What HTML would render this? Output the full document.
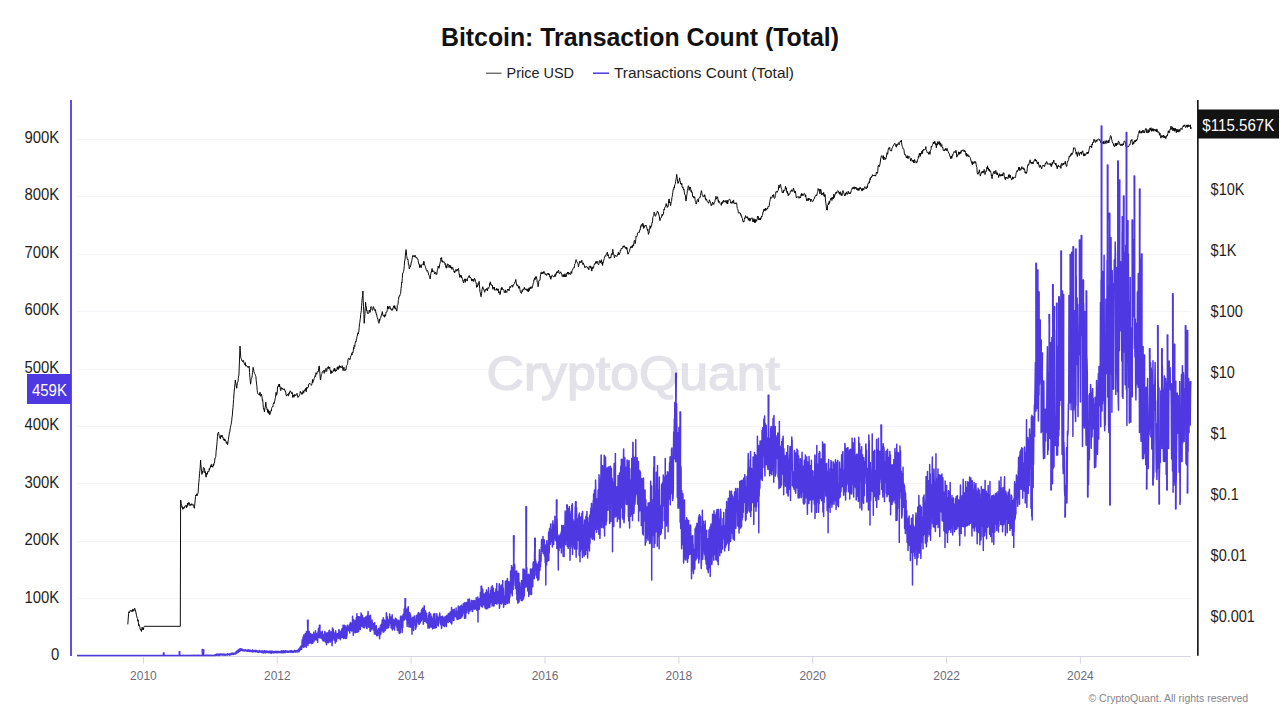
<!DOCTYPE html>
<html><head><meta charset="utf-8"><style>
html,body{margin:0;padding:0;background:#fff;width:1280px;height:720px;overflow:hidden}
svg{display:block;font-family:'Liberation Sans',sans-serif}
</style></head><body>
<svg width="1280" height="720" viewBox="0 0 1280 720" style="font-family:'Liberation Sans',sans-serif">
<rect width="1280" height="720" fill="#fff"/>
<text x="441" y="45.6" font-size="25" font-weight="bold" fill="#111" textLength="398" lengthAdjust="spacingAndGlyphs">Bitcoin: Transaction Count (Total)</text>
<line x1="486" y1="73.2" x2="501.5" y2="73.2" stroke="#333" stroke-width="1"/>
<text x="506.5" y="77.6" font-size="15.5" fill="#222" textLength="67.5" lengthAdjust="spacingAndGlyphs">Price USD</text>
<line x1="593" y1="73.2" x2="609" y2="73.2" stroke="#4e38e2" stroke-width="1.5"/>
<text x="614" y="77.6" font-size="15.5" fill="#222" textLength="180" lengthAdjust="spacingAndGlyphs">Transactions Count (Total)</text>
<line x1="77" y1="598.5" x2="1191" y2="598.5" stroke="#f4f4f8" stroke-width="1"/><line x1="77" y1="541.5" x2="1191" y2="541.5" stroke="#f4f4f8" stroke-width="1"/><line x1="77" y1="483.5" x2="1191" y2="483.5" stroke="#f4f4f8" stroke-width="1"/><line x1="77" y1="426.5" x2="1191" y2="426.5" stroke="#f4f4f8" stroke-width="1"/><line x1="77" y1="369.5" x2="1191" y2="369.5" stroke="#f4f4f8" stroke-width="1"/><line x1="77" y1="311.5" x2="1191" y2="311.5" stroke="#f4f4f8" stroke-width="1"/><line x1="77" y1="254.5" x2="1191" y2="254.5" stroke="#f4f4f8" stroke-width="1"/><line x1="77" y1="196.5" x2="1191" y2="196.5" stroke="#f4f4f8" stroke-width="1"/><line x1="77" y1="139.5" x2="1191" y2="139.5" stroke="#f4f4f8" stroke-width="1"/>
<text x="486.5" y="390.3" font-size="48" fill="#e3e2e9" stroke="#e3e2e9" stroke-width="1.4" textLength="293.5" lengthAdjust="spacingAndGlyphs">CryptoQuant</text>
<line x1="77" y1="656.5" x2="1191" y2="656.5" stroke="#d6d5e3" stroke-width="1"/>
<line x1="143.4" y1="656.5" x2="143.4" y2="663.5" stroke="#d6d5e0" stroke-width="1"/><line x1="277.3" y1="656.5" x2="277.3" y2="663.5" stroke="#d6d5e0" stroke-width="1"/><line x1="411.1" y1="656.5" x2="411.1" y2="663.5" stroke="#d6d5e0" stroke-width="1"/><line x1="545.0" y1="656.5" x2="545.0" y2="663.5" stroke="#d6d5e0" stroke-width="1"/><line x1="678.8" y1="656.5" x2="678.8" y2="663.5" stroke="#d6d5e0" stroke-width="1"/><line x1="812.7" y1="656.5" x2="812.7" y2="663.5" stroke="#d6d5e0" stroke-width="1"/><line x1="946.6" y1="656.5" x2="946.6" y2="663.5" stroke="#d6d5e0" stroke-width="1"/><line x1="1080.4" y1="656.5" x2="1080.4" y2="663.5" stroke="#d6d5e0" stroke-width="1"/>
<text x="143.4" y="680.3" text-anchor="middle" font-size="13" fill="#6b6b7a" textLength="26.6" lengthAdjust="spacingAndGlyphs">2010</text><text x="277.3" y="680.3" text-anchor="middle" font-size="13" fill="#6b6b7a" textLength="26.6" lengthAdjust="spacingAndGlyphs">2012</text><text x="411.1" y="680.3" text-anchor="middle" font-size="13" fill="#6b6b7a" textLength="26.6" lengthAdjust="spacingAndGlyphs">2014</text><text x="545.0" y="680.3" text-anchor="middle" font-size="13" fill="#6b6b7a" textLength="26.6" lengthAdjust="spacingAndGlyphs">2016</text><text x="678.8" y="680.3" text-anchor="middle" font-size="13" fill="#6b6b7a" textLength="26.6" lengthAdjust="spacingAndGlyphs">2018</text><text x="812.7" y="680.3" text-anchor="middle" font-size="13" fill="#6b6b7a" textLength="26.6" lengthAdjust="spacingAndGlyphs">2020</text><text x="946.6" y="680.3" text-anchor="middle" font-size="13" fill="#6b6b7a" textLength="26.6" lengthAdjust="spacingAndGlyphs">2022</text><text x="1080.4" y="680.3" text-anchor="middle" font-size="13" fill="#6b6b7a" textLength="26.6" lengthAdjust="spacingAndGlyphs">2024</text>
<text x="59.2" y="659.9" text-anchor="end" font-size="16" fill="#1e1e1e" textLength="8.26" lengthAdjust="spacingAndGlyphs">0</text><text x="59.2" y="602.5" text-anchor="end" font-size="16" fill="#1e1e1e" textLength="34.70" lengthAdjust="spacingAndGlyphs">100K</text><text x="59.2" y="545.0" text-anchor="end" font-size="16" fill="#1e1e1e" textLength="34.70" lengthAdjust="spacingAndGlyphs">200K</text><text x="59.2" y="487.5" text-anchor="end" font-size="16" fill="#1e1e1e" textLength="34.70" lengthAdjust="spacingAndGlyphs">300K</text><text x="59.2" y="430.1" text-anchor="end" font-size="16" fill="#1e1e1e" textLength="34.70" lengthAdjust="spacingAndGlyphs">400K</text><text x="59.2" y="372.6" text-anchor="end" font-size="16" fill="#1e1e1e" textLength="34.70" lengthAdjust="spacingAndGlyphs">500K</text><text x="59.2" y="315.1" text-anchor="end" font-size="16" fill="#1e1e1e" textLength="34.70" lengthAdjust="spacingAndGlyphs">600K</text><text x="59.2" y="257.6" text-anchor="end" font-size="16" fill="#1e1e1e" textLength="34.70" lengthAdjust="spacingAndGlyphs">700K</text><text x="59.2" y="200.2" text-anchor="end" font-size="16" fill="#1e1e1e" textLength="34.70" lengthAdjust="spacingAndGlyphs">800K</text><text x="59.2" y="142.7" text-anchor="end" font-size="16" fill="#1e1e1e" textLength="34.70" lengthAdjust="spacingAndGlyphs">900K</text>
<text x="1210.6" y="621.8" font-size="16" fill="#1e1e1e" textLength="44.28" lengthAdjust="spacingAndGlyphs">$0.001</text><text x="1210.6" y="560.8" font-size="16" fill="#1e1e1e" textLength="36.24" lengthAdjust="spacingAndGlyphs">$0.01</text><text x="1210.6" y="499.8" font-size="16" fill="#1e1e1e" textLength="28.18" lengthAdjust="spacingAndGlyphs">$0.1</text><text x="1210.6" y="438.8" font-size="16" fill="#1e1e1e" textLength="16.11" lengthAdjust="spacingAndGlyphs">$1</text><text x="1210.6" y="377.8" font-size="16" fill="#1e1e1e" textLength="24.15" lengthAdjust="spacingAndGlyphs">$10</text><text x="1210.6" y="316.8" font-size="16" fill="#1e1e1e" textLength="32.21" lengthAdjust="spacingAndGlyphs">$100</text><text x="1210.6" y="255.8" font-size="16" fill="#1e1e1e" textLength="25.77" lengthAdjust="spacingAndGlyphs">$1K</text><text x="1210.6" y="194.8" font-size="16" fill="#1e1e1e" textLength="33.82" lengthAdjust="spacingAndGlyphs">$10K</text>
<path d="M127.8,624.4 L128.6,613.4 L128.9,611.8 L129.2,613.0 L129.5,611.7 L129.8,611.2 L130.2,610.6 L130.5,611.0 L130.8,610.5 L131.1,611.5 L131.4,610.6 L131.8,611.2 L132.1,611.8 L132.4,611.1 L132.7,609.2 L133.1,609.0 L133.4,611.1 L133.7,611.1 L134.1,610.7 L134.4,609.4 L134.7,608.2 L135.1,609.7 L135.4,609.9 L136.6,615.8 L136.9,617.1 L137.2,618.3 L137.5,618.6 L137.8,621.2 L138.1,619.9 L138.4,622.7 L138.7,625.7 L139.0,624.5 L139.3,626.1 L139.6,626.1 L139.9,627.4 L140.2,629.1 L140.5,630.2 L140.8,629.7 L141.2,630.2 L141.5,631.5 L141.8,628.3 L142.1,627.2 L142.5,628.3 L142.8,629.8 L143.1,628.2 L143.4,629.7 L143.8,627.2 L144.1,626.5 L144.4,626.3 L180.3,626.3 L180.6,500.0 L180.9,500.5 L181.2,503.6 L181.6,504.9 L181.9,507.4 L182.2,506.6 L182.5,507.8 L182.8,509.4 L183.1,507.1 L183.4,507.6 L183.7,508.6 L184.1,507.8 L184.4,507.9 L184.7,506.3 L185.0,506.2 L185.3,505.5 L185.6,505.4 L185.9,506.5 L186.2,507.1 L186.5,507.9 L186.8,505.3 L187.1,506.7 L187.4,504.0 L187.7,503.1 L188.0,505.2 L188.3,503.8 L188.6,502.5 L188.9,503.8 L189.2,502.8 L189.5,504.2 L189.9,505.9 L190.2,505.5 L190.5,504.9 L190.8,504.0 L191.1,504.5 L191.4,503.7 L191.7,505.0 L192.0,505.4 L192.3,504.6 L192.6,503.9 L192.9,504.2 L193.2,504.7 L193.5,505.7 L193.8,506.7 L194.1,507.9 L194.4,508.3 L195.5,496.7 L195.8,495.1 L196.2,495.9 L196.5,493.8 L196.8,494.4 L197.1,495.8 L197.5,494.1 L197.8,493.9 L198.2,491.9 L198.5,486.2 L198.8,482.7 L199.2,478.6 L199.5,473.7 L199.9,470.4 L200.2,467.1 L200.6,460.0 L200.9,464.8 L201.2,468.0 L201.6,471.8 L201.9,474.4 L202.2,473.3 L202.6,471.3 L203.0,472.3 L203.3,467.5 L203.6,467.6 L203.9,467.9 L204.2,467.9 L204.5,468.6 L204.9,472.8 L205.2,471.5 L205.5,473.0 L205.8,476.0 L206.1,477.2 L206.4,475.8 L206.7,473.4 L207.0,473.0 L207.3,474.3 L207.7,471.7 L208.0,471.2 L208.3,471.7 L208.6,471.8 L208.9,471.7 L209.2,468.7 L209.5,469.8 L209.8,468.1 L210.2,468.1 L210.5,465.9 L210.8,466.4 L211.1,464.6 L211.4,464.4 L211.7,467.0 L212.1,466.0 L212.4,466.2 L212.7,467.3 L213.0,466.0 L213.3,464.1 L213.6,465.7 L213.9,464.1 L214.2,463.0 L214.6,461.9 L214.9,458.2 L215.2,458.3 L215.5,457.4 L215.8,456.4 L216.1,451.5 L216.5,448.0 L216.8,444.9 L217.1,441.6 L217.5,436.5 L217.8,433.3 L218.1,433.2 L218.5,432.1 L218.8,433.5 L219.1,435.3 L219.4,436.7 L219.8,437.8 L220.1,437.6 L220.4,438.8 L220.7,435.6 L221.1,435.3 L221.4,437.0 L221.7,437.0 L222.0,435.0 L222.3,436.4 L222.6,437.4 L222.9,436.9 L223.2,438.2 L223.5,440.0 L223.8,440.0 L224.1,440.3 L224.4,438.8 L224.8,440.9 L225.1,439.5 L225.4,440.5 L225.7,440.5 L226.0,441.1 L226.3,443.4 L226.6,443.3 L226.9,441.9 L227.2,442.3 L227.5,444.6 L227.8,443.9 L228.1,440.9 L228.5,439.4 L228.8,436.5 L229.1,434.9 L229.4,432.3 L229.8,432.4 L230.1,429.0 L230.4,427.5 L230.8,425.5 L231.1,424.4 L231.4,422.8 L231.7,420.7 L232.0,417.3 L232.4,414.9 L232.7,410.0 L233.0,407.4 L233.3,403.6 L233.6,399.5 L234.0,394.0 L234.3,390.0 L234.6,387.8 L235.0,383.6 L235.3,380.0 L235.7,382.9 L236.0,383.9 L236.3,386.0 L236.7,388.3 L237.0,385.9 L237.3,382.9 L237.6,382.1 L238.0,381.4 L238.3,378.5 L238.6,375.8 L238.9,375.8 L240.0,346.1 L240.8,357.8 L241.1,358.2 L241.4,359.2 L241.7,360.4 L242.0,360.1 L242.4,361.0 L242.7,361.8 L243.0,360.8 L243.3,360.6 L243.6,360.6 L243.9,362.9 L244.3,363.6 L244.6,364.4 L244.9,365.0 L245.3,362.6 L245.6,366.1 L245.9,365.9 L246.3,365.1 L246.6,365.7 L246.9,366.4 L247.2,366.6 L247.6,366.9 L247.9,366.1 L248.2,367.6 L248.5,367.0 L248.9,366.5 L249.2,366.1 L249.5,372.5 L249.9,377.2 L250.2,380.2 L250.6,384.2 L250.9,382.2 L251.2,379.3 L251.5,378.4 L251.9,377.4 L252.2,375.6 L252.5,372.6 L252.8,370.3 L253.1,367.4 L253.4,368.6 L253.7,370.1 L254.0,371.7 L254.4,373.3 L254.7,373.5 L255.0,374.0 L255.3,374.8 L255.6,375.8 L255.9,376.7 L256.2,380.2 L256.6,384.1 L256.9,386.4 L257.2,390.3 L257.5,392.5 L257.8,393.7 L258.1,394.0 L258.5,394.1 L258.8,394.2 L259.1,395.1 L259.4,395.2 L259.8,392.6 L260.1,392.2 L260.4,394.4 L260.7,396.3 L261.1,395.6 L261.4,394.0 L261.7,395.3 L262.0,396.7 L262.4,400.4 L262.7,399.8 L263.0,403.5 L263.4,407.7 L263.7,409.2 L264.1,408.8 L264.4,411.9 L264.8,409.1 L265.1,407.5 L265.4,406.1 L265.8,402.2 L266.1,405.1 L266.4,406.7 L266.8,408.0 L267.1,410.0 L267.4,409.4 L267.7,412.4 L268.1,409.7 L268.4,413.3 L268.7,412.2 L269.0,410.9 L269.4,411.9 L269.7,414.7 L270.0,414.7 L270.3,412.4 L270.6,412.6 L271.0,410.5 L271.3,411.0 L271.6,408.5 L271.9,407.7 L272.3,406.7 L272.6,406.6 L272.9,406.9 L273.2,404.5 L273.6,402.7 L273.9,403.7 L274.2,403.6 L274.5,402.0 L274.8,400.6 L275.1,398.8 L275.5,397.2 L275.8,394.3 L276.1,392.3 L276.4,395.2 L276.7,395.1 L277.0,393.7 L277.3,391.0 L277.6,386.7 L278.0,386.3 L278.3,386.9 L278.6,385.2 L278.9,384.2 L279.2,386.8 L279.5,384.1 L279.8,386.5 L280.1,386.5 L280.4,389.5 L280.7,390.7 L281.0,389.6 L281.3,387.5 L281.6,388.3 L281.9,388.3 L282.2,389.2 L282.5,388.3 L282.8,388.5 L283.1,389.3 L283.5,389.9 L283.8,389.6 L284.1,388.7 L284.4,389.0 L284.8,390.4 L285.1,391.2 L285.4,390.8 L285.7,392.0 L286.1,395.0 L286.4,395.6 L286.7,396.1 L287.0,395.1 L287.3,394.4 L287.6,394.6 L287.9,394.3 L288.2,395.7 L288.5,395.9 L288.8,393.3 L289.1,394.3 L289.4,392.0 L289.8,392.8 L290.1,390.8 L290.4,391.4 L290.7,391.2 L291.0,392.1 L291.3,392.4 L291.6,392.5 L291.9,393.9 L292.2,392.5 L292.5,394.3 L292.8,397.5 L293.1,395.1 L293.4,395.1 L293.7,396.1 L294.0,397.2 L294.3,394.4 L294.6,395.5 L294.9,395.3 L295.2,396.0 L295.5,394.7 L295.8,395.0 L296.1,395.4 L296.4,394.6 L296.7,394.0 L297.0,393.3 L297.3,394.3 L297.6,395.0 L297.9,397.5 L298.2,396.4 L298.5,396.8 L298.8,396.6 L299.1,396.0 L299.4,395.5 L299.7,394.5 L300.0,393.7 L300.3,391.3 L300.6,392.5 L300.9,392.5 L301.2,392.2 L301.5,392.8 L301.9,394.5 L302.2,393.4 L302.5,392.5 L302.8,393.7 L303.1,390.6 L303.4,391.1 L303.8,392.7 L304.1,390.9 L304.4,390.8 L304.7,389.7 L305.0,390.6 L305.3,390.3 L305.7,388.3 L306.0,390.5 L306.3,391.8 L306.6,387.7 L307.0,388.5 L307.3,387.0 L307.6,387.9 L307.9,387.5 L308.3,387.2 L308.6,384.2 L308.9,384.2 L310.0,383.3 L310.3,383.8 L310.6,384.1 L310.9,384.4 L311.3,385.4 L311.6,384.8 L311.9,383.9 L312.2,382.6 L312.5,379.5 L312.8,382.7 L313.1,380.6 L313.5,380.8 L313.8,379.6 L314.1,378.6 L314.4,377.8 L314.7,376.8 L315.0,375.7 L315.3,376.4 L315.6,376.6 L315.9,372.7 L316.3,373.0 L316.6,374.3 L316.9,374.1 L317.2,372.2 L317.5,371.7 L317.8,372.2 L318.1,371.1 L318.4,371.3 L318.7,367.9 L319.0,366.2 L319.3,366.0 L320.4,380.0 L320.7,379.4 L321.0,377.1 L321.3,374.7 L321.6,374.1 L321.9,373.8 L322.2,372.2 L322.5,371.5 L322.8,371.1 L323.1,370.7 L323.4,370.7 L323.8,370.3 L324.1,373.4 L324.4,371.5 L324.7,370.3 L325.0,371.8 L325.3,370.1 L325.6,369.5 L325.9,368.5 L326.2,370.3 L326.6,371.5 L326.9,370.4 L327.2,367.7 L327.5,367.6 L327.8,367.8 L328.1,368.6 L328.4,366.5 L328.7,368.5 L329.1,368.3 L329.4,367.5 L329.7,366.9 L330.0,369.9 L330.3,370.8 L330.6,370.6 L330.9,373.7 L331.3,370.7 L331.6,372.3 L331.9,373.1 L332.2,372.2 L332.5,372.2 L332.8,372.2 L333.1,370.7 L333.4,370.2 L333.8,371.1 L334.1,368.6 L334.4,370.6 L334.7,368.3 L335.0,370.1 L335.3,371.7 L335.6,371.4 L335.9,369.5 L336.2,370.6 L336.6,370.5 L336.9,369.8 L337.2,367.3 L337.5,369.1 L337.8,367.8 L338.1,366.5 L338.4,369.4 L338.7,367.4 L339.1,368.3 L339.4,365.5 L339.7,367.0 L340.0,367.2 L340.3,367.4 L340.6,366.3 L340.9,367.2 L341.3,367.9 L341.6,367.0 L341.9,366.6 L342.2,365.6 L342.5,366.1 L342.8,369.3 L343.1,370.6 L343.4,368.9 L343.7,367.6 L344.0,367.2 L344.3,370.4 L344.6,370.3 L344.9,370.6 L345.2,370.7 L345.5,369.1 L345.8,369.4 L346.1,369.5 L346.4,365.8 L346.7,365.6 L347.0,365.2 L347.3,364.7 L347.6,363.6 L348.0,359.8 L348.3,358.4 L348.6,358.4 L348.9,357.9 L349.2,358.5 L349.5,358.9 L349.8,359.8 L350.2,359.0 L350.5,357.4 L350.8,356.0 L351.1,355.6 L351.4,355.0 L351.7,353.4 L352.0,355.0 L352.3,352.3 L352.7,353.0 L353.0,352.6 L353.3,350.2 L353.6,347.5 L353.9,348.8 L354.2,345.4 L354.5,346.0 L354.8,346.5 L355.1,343.3 L355.5,341.7 L355.8,341.1 L356.1,341.6 L356.4,338.9 L356.7,338.9 L357.0,336.5 L357.3,336.1 L357.6,333.9 L358.0,332.6 L358.3,333.8 L358.6,332.2 L358.9,331.1 L359.2,327.3 L359.5,323.9 L359.8,322.6 L360.1,319.8 L360.4,318.4 L360.7,314.3 L361.0,312.8 L361.3,310.4 L361.6,305.6 L361.9,302.1 L362.2,298.1 L362.6,295.5 L362.9,291.1 L363.2,300.0 L363.5,306.7 L363.9,314.7 L364.2,323.3 L364.6,318.5 L364.9,314.4 L365.2,308.9 L365.6,302.2 L365.9,305.8 L366.3,306.4 L366.6,310.6 L367.0,310.1 L367.3,313.3 L367.6,313.5 L367.9,312.8 L368.2,313.2 L368.6,313.4 L368.9,312.5 L369.2,310.1 L369.5,311.4 L369.8,312.4 L370.2,312.2 L370.5,308.5 L370.8,306.8 L371.1,306.7 L371.4,306.6 L371.7,307.4 L372.0,309.6 L372.3,310.4 L372.7,310.1 L373.0,308.9 L373.3,306.6 L373.6,307.5 L373.9,307.5 L374.2,309.3 L374.5,309.3 L374.8,310.7 L375.1,310.2 L375.5,309.6 L375.8,312.7 L376.1,312.5 L376.4,314.8 L376.7,314.4 L377.0,316.8 L377.3,317.5 L377.6,318.8 L378.0,318.7 L378.3,321.9 L378.6,322.3 L378.9,323.3 L379.2,322.7 L379.5,319.4 L379.8,320.4 L380.2,318.6 L380.5,317.8 L380.8,317.8 L381.1,315.6 L381.4,315.5 L381.7,313.8 L382.0,314.2 L382.3,311.6 L382.7,314.1 L383.0,315.3 L383.3,316.2 L383.6,315.3 L383.9,315.6 L384.2,315.7 L384.5,317.2 L384.8,314.7 L385.1,315.0 L385.5,316.2 L385.8,313.8 L386.1,312.0 L386.4,312.1 L386.7,312.2 L387.0,311.2 L387.3,309.8 L387.6,306.2 L387.9,308.2 L388.2,306.6 L388.5,307.0 L388.8,309.1 L389.1,307.8 L389.4,307.4 L389.7,306.2 L390.0,306.7 L390.3,307.4 L390.6,309.2 L390.9,309.1 L391.2,309.1 L391.6,310.0 L391.9,310.5 L392.2,308.7 L392.5,309.7 L392.8,309.6 L393.1,308.0 L393.4,307.1 L393.7,305.8 L394.0,306.4 L394.4,308.2 L394.7,305.6 L395.0,307.3 L395.3,309.1 L395.6,307.8 L396.7,311.1 L397.0,310.1 L397.3,305.3 L397.6,304.8 L398.0,304.6 L398.3,300.6 L398.6,299.7 L398.9,296.7 L399.2,296.9 L399.5,295.6 L399.8,295.9 L400.1,294.5 L400.4,294.0 L400.7,293.3 L401.0,288.5 L401.4,285.8 L401.7,282.3 L402.0,282.8 L402.3,278.3 L402.6,273.4 L403.0,273.3 L403.3,272.2 L403.6,271.6 L404.0,269.0 L404.3,265.5 L404.6,261.0 L405.0,260.0 L405.3,256.0 L405.7,251.8 L406.0,249.6 L406.3,251.1 L406.6,255.4 L406.9,256.8 L407.2,259.3 L407.5,259.6 L407.8,258.9 L408.1,260.2 L408.4,264.2 L408.7,263.9 L409.0,266.5 L409.3,268.9 L409.6,267.8 L409.9,267.6 L410.2,265.6 L410.5,266.7 L410.8,265.3 L411.2,262.3 L411.5,262.6 L411.8,260.6 L412.1,259.0 L412.4,257.3 L412.7,255.6 L413.0,256.5 L413.3,256.6 L413.6,255.6 L413.9,255.4 L414.2,255.9 L414.5,257.1 L414.8,256.7 L415.1,255.2 L415.4,256.7 L415.7,256.8 L416.0,257.8 L416.3,257.3 L416.6,257.2 L416.9,257.7 L417.2,259.0 L417.5,259.0 L417.8,258.9 L418.1,260.3 L418.4,261.9 L418.7,263.8 L419.0,263.6 L419.3,264.9 L419.6,267.5 L419.9,264.6 L420.2,266.2 L420.5,266.7 L420.8,265.7 L421.1,267.8 L421.4,266.8 L421.8,264.6 L422.1,264.5 L422.4,264.1 L422.8,263.7 L423.1,264.8 L423.4,265.0 L423.7,261.2 L424.1,261.7 L424.4,263.3 L424.7,265.2 L425.0,265.4 L425.3,266.2 L425.6,267.8 L425.9,268.1 L426.3,270.4 L426.6,270.7 L426.9,271.3 L427.2,270.9 L427.5,270.5 L427.8,271.1 L428.1,273.1 L428.4,273.1 L428.7,274.9 L429.1,275.2 L429.4,276.5 L429.7,277.2 L430.0,278.9 L430.3,278.0 L430.6,275.3 L430.9,273.3 L431.2,271.8 L431.5,272.0 L431.8,270.0 L432.1,268.5 L432.4,271.8 L432.7,270.8 L433.0,270.6 L433.3,271.4 L433.6,271.2 L433.9,271.0 L434.2,271.8 L434.6,273.9 L434.9,273.5 L435.2,273.3 L435.5,272.1 L435.8,272.5 L436.1,274.4 L436.4,273.7 L436.7,274.4 L437.0,272.9 L437.3,270.1 L437.6,269.5 L437.9,268.1 L438.2,266.0 L438.5,267.8 L438.8,267.8 L439.1,268.2 L439.4,267.2 L439.7,264.1 L440.0,263.3 L440.3,261.7 L440.6,260.8 L440.9,257.9 L441.2,258.9 L441.6,257.5 L441.9,261.7 L442.2,260.5 L442.5,260.9 L442.8,262.3 L443.1,261.8 L443.4,261.8 L443.7,262.2 L444.0,261.7 L444.4,262.9 L444.7,263.4 L445.0,264.6 L445.3,263.5 L445.6,264.4 L445.9,267.4 L446.2,265.6 L446.5,268.2 L446.9,267.7 L447.2,265.9 L447.5,263.8 L447.8,264.3 L448.1,264.6 L448.4,264.5 L448.7,265.8 L449.1,267.5 L449.4,266.0 L449.7,265.2 L450.0,265.3 L450.3,267.8 L450.6,265.7 L450.9,267.3 L451.3,268.2 L451.6,267.0 L451.9,269.4 L452.2,267.8 L452.5,267.6 L452.8,267.3 L453.1,268.7 L453.5,269.9 L453.8,270.5 L454.1,272.2 L454.4,271.1 L454.7,272.8 L455.0,270.9 L455.3,271.0 L455.6,271.3 L455.9,269.4 L456.2,270.2 L456.5,270.0 L456.8,271.2 L457.1,269.9 L457.4,269.0 L457.7,270.3 L458.0,269.7 L458.3,268.4 L458.6,268.6 L458.9,272.2 L459.2,274.5 L459.5,274.0 L459.8,277.4 L460.2,275.5 L460.5,275.3 L460.8,277.1 L461.1,275.2 L461.4,275.8 L461.7,278.0 L462.0,277.6 L462.4,279.0 L462.7,279.8 L463.0,281.4 L463.3,282.2 L463.6,282.9 L463.9,280.2 L464.3,280.4 L464.6,279.1 L464.9,278.8 L465.2,282.4 L465.6,279.1 L465.9,278.9 L466.2,280.1 L466.6,280.0 L466.9,280.0 L467.2,281.1 L467.5,278.2 L467.8,277.8 L468.1,277.8 L468.5,277.3 L468.8,275.9 L469.1,275.9 L469.4,275.6 L469.7,277.3 L470.0,277.9 L470.3,277.0 L470.6,277.5 L471.0,277.9 L471.3,279.0 L471.6,280.7 L471.9,279.0 L472.2,281.1 L472.5,279.4 L472.8,279.3 L473.1,279.0 L473.4,281.2 L473.8,281.6 L474.1,279.7 L474.4,278.5 L474.7,278.2 L475.0,280.0 L475.3,279.9 L475.6,281.6 L475.9,281.9 L476.3,284.1 L476.6,287.4 L476.9,286.1 L477.2,287.0 L477.5,285.1 L477.8,285.5 L478.1,283.3 L478.5,284.7 L478.8,284.2 L479.1,281.3 L479.4,284.4 L479.7,288.5 L480.0,292.0 L480.4,293.0 L480.7,295.6 L481.0,296.7 L481.3,295.8 L481.6,293.6 L481.9,289.9 L482.2,289.0 L482.5,287.8 L482.8,286.7 L483.1,288.7 L483.4,288.5 L483.7,289.6 L484.1,289.4 L484.4,291.6 L484.7,292.3 L485.0,291.1 L485.3,290.2 L485.6,289.3 L485.9,290.3 L486.3,289.7 L486.6,288.5 L486.9,288.6 L487.2,288.9 L487.5,291.0 L487.8,287.9 L488.1,287.6 L488.4,288.1 L488.7,288.5 L489.0,287.4 L489.4,286.7 L489.7,283.5 L490.0,284.1 L490.3,281.8 L490.6,282.6 L490.9,285.1 L491.2,284.4 L491.5,284.9 L491.8,285.1 L492.1,285.9 L492.4,285.1 L492.7,288.0 L493.0,289.3 L493.3,287.0 L493.6,287.7 L494.0,288.4 L494.3,287.1 L494.6,290.2 L494.9,289.7 L495.2,289.5 L495.5,290.1 L495.8,290.2 L496.1,290.0 L496.4,289.9 L496.7,288.3 L497.0,290.5 L497.3,290.3 L497.6,289.3 L497.9,290.4 L498.2,288.8 L498.5,290.7 L498.8,292.9 L499.1,291.6 L499.4,293.6 L499.7,294.4 L500.0,294.3 L500.3,294.4 L500.6,290.7 L500.9,290.7 L501.2,288.1 L501.5,287.6 L501.8,290.0 L502.1,287.5 L502.4,288.4 L502.7,289.1 L503.0,289.1 L503.4,289.8 L503.7,289.5 L504.0,290.8 L504.3,292.5 L504.6,292.0 L504.9,291.6 L505.2,292.8 L505.5,289.9 L505.8,292.0 L506.1,291.6 L506.4,292.0 L506.8,292.5 L507.1,291.1 L507.4,290.1 L507.8,289.0 L508.1,289.9 L508.4,290.1 L508.7,289.4 L509.1,290.8 L509.4,288.9 L509.7,288.1 L510.0,286.3 L510.3,287.5 L510.6,287.7 L510.9,286.7 L511.2,285.9 L511.5,285.7 L511.8,285.3 L512.1,284.9 L512.4,286.2 L512.7,287.2 L513.0,286.2 L513.3,285.2 L513.6,284.3 L513.9,284.0 L514.2,284.1 L514.5,283.4 L514.8,282.0 L515.2,282.1 L515.5,281.3 L515.8,279.5 L516.1,281.4 L516.4,283.9 L516.7,285.2 L517.0,285.8 L517.4,285.4 L517.7,284.7 L518.0,286.3 L518.3,286.7 L518.6,288.3 L519.0,286.0 L519.3,287.5 L519.6,287.1 L519.9,289.5 L520.3,291.2 L520.6,292.2 L520.9,293.0 L521.2,293.2 L521.5,293.4 L521.9,290.5 L522.2,290.6 L522.5,291.5 L522.8,290.0 L523.1,289.1 L523.4,289.9 L523.7,289.9 L524.1,288.1 L524.4,287.3 L524.7,289.1 L525.0,288.6 L525.3,289.5 L525.6,289.6 L525.9,289.2 L526.3,288.9 L526.6,290.1 L526.9,290.7 L527.2,290.7 L527.5,291.1 L527.8,288.9 L528.1,291.6 L528.4,291.9 L528.7,289.4 L529.0,287.8 L529.3,290.5 L529.6,288.9 L529.9,288.7 L530.2,287.0 L530.5,286.9 L530.8,288.9 L531.1,287.2 L531.4,286.9 L531.7,286.7 L532.0,288.2 L532.3,286.8 L532.6,286.7 L533.0,284.2 L533.3,283.1 L533.6,282.6 L533.9,280.0 L534.2,280.2 L534.5,278.0 L534.8,277.7 L535.1,279.7 L535.4,278.5 L535.7,276.7 L536.0,277.4 L536.3,276.6 L536.6,278.0 L536.9,279.3 L537.2,282.2 L537.5,282.8 L537.8,284.2 L538.1,286.7 L538.5,283.8 L538.8,281.0 L539.1,280.6 L539.4,280.0 L539.7,280.3 L540.0,280.1 L540.3,276.7 L540.6,274.8 L540.9,272.5 L541.3,272.2 L541.6,274.0 L541.9,273.5 L542.2,274.0 L542.5,272.2 L542.8,272.2 L543.1,273.4 L543.4,273.3 L543.7,271.6 L544.1,271.4 L544.4,272.7 L544.7,272.5 L545.0,274.4 L545.3,274.6 L545.6,275.0 L545.9,273.7 L546.3,274.8 L546.6,275.5 L546.9,274.8 L547.2,274.4 L547.5,273.5 L547.8,273.6 L548.1,273.0 L548.4,274.8 L548.7,273.4 L549.1,274.8 L549.4,274.2 L549.7,276.0 L550.0,277.2 L550.3,276.2 L550.6,278.9 L550.9,279.3 L551.3,277.0 L551.6,277.1 L551.9,275.4 L552.2,275.3 L552.6,275.8 L552.9,275.8 L553.2,276.6 L553.6,276.9 L553.9,276.7 L554.2,276.0 L554.5,276.4 L554.8,274.6 L555.2,276.0 L555.5,276.4 L555.8,273.6 L556.1,274.4 L556.4,273.7 L556.7,271.8 L557.0,273.0 L557.3,271.8 L557.6,271.5 L557.9,272.7 L558.2,271.1 L558.5,270.0 L558.8,271.3 L559.1,273.1 L559.5,273.7 L559.8,273.0 L560.1,273.1 L560.4,272.9 L560.7,271.8 L561.0,272.7 L561.3,273.1 L561.6,274.3 L561.9,274.1 L562.2,276.6 L562.5,276.5 L562.8,275.6 L563.1,274.7 L563.4,274.9 L563.7,276.9 L564.1,274.5 L564.4,275.5 L564.7,276.6 L565.0,273.7 L565.3,277.0 L565.6,276.6 L565.9,275.4 L566.3,276.5 L566.6,274.3 L566.9,273.0 L567.2,273.3 L567.5,272.0 L567.8,273.5 L568.1,274.3 L568.4,272.3 L568.7,272.0 L569.0,274.3 L569.3,273.1 L569.6,273.5 L569.9,273.4 L570.2,274.3 L570.5,274.3 L570.8,274.4 L571.1,271.6 L571.4,272.8 L571.7,273.3 L572.0,270.9 L572.3,270.3 L572.6,270.0 L573.0,268.6 L573.3,268.3 L573.6,267.8 L573.9,267.8 L574.2,268.1 L574.5,265.6 L574.8,263.9 L575.2,263.5 L575.5,263.2 L575.8,261.0 L576.1,259.6 L576.4,261.5 L576.8,261.9 L577.1,261.8 L577.4,262.4 L577.8,262.6 L578.1,264.7 L578.4,266.8 L578.7,265.4 L579.1,263.9 L579.4,263.3 L579.7,261.2 L580.0,261.0 L580.3,262.0 L580.6,262.4 L580.9,262.9 L581.2,261.6 L581.5,261.9 L581.8,260.2 L582.1,261.3 L582.4,262.7 L582.7,262.8 L583.0,264.7 L583.3,262.9 L583.6,264.1 L583.9,264.4 L585.0,267.8 L585.3,266.9 L585.6,266.6 L585.9,266.9 L586.3,266.7 L586.6,266.2 L586.9,267.3 L587.2,267.4 L587.5,267.7 L587.8,267.2 L588.1,269.0 L588.5,268.8 L588.8,269.8 L589.1,267.2 L589.4,266.2 L589.7,266.0 L590.0,266.6 L590.3,267.7 L590.6,265.9 L590.9,267.2 L591.2,268.6 L591.5,268.1 L591.8,271.1 L592.1,266.8 L592.4,268.4 L592.7,269.0 L593.0,268.4 L593.3,267.1 L593.6,267.5 L593.9,265.6 L594.2,264.4 L594.5,264.5 L594.8,263.6 L595.2,264.1 L595.5,262.1 L595.8,262.1 L596.1,261.4 L596.4,262.4 L596.7,263.3 L597.0,261.1 L597.4,263.2 L597.7,263.6 L598.0,264.1 L598.3,264.4 L598.6,264.9 L598.9,263.8 L599.2,261.4 L599.5,260.5 L599.8,260.9 L600.2,262.9 L600.5,262.6 L600.8,260.8 L601.1,262.0 L601.4,259.7 L601.7,261.1 L602.0,264.2 L602.3,262.1 L602.6,265.5 L602.9,262.8 L603.2,262.9 L603.5,261.1 L603.9,260.0 L604.2,258.6 L604.5,257.0 L604.8,256.4 L605.1,255.7 L605.4,255.8 L605.7,256.3 L606.0,255.0 L606.3,254.1 L606.6,253.7 L606.9,254.1 L607.2,252.1 L607.6,252.8 L607.9,256.0 L608.2,254.7 L608.5,256.4 L608.8,257.0 L609.1,258.4 L609.4,258.2 L609.7,257.5 L610.0,258.1 L610.3,256.9 L610.6,258.0 L610.9,257.8 L611.3,254.2 L611.6,254.5 L611.9,253.4 L612.2,254.6 L612.5,251.5 L612.8,249.3 L613.1,251.6 L613.4,253.2 L613.7,254.6 L614.0,254.4 L614.3,257.8 L614.6,257.4 L614.9,256.5 L615.2,255.1 L615.5,255.8 L615.8,256.1 L616.1,255.8 L616.5,256.0 L616.8,256.5 L617.1,255.8 L617.4,255.6 L617.7,254.0 L618.0,254.6 L618.3,252.2 L618.6,252.7 L619.0,254.9 L619.3,253.0 L619.7,253.4 L620.0,252.7 L620.3,250.5 L620.7,251.0 L621.0,249.3 L621.3,248.4 L621.6,249.0 L622.0,248.1 L622.3,248.4 L622.6,247.8 L623.0,245.8 L623.3,246.0 L623.6,247.2 L624.0,247.0 L624.3,245.7 L624.6,246.9 L624.9,247.7 L625.3,247.3 L625.6,247.3 L625.9,248.7 L626.2,247.0 L626.5,249.3 L626.9,247.7 L627.2,249.8 L627.5,252.1 L627.8,254.0 L628.1,254.2 L628.4,253.9 L628.7,252.5 L629.1,251.7 L629.4,251.5 L629.7,250.2 L630.0,248.9 L630.3,248.1 L630.7,246.7 L631.0,247.3 L631.3,246.5 L631.6,246.6 L632.0,248.0 L632.3,245.5 L632.6,247.0 L633.0,245.4 L633.3,244.4 L633.6,245.7 L633.9,242.4 L634.2,241.1 L634.5,240.3 L634.8,240.7 L635.2,243.7 L635.5,241.6 L635.8,239.3 L636.1,236.3 L636.4,237.1 L636.7,236.7 L637.0,235.9 L637.3,235.1 L637.6,233.1 L638.0,232.7 L638.3,232.1 L638.6,232.3 L638.9,232.2 L639.2,232.6 L639.5,231.0 L639.8,229.8 L640.2,230.0 L640.5,226.5 L640.8,227.2 L641.1,225.1 L641.4,224.5 L641.8,225.8 L642.1,226.4 L642.4,224.9 L642.8,223.2 L643.1,224.7 L643.4,224.5 L643.7,228.5 L644.1,226.9 L644.4,227.3 L644.7,225.7 L645.0,226.0 L645.3,226.0 L645.6,226.0 L645.9,225.0 L646.3,226.4 L646.6,226.9 L646.9,228.1 L647.2,229.5 L647.5,230.6 L647.8,228.9 L648.4,234.4 L648.7,233.3 L649.0,233.1 L649.4,230.2 L649.7,229.2 L650.0,225.6 L650.3,226.2 L650.6,228.3 L650.9,226.7 L651.3,226.6 L651.6,225.9 L651.9,222.9 L652.2,222.2 L652.5,222.6 L652.8,217.7 L653.1,216.7 L653.5,216.1 L653.8,215.4 L654.1,212.2 L654.4,213.3 L654.7,213.9 L655.0,215.7 L655.4,216.3 L655.7,215.5 L656.0,215.4 L656.3,213.4 L656.7,213.0 L657.0,213.3 L657.3,211.1 L657.6,211.5 L657.9,211.7 L658.3,212.2 L658.6,214.5 L658.9,214.4 L660.0,220.7 L660.3,218.2 L660.6,217.8 L660.9,217.7 L661.2,217.3 L661.5,217.4 L661.8,215.5 L662.1,214.3 L662.4,215.9 L662.7,214.4 L663.0,214.2 L663.3,214.4 L663.7,211.4 L664.0,209.0 L664.3,209.8 L664.6,208.2 L665.0,207.0 L665.3,206.8 L665.6,205.6 L665.9,205.3 L666.2,203.6 L666.5,206.0 L666.9,205.3 L667.2,207.5 L667.5,207.1 L667.8,206.7 L668.1,206.7 L668.4,203.2 L668.7,200.3 L669.0,198.9 L669.3,200.0 L669.6,203.0 L670.0,202.1 L670.4,204.6 L670.7,205.6 L671.0,203.2 L671.3,201.5 L671.6,200.9 L671.9,197.7 L672.2,196.7 L672.5,194.2 L672.8,192.6 L673.1,189.9 L673.5,188.8 L673.8,189.2 L674.1,186.9 L674.4,187.8 L674.7,184.9 L675.1,184.6 L675.4,183.3 L675.7,181.2 L676.0,179.5 L676.4,177.3 L676.7,174.4 L677.0,176.5 L677.3,178.7 L677.6,181.3 L677.9,183.5 L678.2,183.3 L678.6,182.0 L678.9,180.8 L679.2,180.5 L679.6,177.8 L679.9,180.4 L680.2,180.9 L680.5,183.8 L680.8,183.0 L681.1,184.1 L681.5,184.9 L681.8,183.4 L682.1,186.9 L682.4,187.8 L682.7,187.1 L683.0,186.8 L683.3,188.9 L683.6,190.0 L683.9,189.1 L684.2,191.0 L684.5,194.1 L684.8,194.2 L685.1,195.3 L685.4,195.4 L685.7,199.0 L686.0,201.1 L686.4,199.5 L686.7,195.9 L687.1,193.4 L687.4,190.4 L687.8,188.9 L688.1,186.5 L688.4,185.7 L688.8,186.7 L689.1,190.4 L689.4,189.9 L689.7,187.3 L690.1,188.2 L690.4,187.1 L690.7,188.9 L691.0,191.7 L691.4,190.6 L691.7,192.5 L692.0,191.9 L692.3,193.0 L692.6,196.6 L693.0,196.9 L693.3,196.7 L693.6,196.2 L693.9,198.1 L694.2,196.7 L694.5,197.1 L694.8,197.0 L695.2,200.6 L695.5,201.3 L695.8,202.4 L696.1,204.0 L696.4,204.0 L696.7,202.2 L697.0,200.7 L697.3,199.8 L697.6,199.4 L698.0,199.4 L698.3,201.9 L698.6,199.7 L698.9,198.5 L699.2,198.0 L699.5,197.8 L699.8,197.2 L700.2,197.4 L700.5,195.3 L700.8,193.4 L701.1,192.2 L701.4,190.6 L701.8,192.1 L702.1,194.2 L702.4,195.6 L702.8,196.3 L703.1,196.5 L703.4,195.7 L703.7,196.7 L704.1,196.7 L704.4,196.7 L704.7,194.6 L705.0,195.8 L705.3,198.8 L705.6,198.2 L705.9,200.2 L706.2,198.9 L706.5,199.4 L706.8,199.6 L707.1,201.1 L707.4,201.6 L707.7,202.2 L708.0,202.6 L708.3,202.6 L708.6,203.3 L708.9,202.2 L709.2,200.9 L709.5,199.8 L709.8,200.9 L710.1,201.3 L710.4,203.1 L710.7,203.6 L711.0,205.6 L711.3,205.9 L711.6,205.4 L711.9,203.8 L712.2,204.4 L712.5,202.1 L712.8,202.6 L713.2,203.1 L713.5,203.2 L713.8,204.5 L714.1,202.6 L714.4,202.6 L714.8,201.6 L715.1,200.1 L715.4,198.8 L715.7,197.4 L716.0,196.3 L716.3,199.2 L716.7,198.2 L717.0,198.6 L717.3,196.7 L717.6,196.9 L717.9,198.8 L718.2,201.3 L718.5,200.3 L718.8,202.5 L719.1,201.2 L719.4,202.1 L719.7,202.6 L720.0,203.3 L720.3,203.6 L720.7,204.0 L721.0,204.6 L721.3,205.4 L721.6,202.6 L722.0,202.1 L722.3,203.6 L722.6,201.6 L723.0,202.4 L723.3,201.1 L723.6,200.0 L723.9,201.9 L724.2,201.1 L724.5,201.2 L724.8,201.3 L725.2,202.3 L725.5,201.7 L725.8,200.3 L726.1,200.7 L726.4,203.1 L726.7,203.3 L727.0,200.9 L727.3,200.2 L727.6,204.0 L728.0,202.3 L728.3,201.3 L728.6,200.5 L728.9,199.7 L729.2,199.2 L729.5,199.1 L729.8,199.4 L730.2,200.1 L730.5,201.4 L730.8,203.2 L731.1,202.2 L731.4,202.9 L731.7,203.4 L732.0,202.7 L732.3,201.1 L732.7,201.4 L733.0,203.1 L733.3,200.3 L733.6,200.2 L733.9,202.8 L734.2,203.6 L734.5,202.9 L734.8,203.1 L735.1,203.6 L735.5,203.1 L735.8,203.8 L736.1,202.7 L736.4,203.1 L736.7,203.3 L737.0,206.4 L737.3,208.5 L737.6,208.9 L738.0,209.9 L738.3,212.6 L738.6,213.1 L738.9,213.3 L739.2,212.7 L739.5,212.2 L739.8,212.7 L740.2,213.7 L740.5,213.1 L740.8,215.2 L741.1,214.7 L741.4,216.6 L741.7,216.2 L742.0,218.1 L742.4,218.5 L742.7,220.8 L743.0,221.5 L743.3,221.1 L743.6,222.1 L744.0,221.9 L744.3,219.5 L744.6,217.9 L744.9,218.5 L745.3,216.7 L745.6,215.6 L745.9,217.6 L746.2,217.5 L746.5,217.9 L746.8,217.2 L747.1,216.5 L747.4,218.3 L747.7,217.2 L748.0,218.0 L748.4,220.3 L748.7,218.4 L749.0,219.0 L749.3,218.3 L749.6,218.4 L749.9,221.1 L750.2,218.6 L750.5,220.3 L750.8,218.7 L751.1,218.9 L751.4,218.6 L751.7,218.2 L752.0,217.6 L752.4,218.6 L752.7,220.4 L753.0,222.0 L753.3,220.0 L753.6,221.4 L753.9,218.6 L754.2,220.0 L754.5,222.5 L754.8,219.4 L755.1,222.4 L755.4,222.7 L755.7,219.7 L756.0,220.3 L756.3,219.8 L756.6,221.3 L756.9,220.1 L757.2,219.3 L757.5,216.0 L757.8,216.7 L758.1,216.4 L758.4,216.5 L758.7,219.8 L759.1,218.2 L759.4,219.3 L759.7,220.0 L760.0,218.9 L760.3,219.9 L760.6,217.8 L760.9,218.7 L761.3,217.1 L761.6,216.0 L761.9,216.8 L762.2,215.6 L762.5,215.1 L762.8,213.1 L763.1,211.5 L763.5,211.9 L763.8,209.2 L764.1,209.6 L764.4,208.9 L764.7,210.8 L765.0,209.9 L765.3,210.1 L765.6,208.1 L765.9,210.4 L766.2,209.1 L766.5,209.1 L766.8,209.4 L767.1,208.5 L767.4,208.0 L767.7,208.8 L768.0,206.4 L768.3,206.6 L768.6,206.2 L768.9,206.7 L769.2,206.0 L769.5,202.8 L769.8,201.7 L770.2,199.7 L770.5,197.4 L770.8,196.9 L771.1,197.8 L771.4,198.3 L771.8,197.9 L772.1,197.1 L772.4,195.9 L772.7,195.2 L773.0,196.4 L773.4,195.1 L773.7,194.4 L774.0,197.5 L774.4,198.5 L774.7,198.3 L775.0,197.8 L775.3,195.5 L775.6,194.6 L775.9,191.7 L776.3,191.6 L776.6,191.5 L776.9,192.4 L777.2,192.2 L777.6,190.8 L777.9,190.7 L778.3,190.4 L778.6,186.7 L779.0,185.1 L779.3,187.5 L779.6,187.8 L779.9,185.6 L780.3,184.4 L780.6,184.4 L780.9,186.6 L781.2,187.8 L781.5,189.2 L781.8,189.6 L782.1,192.4 L782.5,192.8 L782.8,191.8 L783.1,191.6 L783.4,192.7 L783.7,190.1 L784.0,190.2 L784.3,191.0 L784.6,190.8 L784.9,190.4 L785.2,188.3 L785.5,186.2 L785.8,188.7 L786.1,187.8 L786.4,188.0 L786.7,191.6 L787.0,192.6 L787.3,191.2 L787.6,193.6 L787.9,192.8 L788.2,195.8 L788.5,194.2 L788.8,195.0 L789.1,194.6 L789.4,194.4 L789.7,193.8 L790.0,193.1 L790.3,192.2 L790.6,191.1 L790.9,190.8 L791.2,190.4 L791.5,191.3 L791.8,189.7 L792.1,190.4 L792.4,190.6 L792.8,191.5 L793.1,190.0 L793.4,188.1 L793.7,188.7 L794.0,189.6 L794.3,191.4 L794.6,191.1 L794.9,193.0 L795.2,191.1 L795.5,191.6 L795.8,194.1 L796.1,196.7 L796.4,197.8 L796.7,196.9 L797.0,197.1 L797.4,197.2 L797.7,196.9 L798.0,197.0 L798.3,196.5 L798.6,197.5 L799.0,198.3 L799.3,196.8 L799.6,196.8 L799.9,197.8 L800.2,197.0 L800.5,197.9 L800.8,196.1 L801.1,194.4 L801.4,195.5 L801.7,193.3 L802.0,195.6 L802.3,194.8 L802.6,194.0 L803.0,195.6 L803.3,194.7 L803.6,195.1 L803.9,194.4 L804.2,193.4 L804.5,194.0 L804.8,194.0 L805.1,194.3 L805.4,196.9 L805.7,195.1 L806.0,197.5 L806.3,198.5 L806.6,200.0 L806.9,200.9 L807.2,199.3 L807.5,198.7 L807.8,198.7 L808.1,200.8 L808.4,200.0 L808.7,198.0 L809.1,199.4 L809.4,199.3 L809.7,198.7 L810.0,200.0 L810.3,199.4 L810.6,201.6 L810.9,200.3 L811.3,199.2 L811.6,200.1 L811.9,200.3 L812.2,201.7 L812.6,201.8 L812.9,201.2 L813.2,201.0 L813.6,199.5 L813.9,198.9 L814.2,198.9 L814.5,197.2 L814.8,197.5 L815.1,196.2 L815.4,195.6 L815.7,195.7 L816.0,195.5 L816.3,195.9 L816.6,194.8 L816.9,195.2 L817.2,193.3 L817.5,192.3 L817.8,192.0 L818.1,188.5 L818.4,189.5 L818.7,189.7 L819.0,190.3 L819.4,189.3 L819.7,191.9 L820.0,193.9 L820.3,191.7 L820.6,189.0 L820.9,189.9 L821.2,191.1 L821.5,193.7 L821.8,195.1 L822.2,193.1 L822.5,194.3 L822.8,194.1 L823.1,194.1 L823.4,194.4 L823.7,192.4 L824.0,196.2 L824.4,194.8 L824.7,196.6 L825.0,194.4 L825.3,198.1 L825.6,201.0 L826.0,203.8 L826.3,206.9 L826.6,210.0 L826.9,209.1 L827.3,210.2 L827.6,205.2 L828.0,204.7 L828.3,203.3 L828.6,204.8 L828.9,202.9 L829.2,201.3 L829.5,203.4 L829.8,202.1 L830.1,200.5 L830.4,199.9 L830.7,198.8 L831.0,198.0 L831.3,199.0 L831.6,198.1 L831.9,200.5 L832.2,197.1 L832.5,198.2 L832.8,198.9 L833.1,197.7 L833.4,198.5 L833.7,194.2 L834.0,194.9 L834.3,197.5 L834.6,196.1 L834.9,194.5 L835.2,194.6 L835.5,192.6 L835.8,192.9 L836.1,193.3 L836.4,192.2 L836.8,193.2 L837.1,191.6 L837.4,191.0 L837.8,190.6 L838.1,190.8 L838.4,191.9 L838.7,191.7 L839.1,193.5 L839.4,192.2 L839.7,193.8 L840.0,194.6 L840.3,191.7 L840.6,192.6 L840.9,193.8 L841.2,195.4 L841.5,193.7 L841.8,195.7 L842.1,195.3 L842.4,192.3 L842.7,191.1 L843.0,190.5 L843.3,192.4 L843.6,192.3 L843.9,193.3 L844.2,194.3 L844.5,195.8 L844.8,195.1 L845.1,195.8 L845.4,193.3 L845.7,194.7 L846.0,194.2 L846.3,191.9 L846.6,192.3 L847.0,193.8 L847.3,193.5 L847.6,194.4 L847.9,194.0 L848.2,191.2 L848.5,192.4 L848.8,193.2 L849.1,193.2 L849.4,194.0 L849.7,193.0 L850.0,192.4 L850.4,193.6 L850.7,192.4 L851.0,192.2 L851.3,190.5 L851.7,190.1 L852.0,188.6 L852.3,187.8 L852.6,188.7 L852.9,187.7 L853.2,187.2 L853.6,188.6 L853.9,188.2 L854.2,186.8 L854.5,189.2 L854.8,188.3 L855.1,188.4 L855.5,187.2 L855.8,188.3 L856.1,187.3 L856.4,188.6 L856.7,189.7 L857.1,188.3 L857.4,189.8 L857.7,188.8 L858.0,190.6 L858.4,188.4 L858.7,189.3 L859.0,190.4 L859.3,189.8 L859.6,188.0 L859.9,187.6 L860.2,187.2 L860.5,188.7 L860.8,189.0 L861.1,188.4 L861.5,190.2 L861.8,189.3 L862.1,191.1 L862.4,188.4 L862.7,188.9 L863.0,190.1 L863.3,188.6 L863.6,188.6 L863.9,189.6 L864.2,187.7 L864.5,187.8 L864.8,186.6 L865.2,186.8 L865.5,187.0 L865.8,187.4 L866.1,189.0 L866.4,187.8 L866.7,187.4 L867.0,186.4 L867.4,187.7 L867.7,185.0 L868.0,183.4 L868.3,183.3 L868.6,183.8 L868.9,183.2 L869.2,181.5 L869.5,183.0 L869.8,179.9 L870.1,178.3 L870.4,179.7 L870.7,177.6 L871.0,177.2 L871.3,177.7 L871.6,176.3 L871.9,176.8 L872.2,176.2 L872.5,174.7 L872.8,175.6 L873.1,175.8 L873.4,175.5 L873.7,175.9 L874.0,175.0 L874.3,175.5 L874.6,174.9 L874.9,175.4 L875.2,176.2 L875.5,175.0 L875.8,175.4 L876.1,174.4 L876.4,172.2 L876.8,173.2 L877.1,173.6 L877.4,173.1 L877.8,171.3 L878.1,166.1 L878.4,166.2 L878.7,165.2 L879.1,165.2 L879.4,166.7 L879.7,165.3 L880.1,163.2 L880.4,161.0 L880.7,159.0 L881.0,157.2 L881.4,156.0 L881.7,155.6 L882.0,156.4 L882.3,157.2 L882.6,157.8 L883.0,158.5 L883.3,155.6 L883.6,159.6 L883.9,160.0 L884.2,158.2 L884.5,157.1 L884.8,157.6 L885.2,159.5 L885.5,158.6 L885.8,159.0 L886.1,157.8 L886.4,157.3 L886.8,153.5 L887.1,152.7 L887.5,154.3 L887.8,153.5 L888.1,150.0 L888.5,148.5 L888.8,148.9 L889.1,147.6 L889.4,148.2 L889.7,147.5 L890.0,149.9 L890.3,150.6 L890.6,151.1 L890.9,150.6 L891.3,151.1 L891.6,151.0 L891.9,148.2 L892.2,148.0 L892.6,147.3 L892.9,146.2 L893.2,146.0 L893.6,145.0 L893.9,145.1 L894.2,144.3 L894.5,143.7 L894.8,143.2 L895.2,144.1 L895.5,145.0 L895.8,146.3 L896.1,146.7 L896.4,147.2 L896.8,144.2 L897.1,144.9 L897.4,145.4 L897.8,144.1 L898.1,143.5 L898.4,142.7 L898.7,143.3 L899.1,144.8 L899.4,143.3 L899.7,142.5 L900.0,141.7 L900.3,141.3 L900.6,142.1 L900.9,140.8 L901.3,140.1 L901.6,142.2 L901.9,145.0 L902.2,146.2 L902.5,146.7 L902.8,147.8 L903.1,149.1 L903.4,148.9 L903.7,149.2 L904.0,149.9 L904.3,153.1 L904.6,154.6 L904.9,154.2 L905.2,154.2 L905.5,155.7 L905.8,156.4 L906.1,156.7 L906.4,157.9 L906.8,156.5 L907.1,155.5 L907.4,158.0 L907.8,156.5 L908.1,158.7 L908.4,157.0 L908.7,156.3 L909.1,156.2 L909.4,156.7 L909.7,157.4 L910.0,157.6 L910.3,158.6 L910.6,161.1 L910.9,159.8 L911.3,158.4 L911.6,159.4 L911.9,160.4 L912.2,161.3 L912.5,160.8 L912.8,160.0 L913.1,161.4 L913.4,162.3 L913.7,160.2 L914.0,163.0 L914.3,161.5 L914.6,159.5 L915.0,161.3 L915.3,161.0 L915.6,161.3 L915.9,161.7 L916.2,163.1 L916.5,162.3 L916.8,161.6 L917.1,162.3 L917.4,160.0 L917.8,159.3 L918.1,158.5 L918.4,156.1 L918.8,157.4 L919.1,154.3 L919.4,153.3 L919.7,155.0 L920.0,154.6 L920.3,156.4 L920.6,153.1 L920.9,154.1 L921.3,154.1 L921.6,153.2 L921.9,151.0 L922.2,153.6 L922.5,153.5 L922.8,150.0 L923.1,150.5 L923.4,149.4 L923.7,150.3 L924.0,149.4 L924.3,149.8 L924.6,149.6 L924.9,149.8 L925.2,149.4 L925.5,148.4 L925.8,146.6 L926.1,149.6 L926.4,150.2 L926.8,151.2 L927.1,152.4 L927.4,152.1 L927.7,152.7 L928.0,153.1 L928.4,152.7 L928.7,154.3 L929.0,153.3 L929.4,151.6 L929.7,153.3 L930.0,154.4 L930.3,151.5 L930.7,150.1 L931.0,149.9 L931.3,146.1 L931.6,146.7 L932.0,146.7 L932.3,145.5 L932.6,144.4 L933.0,143.9 L933.3,142.2 L933.6,143.8 L933.9,142.1 L934.2,142.0 L934.5,143.3 L934.8,141.3 L935.1,142.5 L935.4,144.3 L935.7,145.1 L936.0,143.3 L936.3,147.8 L936.6,145.8 L936.9,144.0 L937.2,145.1 L937.5,143.2 L937.8,141.6 L938.1,143.4 L938.4,144.1 L938.7,144.0 L939.0,141.5 L939.3,141.5 L939.6,144.4 L939.9,144.2 L940.2,145.4 L940.5,142.8 L940.8,143.4 L941.1,146.7 L941.4,145.8 L941.8,144.6 L942.1,146.9 L942.4,147.7 L942.8,147.0 L943.1,149.5 L943.4,150.5 L943.7,150.9 L944.1,149.7 L944.4,150.0 L944.7,150.9 L945.0,149.2 L945.3,148.7 L945.6,150.1 L945.9,148.4 L946.3,149.2 L946.6,150.6 L946.9,148.7 L947.2,148.5 L947.5,149.8 L947.8,151.1 L948.1,151.5 L948.4,151.8 L948.7,153.3 L949.0,153.5 L949.3,153.6 L949.6,155.5 L949.9,155.5 L950.2,157.1 L950.5,156.8 L950.8,158.8 L951.1,157.8 L951.4,156.1 L951.8,158.2 L952.1,156.9 L952.4,154.6 L952.8,155.3 L953.1,154.1 L953.4,153.5 L953.7,152.3 L954.1,151.6 L954.4,152.2 L954.7,151.7 L955.0,152.5 L955.3,152.1 L955.6,152.5 L955.9,150.3 L956.3,151.8 L956.6,155.3 L956.9,157.2 L957.2,154.9 L957.5,155.1 L957.8,155.6 L958.1,154.2 L958.4,153.5 L958.7,151.9 L959.0,154.5 L959.3,152.1 L959.6,154.1 L959.9,153.8 L960.2,153.3 L960.5,151.8 L960.9,153.4 L961.2,150.5 L961.5,151.5 L961.8,151.1 L962.1,150.5 L962.4,150.5 L962.7,151.1 L963.0,149.7 L963.3,150.4 L963.6,150.6 L963.9,151.6 L964.2,151.8 L964.5,150.3 L964.9,151.4 L965.2,150.9 L965.5,152.4 L965.8,154.2 L966.1,155.4 L966.4,153.2 L966.7,156.3 L967.0,156.3 L967.3,156.2 L967.7,154.3 L968.0,154.5 L968.3,156.0 L968.6,156.6 L968.9,155.6 L969.2,155.9 L969.5,156.7 L969.9,157.1 L970.2,158.0 L970.5,158.5 L970.8,160.0 L971.2,161.3 L971.5,162.6 L971.8,163.3 L972.1,161.4 L972.4,164.7 L972.8,162.5 L973.1,163.8 L973.4,162.3 L973.7,162.6 L974.0,161.9 L974.3,161.3 L974.6,161.9 L975.0,163.3 L975.3,162.1 L975.6,161.6 L975.9,162.8 L976.2,164.6 L976.5,166.8 L976.9,167.5 L977.2,172.7 L977.5,173.9 L977.8,174.4 L978.1,173.3 L978.4,173.6 L978.7,172.0 L979.1,172.1 L979.4,169.8 L979.7,172.2 L980.0,173.6 L980.3,176.1 L980.6,174.7 L980.9,174.3 L981.3,172.9 L981.6,172.1 L981.9,172.7 L982.2,171.1 L982.5,172.0 L982.8,171.9 L983.1,173.1 L983.4,171.0 L983.8,171.6 L984.1,169.4 L984.4,169.7 L984.7,170.5 L985.0,174.5 L985.3,171.7 L985.6,171.5 L985.9,171.5 L986.2,171.8 L986.6,171.3 L986.9,167.4 L987.2,168.9 L987.5,165.8 L987.8,168.2 L988.1,169.2 L988.4,167.9 L988.7,170.3 L989.0,170.6 L989.3,169.0 L989.6,171.4 L989.9,170.8 L990.2,170.9 L990.5,170.8 L990.8,172.4 L991.1,173.3 L991.4,176.0 L991.7,175.0 L992.0,178.7 L992.3,176.5 L992.7,174.5 L993.0,174.4 L993.3,173.0 L993.6,171.9 L993.9,171.7 L994.2,171.0 L994.5,171.6 L994.8,173.9 L995.1,173.6 L995.5,172.7 L995.8,170.4 L996.1,172.3 L996.4,172.6 L996.7,174.4 L997.0,172.5 L997.3,175.0 L997.6,173.4 L998.0,174.8 L998.3,175.1 L998.6,177.5 L998.9,175.5 L999.2,176.1 L999.5,173.7 L999.8,174.2 L1000.2,175.4 L1000.5,175.1 L1000.8,176.3 L1001.1,174.4 L1001.4,174.8 L1001.7,175.9 L1002.0,175.3 L1002.4,173.9 L1002.7,176.0 L1003.0,174.2 L1003.3,172.7 L1003.6,173.5 L1003.9,172.9 L1004.2,175.6 L1004.5,177.7 L1004.8,178.6 L1005.1,178.9 L1005.4,179.7 L1005.7,177.2 L1006.0,178.5 L1006.3,177.7 L1006.6,177.4 L1006.9,177.0 L1007.2,178.1 L1007.5,178.0 L1007.9,178.7 L1008.2,177.5 L1008.5,175.0 L1008.8,177.3 L1009.1,174.4 L1009.4,176.3 L1009.7,177.4 L1010.0,177.8 L1010.3,175.3 L1010.6,177.3 L1010.9,178.1 L1011.3,178.4 L1011.6,179.9 L1011.9,179.4 L1012.2,179.0 L1012.5,176.8 L1012.8,177.2 L1013.1,179.2 L1013.5,177.8 L1013.8,177.1 L1014.1,176.9 L1014.4,177.1 L1014.7,177.2 L1015.0,177.8 L1015.3,177.7 L1015.6,176.6 L1015.9,174.6 L1016.3,172.5 L1016.6,171.3 L1016.9,170.7 L1017.2,170.6 L1017.5,171.6 L1017.8,170.0 L1018.1,170.0 L1018.4,170.0 L1018.7,167.4 L1019.0,169.2 L1019.3,167.2 L1019.6,169.0 L1019.9,170.7 L1020.2,169.6 L1020.5,168.7 L1020.9,169.5 L1021.2,169.7 L1021.5,167.0 L1021.8,166.6 L1022.1,168.7 L1022.4,168.6 L1022.7,168.5 L1023.0,167.6 L1023.3,167.8 L1023.6,169.5 L1023.9,168.4 L1024.2,169.2 L1024.5,169.1 L1024.8,171.0 L1025.2,173.1 L1025.5,172.0 L1025.8,172.2 L1026.1,173.6 L1026.4,172.0 L1026.7,172.7 L1027.0,171.0 L1027.3,168.2 L1027.6,166.1 L1028.0,164.4 L1028.3,164.6 L1028.6,165.3 L1028.9,164.4 L1029.2,162.9 L1029.5,161.7 L1029.8,160.9 L1030.2,159.8 L1030.5,162.8 L1030.8,163.2 L1031.1,162.8 L1031.4,162.1 L1031.7,163.7 L1032.0,163.7 L1032.4,162.1 L1032.7,162.0 L1033.0,164.0 L1033.3,162.2 L1033.6,161.8 L1033.9,161.8 L1034.2,160.2 L1034.5,160.3 L1034.9,160.1 L1035.2,158.9 L1035.5,160.8 L1035.8,160.0 L1036.1,161.2 L1036.4,160.2 L1036.7,160.9 L1037.0,162.4 L1037.3,164.1 L1037.7,162.7 L1038.0,163.8 L1038.3,161.9 L1038.6,163.8 L1038.9,165.1 L1039.2,166.8 L1039.5,167.0 L1039.8,167.4 L1040.1,165.1 L1040.4,166.9 L1040.7,166.4 L1041.0,167.2 L1041.3,167.4 L1041.7,168.8 L1042.0,167.7 L1042.3,166.3 L1042.6,165.7 L1042.9,165.0 L1043.2,165.5 L1043.5,165.8 L1043.8,165.8 L1044.1,165.2 L1044.4,166.7 L1044.7,166.4 L1045.1,164.5 L1045.4,163.0 L1045.7,163.9 L1046.0,163.0 L1046.4,161.6 L1046.7,161.6 L1047.0,161.7 L1047.3,164.3 L1047.6,163.9 L1047.9,163.8 L1048.2,164.1 L1048.5,164.1 L1048.9,163.7 L1049.2,164.5 L1049.5,164.3 L1049.8,163.7 L1050.1,163.1 L1050.4,164.1 L1050.7,165.4 L1051.0,165.4 L1051.3,166.7 L1051.6,164.0 L1051.9,165.3 L1052.2,162.3 L1052.6,163.7 L1052.9,162.6 L1053.2,162.7 L1053.5,160.9 L1053.8,160.0 L1054.1,162.4 L1054.4,163.3 L1054.7,163.0 L1055.0,163.5 L1055.3,163.2 L1055.6,165.1 L1055.9,163.2 L1056.3,164.7 L1056.6,166.6 L1056.9,166.2 L1057.2,168.8 L1057.5,166.3 L1057.8,166.7 L1058.1,165.5 L1058.4,165.0 L1058.7,166.6 L1059.0,166.2 L1059.4,166.5 L1059.7,166.9 L1060.0,166.7 L1060.3,166.0 L1060.6,165.7 L1060.9,168.4 L1061.2,163.8 L1061.5,163.5 L1061.9,163.5 L1062.2,165.6 L1062.5,164.4 L1062.8,163.8 L1063.1,164.1 L1063.4,163.0 L1063.7,164.8 L1064.0,163.2 L1064.4,163.2 L1064.7,163.3 L1065.0,163.2 L1065.3,161.1 L1065.6,164.4 L1065.9,164.7 L1066.2,165.5 L1066.5,166.5 L1066.8,166.3 L1067.1,163.3 L1067.4,162.2 L1067.7,161.2 L1068.0,161.4 L1068.3,160.5 L1068.6,159.7 L1068.9,157.8 L1069.2,156.4 L1069.5,157.2 L1069.8,155.7 L1070.1,155.8 L1070.5,156.1 L1070.8,154.4 L1071.1,155.3 L1071.4,153.3 L1071.7,152.9 L1072.0,154.5 L1072.3,153.5 L1072.6,153.6 L1073.0,152.1 L1073.3,150.1 L1073.6,147.8 L1073.9,147.9 L1074.2,148.3 L1074.5,147.9 L1074.8,147.7 L1075.1,148.5 L1075.5,151.0 L1075.8,151.3 L1076.1,154.2 L1076.4,153.6 L1076.7,152.2 L1077.0,155.1 L1077.4,156.5 L1077.7,154.1 L1078.0,152.7 L1078.3,151.8 L1078.7,152.4 L1079.0,154.3 L1079.3,155.5 L1079.7,153.0 L1080.0,153.1 L1080.3,153.0 L1080.6,152.2 L1080.9,153.4 L1081.3,152.1 L1081.6,154.4 L1081.9,152.5 L1082.2,151.1 L1082.5,150.8 L1082.8,150.9 L1083.1,153.6 L1083.4,153.8 L1083.8,156.1 L1084.1,153.5 L1084.4,153.8 L1084.7,155.7 L1085.0,154.7 L1085.3,155.3 L1085.6,154.5 L1085.9,154.8 L1086.3,152.9 L1086.6,152.6 L1086.9,152.7 L1087.2,152.2 L1087.5,153.9 L1087.8,152.0 L1088.1,152.3 L1088.5,153.3 L1088.8,150.8 L1089.1,149.8 L1089.4,147.8 L1089.7,146.6 L1090.1,145.8 L1090.4,146.7 L1090.8,146.6 L1091.1,147.2 L1091.4,146.2 L1091.7,147.7 L1092.0,144.0 L1092.3,145.0 L1092.7,142.6 L1093.0,142.1 L1093.3,142.8 L1093.6,142.1 L1093.9,139.4 L1094.2,140.6 L1094.6,139.7 L1094.9,141.2 L1095.3,142.5 L1095.6,142.2 L1095.9,140.6 L1096.2,141.0 L1096.6,140.2 L1096.9,141.6 L1097.2,139.8 L1097.5,139.2 L1097.8,138.9 L1098.1,138.7 L1098.5,139.0 L1098.8,139.3 L1099.1,140.2 L1099.4,140.0 L1099.7,139.4 L1100.0,141.0 L1100.3,140.8 L1100.6,142.6 L1101.0,141.7 L1101.3,142.5 L1101.6,141.9 L1101.9,142.5 L1102.2,142.8 L1102.5,142.5 L1102.8,142.3 L1103.1,143.8 L1103.5,141.4 L1103.8,143.2 L1104.1,144.1 L1104.4,143.3 L1104.7,142.7 L1105.1,140.7 L1105.4,141.9 L1105.7,143.1 L1106.0,143.7 L1106.4,142.3 L1106.7,140.6 L1107.0,141.1 L1107.3,142.5 L1107.6,142.8 L1107.9,142.9 L1108.2,140.4 L1108.5,140.3 L1108.8,142.9 L1109.1,141.0 L1109.4,140.0 L1109.7,139.6 L1110.0,138.0 L1110.3,136.2 L1110.6,135.6 L1111.0,136.4 L1111.3,136.6 L1111.6,139.6 L1111.9,139.8 L1112.2,141.7 L1112.5,142.0 L1112.8,143.2 L1113.1,143.3 L1113.4,144.0 L1113.7,145.8 L1114.1,145.8 L1114.4,146.6 L1114.7,146.6 L1115.0,144.4 L1115.3,143.2 L1115.6,145.6 L1115.9,143.6 L1116.2,143.7 L1116.5,145.7 L1116.8,143.0 L1117.1,144.6 L1117.4,143.8 L1117.7,143.6 L1118.0,144.3 L1118.3,141.1 L1118.6,141.3 L1119.0,142.1 L1119.3,142.2 L1119.6,143.3 L1119.9,144.9 L1120.3,144.7 L1120.6,145.6 L1120.9,145.1 L1121.2,143.9 L1121.5,145.1 L1121.8,145.6 L1122.1,145.9 L1122.4,144.6 L1122.7,144.9 L1123.0,143.6 L1123.3,145.1 L1123.6,144.2 L1123.9,142.8 L1124.2,140.9 L1124.5,141.2 L1124.8,141.0 L1125.1,141.4 L1125.5,142.5 L1125.8,144.5 L1126.1,146.8 L1126.4,144.8 L1126.7,145.6 L1127.0,146.2 L1127.3,146.8 L1127.7,147.2 L1128.0,146.4 L1128.3,146.3 L1128.7,146.6 L1129.0,145.8 L1129.3,145.1 L1129.6,144.5 L1129.9,144.9 L1130.3,143.4 L1130.6,142.2 L1130.9,140.3 L1131.2,140.8 L1131.5,140.5 L1131.9,139.4 L1132.2,142.0 L1132.5,144.5 L1132.8,143.1 L1133.1,144.2 L1133.5,141.8 L1133.8,143.7 L1134.1,142.2 L1134.4,141.1 L1134.7,141.7 L1135.0,140.1 L1135.3,142.1 L1135.6,140.9 L1136.0,140.5 L1136.3,139.9 L1136.6,141.1 L1136.9,139.1 L1137.2,139.4 L1137.5,138.2 L1137.8,137.3 L1138.1,134.7 L1138.5,133.8 L1138.8,133.7 L1139.1,131.4 L1139.4,132.8 L1139.7,130.5 L1140.0,131.8 L1140.3,133.2 L1140.6,132.8 L1141.0,131.8 L1141.3,131.4 L1141.6,133.2 L1141.9,131.3 L1142.2,131.1 L1142.5,130.6 L1142.8,132.6 L1143.1,130.2 L1143.4,131.7 L1143.8,131.7 L1144.1,132.9 L1144.4,131.8 L1144.7,132.7 L1145.0,129.8 L1145.3,130.0 L1145.6,129.0 L1145.9,128.4 L1146.3,128.8 L1146.6,132.5 L1146.9,133.0 L1147.2,132.2 L1147.5,132.6 L1147.8,131.0 L1148.1,129.5 L1148.5,132.6 L1148.8,132.6 L1149.1,130.5 L1149.4,131.7 L1149.7,131.1 L1150.0,128.0 L1150.3,130.2 L1150.6,128.9 L1151.0,127.7 L1151.3,128.7 L1151.6,131.3 L1151.9,131.2 L1152.2,129.4 L1152.5,130.7 L1152.8,128.4 L1153.1,129.8 L1153.4,129.0 L1153.7,131.3 L1154.1,130.2 L1154.4,129.4 L1154.7,129.1 L1155.0,130.5 L1155.3,129.7 L1155.6,131.1 L1155.9,129.8 L1156.2,131.3 L1156.5,132.0 L1156.9,128.9 L1157.2,131.6 L1157.5,130.8 L1157.8,131.7 L1158.1,132.6 L1158.4,132.0 L1158.7,131.8 L1159.0,131.8 L1159.4,134.9 L1159.7,135.1 L1160.0,133.1 L1160.3,135.8 L1160.6,136.1 L1160.9,138.2 L1161.2,135.4 L1161.5,136.2 L1161.8,137.0 L1162.1,137.3 L1162.4,135.9 L1162.7,137.0 L1163.0,135.7 L1163.3,135.0 L1163.6,136.3 L1163.9,137.8 L1164.2,137.3 L1164.5,135.8 L1164.9,137.8 L1165.2,136.4 L1165.5,137.9 L1165.8,138.7 L1166.1,136.7 L1166.4,136.9 L1166.7,135.6 L1167.0,135.6 L1167.3,136.1 L1167.7,133.7 L1168.0,133.6 L1168.3,130.7 L1168.6,132.0 L1168.9,132.8 L1169.2,131.8 L1169.5,132.3 L1169.8,130.3 L1170.1,129.1 L1170.5,129.5 L1170.8,126.3 L1171.1,126.2 L1171.4,127.4 L1171.7,129.4 L1172.0,129.5 L1172.3,126.8 L1172.6,127.6 L1172.9,130.7 L1173.2,129.9 L1173.5,128.2 L1173.8,130.4 L1174.1,128.5 L1174.4,128.3 L1174.7,131.3 L1175.0,129.6 L1175.3,128.3 L1175.6,130.2 L1175.9,129.6 L1176.3,132.7 L1176.6,130.9 L1176.9,129.2 L1177.2,132.0 L1177.5,131.4 L1177.8,129.4 L1178.1,129.6 L1178.5,131.2 L1178.8,132.2 L1179.1,129.4 L1179.4,129.6 L1179.8,131.4 L1180.1,129.8 L1180.4,129.6 L1180.8,128.3 L1181.1,128.3 L1181.4,128.5 L1181.7,129.1 L1182.0,129.7 L1182.3,127.2 L1182.7,127.0 L1183.0,126.4 L1183.3,125.5 L1183.6,126.7 L1183.9,126.1 L1184.2,125.5 L1184.5,124.8 L1184.8,126.2 L1185.1,126.5 L1185.5,127.5 L1185.8,126.8 L1186.1,125.6 L1186.4,124.9 L1186.7,126.7 L1187.0,127.4 L1187.3,127.4 L1187.6,125.1 L1187.9,126.2 L1188.2,124.7 L1188.5,125.7 L1188.8,126.8 L1189.1,125.5 L1189.4,125.6 L1189.7,126.4 L1190.1,125.6 L1190.4,124.8 L1190.8,129.0 L1191.1,127.2" fill="none" stroke="#000" stroke-width="0.95" stroke-linejoin="round"/>
<path d="M77.00,655.5 L77.18,655.5 L77.36,655.5 L77.54,655.5 L77.72,655.5 L77.90,655.5 L78.08,655.5 L78.26,655.5 L78.44,655.5 L78.62,655.5 L78.80,655.5 L78.98,655.5 L79.16,655.5 L79.34,655.5 L79.52,655.5 L79.70,655.5 L79.88,655.5 L80.06,655.5 L80.24,655.5 L80.42,655.5 L80.60,655.5 L80.78,655.5 L80.96,655.5 L81.14,655.5 L81.32,655.5 L81.50,655.5 L81.68,655.5 L81.86,655.5 L82.04,655.5 L82.22,655.5 L82.40,655.5 L82.58,655.5 L82.76,655.5 L82.94,655.5 L83.12,655.5 L83.30,655.5 L83.48,655.5 L83.66,655.5 L83.84,655.5 L84.02,655.5 L84.20,655.5 L84.38,655.5 L84.56,655.5 L84.74,655.5 L84.92,655.5 L85.10,655.5 L85.28,655.5 L85.46,655.5 L85.64,655.5 L85.82,655.5 L86.00,655.5 L86.18,655.5 L86.36,655.5 L86.54,655.5 L86.72,655.5 L86.90,655.5 L87.08,655.5 L87.26,655.5 L87.44,655.5 L87.62,655.5 L87.80,655.5 L87.98,655.5 L88.16,655.5 L88.34,655.5 L88.52,655.5 L88.70,655.5 L88.88,655.5 L89.06,655.5 L89.24,655.5 L89.42,655.5 L89.60,655.5 L89.78,655.5 L89.96,655.5 L90.14,655.5 L90.32,655.5 L90.50,655.5 L90.68,655.5 L90.86,655.5 L91.04,655.5 L91.22,655.5 L91.40,655.5 L91.58,655.5 L91.76,655.5 L91.94,655.5 L92.12,655.5 L92.30,655.5 L92.48,655.5 L92.66,655.5 L92.84,655.5 L93.02,655.5 L93.20,655.5 L93.38,655.5 L93.56,655.5 L93.74,655.5 L93.92,655.5 L94.10,655.5 L94.28,655.5 L94.46,655.5 L94.64,655.5 L94.82,655.5 L95.00,655.5 L95.18,655.5 L95.36,655.5 L95.54,655.5 L95.72,655.5 L95.90,655.5 L96.08,655.5 L96.26,655.5 L96.44,655.5 L96.62,655.5 L96.80,655.5 L96.98,655.5 L97.16,655.5 L97.34,655.5 L97.52,655.5 L97.70,655.5 L97.88,655.5 L98.06,655.5 L98.24,655.5 L98.42,655.5 L98.60,655.5 L98.78,655.5 L98.96,655.5 L99.14,655.5 L99.32,655.5 L99.50,655.5 L99.68,655.5 L99.86,655.5 L100.04,655.5 L100.22,655.5 L100.40,655.5 L100.58,655.5 L100.76,655.5 L100.94,655.5 L101.12,655.5 L101.30,655.5 L101.48,655.5 L101.66,655.5 L101.84,655.5 L102.02,655.5 L102.20,655.5 L102.38,655.5 L102.56,655.5 L102.74,655.5 L102.92,655.5 L103.10,655.5 L103.28,655.5 L103.46,655.5 L103.64,655.5 L103.82,655.5 L104.00,655.5 L104.18,655.5 L104.36,655.5 L104.54,655.5 L104.72,655.5 L104.90,655.5 L105.08,655.5 L105.26,655.5 L105.44,655.5 L105.62,655.5 L105.80,655.5 L105.98,655.5 L106.16,655.5 L106.34,655.5 L106.52,655.5 L106.70,655.4 L106.88,655.5 L107.06,655.5 L107.24,655.5 L107.42,655.5 L107.60,655.5 L107.78,655.5 L107.96,655.5 L108.14,655.5 L108.32,655.5 L108.50,655.5 L108.68,655.5 L108.86,655.5 L109.04,655.5 L109.22,655.5 L109.40,655.5 L109.58,655.5 L109.76,655.5 L109.94,655.5 L110.12,655.5 L110.30,655.5 L110.48,655.5 L110.66,655.5 L110.84,655.5 L111.02,655.5 L111.20,655.5 L111.38,655.4 L111.56,655.5 L111.74,655.5 L111.92,655.4 L112.10,655.5 L112.28,655.5 L112.46,655.5 L112.64,655.5 L112.82,655.5 L113.00,655.5 L113.18,655.4 L113.36,655.5 L113.54,655.5 L113.72,655.5 L113.90,655.5 L114.08,655.5 L114.26,655.5 L114.44,655.4 L114.62,655.5 L114.80,655.5 L114.98,655.5 L115.16,655.5 L115.34,655.5 L115.52,655.5 L115.70,655.5 L115.88,655.4 L116.06,655.5 L116.24,655.5 L116.42,655.5 L116.60,655.5 L116.78,655.5 L116.96,655.5 L117.14,655.4 L117.32,655.5 L117.50,655.5 L117.68,655.5 L117.86,655.5 L118.04,655.5 L118.22,655.5 L118.40,655.5 L118.58,655.5 L118.76,655.5 L118.94,655.5 L119.12,655.5 L119.30,655.5 L119.48,655.5 L119.66,655.5 L119.84,655.5 L120.02,655.5 L120.20,655.5 L120.38,655.5 L120.56,655.5 L120.74,655.5 L120.92,655.4 L121.10,655.5 L121.28,655.5 L121.46,655.5 L121.64,655.5 L121.82,655.5 L122.00,655.4 L122.18,655.5 L122.36,655.5 L122.54,655.5 L122.72,655.5 L122.90,655.4 L123.08,655.5 L123.26,655.4 L123.44,655.5 L123.62,655.4 L123.80,655.4 L123.98,655.5 L124.16,655.4 L124.34,655.5 L124.52,655.4 L124.70,655.5 L124.88,655.5 L125.06,655.5 L125.24,655.5 L125.42,655.5 L125.60,655.5 L125.78,655.5 L125.96,655.5 L126.14,655.5 L126.32,655.4 L126.50,655.5 L126.68,655.5 L126.86,655.5 L127.04,655.4 L127.22,655.5 L127.40,655.5 L127.58,655.5 L127.76,655.4 L127.94,655.5 L128.12,655.4 L128.30,655.5 L128.48,655.5 L128.66,655.5 L128.84,655.5 L129.02,655.5 L129.20,655.5 L129.38,655.5 L129.56,655.4 L129.74,655.4 L129.92,655.4 L130.10,655.4 L130.28,655.4 L130.46,655.5 L130.64,655.5 L130.82,655.5 L131.00,655.5 L131.18,655.5 L131.36,655.4 L131.54,655.5 L131.72,655.5 L131.90,655.5 L132.08,655.5 L132.26,655.5 L132.44,655.5 L132.62,655.5 L132.80,655.4 L132.98,655.4 L133.16,655.4 L133.34,655.5 L133.52,655.5 L133.70,655.4 L133.88,655.5 L134.06,655.4 L134.24,655.4 L134.42,655.5 L134.60,655.5 L134.78,655.5 L134.96,655.5 L135.14,655.5 L135.32,655.4 L135.50,655.4 L135.68,655.4 L135.86,655.4 L136.04,655.5 L136.22,655.5 L136.40,655.4 L136.58,655.5 L136.76,655.5 L136.94,655.4 L137.12,655.5 L137.30,655.5 L137.48,655.5 L137.66,655.4 L137.84,655.5 L138.02,655.5 L138.20,655.5 L138.38,655.4 L138.56,655.4 L138.74,655.5 L138.92,655.4 L139.10,655.4 L139.28,655.5 L139.46,655.5 L139.64,655.5 L139.82,655.5 L140.00,655.4 L140.18,655.4 L140.36,655.5 L140.54,655.5 L140.72,655.4 L140.90,655.4 L141.08,655.4 L141.26,655.5 L141.44,655.4 L141.62,655.4 L141.80,655.5 L141.98,655.4 L142.16,655.4 L142.34,655.4 L142.52,655.4 L142.70,655.4 L142.88,655.4 L143.06,655.5 L143.24,655.5 L143.42,655.4 L143.60,655.4 L143.78,655.4 L143.96,655.5 L144.14,655.5 L144.32,655.4 L144.50,655.5 L144.68,655.5 L144.86,655.5 L145.04,655.5 L145.22,655.5 L145.40,655.5 L145.58,655.4 L145.76,655.5 L145.94,655.4 L146.12,655.4 L146.30,655.5 L146.48,655.4 L146.66,655.5 L146.84,655.4 L147.02,655.4 L147.20,655.4 L147.38,655.4 L147.56,655.5 L147.74,655.5 L147.92,655.4 L148.10,655.5 L148.28,655.5 L148.46,655.4 L148.64,655.4 L148.82,655.4 L149.00,655.5 L149.18,655.4 L149.36,655.5 L149.54,655.4 L149.72,655.4 L149.90,655.4 L150.08,655.4 L150.26,655.4 L150.44,655.4 L150.62,655.5 L150.80,655.5 L150.98,655.4 L151.16,655.5 L151.34,655.5 L151.52,655.4 L151.70,655.5 L151.88,655.4 L152.06,655.5 L152.24,655.4 L152.42,655.5 L152.60,655.4 L152.78,655.5 L152.96,655.4 L153.14,655.4 L153.32,655.5 L153.50,655.4 L153.68,655.5 L153.86,655.4 L154.04,655.5 L154.22,655.5 L154.40,655.4 L154.58,655.4 L154.76,655.5 L154.94,655.4 L155.12,655.5 L155.30,655.4 L155.48,655.5 L155.66,655.4 L155.84,655.4 L156.02,655.4 L156.20,655.5 L156.38,655.4 L156.56,655.4 L156.74,655.5 L156.92,655.4 L157.10,655.5 L157.28,655.4 L157.46,655.4 L157.64,655.4 L157.82,655.5 L158.00,655.4 L158.18,655.4 L158.36,655.4 L158.54,655.4 L158.72,655.5 L158.90,655.4 L159.08,655.5 L159.26,655.4 L159.44,655.4 L159.62,655.4 L159.80,655.4 L159.98,655.5 L160.16,655.5 L160.34,655.5 L160.52,655.4 L160.70,655.4 L160.88,655.4 L161.06,655.5 L161.24,655.4 L161.42,655.4 L161.60,655.4 L161.78,655.4 L161.96,655.5 L162.14,655.4 L162.32,655.4 L162.50,655.5 L162.68,655.4 L162.86,655.4 L163.04,655.5 L163.22,655.4 L163.40,655.5 L163.58,655.5 L163.45,653.0 L164.05,653.0 L163.76,655.4 L163.94,655.4 L164.12,655.5 L164.30,655.4 L164.48,655.4 L164.66,655.4 L164.84,655.5 L165.02,655.3 L165.20,655.4 L165.38,655.4 L165.56,655.4 L165.74,655.4 L165.92,655.4 L166.10,655.5 L166.28,655.4 L166.46,655.4 L166.64,655.5 L166.82,655.4 L167.00,655.4 L167.18,655.4 L167.36,655.4 L167.54,655.5 L167.72,655.4 L167.90,655.4 L168.08,655.5 L168.26,655.4 L168.44,655.5 L168.62,655.4 L168.80,655.5 L168.98,655.4 L169.16,655.5 L169.34,655.4 L169.52,655.5 L169.70,655.4 L169.88,655.5 L170.06,655.4 L170.24,655.4 L170.42,655.4 L170.60,655.4 L170.78,655.4 L170.96,655.4 L171.14,655.3 L171.32,655.5 L171.50,655.5 L171.68,655.5 L171.86,655.4 L172.04,655.4 L172.22,655.5 L172.40,655.4 L172.58,655.5 L172.76,655.4 L172.94,655.5 L173.12,655.4 L173.30,655.5 L173.48,655.4 L173.66,655.5 L173.84,655.4 L174.02,655.5 L174.20,655.5 L174.38,655.4 L174.56,655.4 L174.74,655.4 L174.92,655.4 L175.10,655.4 L175.28,655.5 L175.46,655.5 L175.64,655.5 L175.82,655.4 L176.00,655.4 L176.18,655.5 L176.36,655.4 L176.54,655.4 L176.72,655.5 L176.90,655.5 L177.08,655.4 L177.26,655.4 L177.44,655.4 L177.62,655.4 L177.80,655.5 L177.98,655.5 L178.16,655.4 L178.34,655.5 L178.52,655.4 L178.70,655.5 L178.88,655.3 L179.06,655.5 L179.24,655.5 L179.42,655.4 L179.20,651.8 L179.80,651.8 L179.60,655.4 L179.78,655.4 L179.96,655.4 L180.14,655.4 L180.32,655.4 L180.50,655.4 L180.68,655.4 L180.86,655.4 L181.04,655.5 L181.22,655.5 L181.40,655.4 L181.58,655.4 L181.76,655.4 L181.94,655.4 L182.12,655.4 L182.30,655.4 L182.48,655.4 L182.66,655.3 L182.84,655.5 L183.02,655.5 L183.20,655.4 L183.38,655.4 L183.56,655.4 L183.74,655.5 L183.92,655.3 L184.10,655.5 L184.28,655.4 L184.46,655.4 L184.64,655.5 L184.82,655.5 L185.00,655.4 L185.18,655.4 L185.36,655.4 L185.54,655.4 L185.72,655.4 L185.90,655.5 L186.08,655.4 L186.26,655.5 L186.44,655.4 L186.62,655.5 L186.80,655.4 L186.98,655.4 L187.16,655.5 L187.34,655.3 L187.52,655.5 L187.70,655.5 L187.88,655.4 L188.06,655.4 L188.24,655.5 L188.42,655.4 L188.60,655.4 L188.78,655.5 L188.96,655.5 L189.14,655.4 L189.32,655.4 L189.50,655.5 L189.68,655.4 L189.86,655.5 L190.04,655.4 L190.22,655.4 L190.40,655.3 L190.58,655.5 L190.76,655.5 L190.94,655.5 L191.12,655.4 L191.30,655.4 L191.48,655.5 L191.66,655.4 L191.84,655.3 L192.02,655.3 L192.20,655.3 L192.38,655.5 L192.56,655.4 L192.74,655.5 L192.92,655.4 L193.10,655.5 L193.28,655.4 L193.46,655.5 L193.64,655.3 L193.82,655.3 L194.00,655.3 L194.18,655.3 L194.36,655.4 L194.54,655.5 L194.72,655.4 L194.90,655.3 L195.08,655.4 L195.26,655.3 L195.44,655.5 L195.62,655.4 L195.80,655.4 L195.98,655.5 L196.16,655.5 L196.34,655.4 L196.52,655.3 L196.70,655.5 L196.88,655.4 L197.06,655.3 L197.24,655.5 L197.42,655.5 L197.60,655.4 L197.78,655.5 L197.96,655.3 L198.14,655.5 L198.32,655.5 L198.50,655.3 L198.68,655.4 L198.86,655.3 L199.04,655.4 L199.22,655.5 L199.40,655.4 L199.58,655.3 L199.76,655.4 L199.94,655.4 L200.12,655.4 L200.30,655.4 L200.48,655.4 L200.66,655.4 L200.84,655.4 L201.02,655.4 L201.20,655.4 L201.38,655.5 L201.56,655.4 L201.74,655.4 L201.92,655.4 L202.10,655.5 L202.28,655.4 L202.46,655.4 L202.20,649.5 L202.80,649.5 L202.64,655.4 L202.82,655.4 L203.00,655.3 L203.18,655.5 L203.36,655.5 L203.20,650.0 L203.80,650.0 L203.54,655.4 L203.72,655.4 L203.90,655.5 L204.08,655.4 L204.26,655.4 L204.44,655.5 L204.62,655.5 L204.80,655.4 L204.98,655.4 L205.16,655.4 L205.34,655.4 L205.52,655.3 L205.70,655.5 L205.88,655.5 L206.06,655.4 L206.24,655.3 L206.42,655.5 L206.60,655.3 L206.78,655.4 L206.96,655.5 L207.14,655.3 L207.32,655.5 L207.50,655.5 L207.68,655.5 L207.86,655.3 L208.04,655.4 L208.22,655.5 L208.40,655.3 L208.58,655.5 L208.76,655.4 L208.94,655.3 L209.12,655.3 L209.30,655.3 L209.48,655.5 L209.66,655.4 L209.84,655.5 L210.02,655.3 L210.20,655.3 L210.38,655.5 L210.56,655.4 L210.74,655.4 L210.92,655.3 L211.10,655.3 L211.28,655.3 L211.46,655.4 L211.64,655.4 L211.82,655.4 L212.00,655.4 L212.18,655.5 L212.36,655.4 L212.54,655.3 L212.72,655.4 L212.90,655.4 L213.08,655.3 L213.26,655.3 L213.44,655.3 L213.62,655.4 L213.80,655.4 L213.98,655.4 L214.16,655.5 L214.34,655.3 L214.52,655.2 L214.70,655.3 L214.88,655.5 L215.06,655.5 L215.24,654.8 L215.42,655.3 L215.60,655.2 L215.78,654.8 L215.96,654.6 L216.14,654.5 L216.32,654.6 L216.50,655.2 L216.68,655.0 L216.86,654.1 L217.04,654.9 L217.22,654.4 L217.40,654.3 L217.58,654.8 L217.76,655.1 L217.94,654.6 L218.12,654.3 L218.30,654.3 L218.48,654.8 L218.66,655.5 L218.84,654.2 L219.02,654.5 L219.20,655.0 L219.38,655.3 L219.56,654.4 L219.74,653.9 L219.92,654.9 L220.10,654.6 L220.28,654.3 L220.46,654.9 L220.64,654.0 L220.82,654.6 L221.00,654.3 L221.18,654.9 L221.36,654.2 L221.54,654.5 L221.72,654.1 L221.90,655.1 L222.08,654.2 L222.26,654.3 L222.44,654.4 L222.62,654.3 L222.80,654.5 L222.98,655.0 L223.16,654.8 L223.34,654.3 L223.52,654.1 L223.70,654.2 L223.88,655.1 L224.06,654.8 L224.24,654.2 L224.42,654.5 L224.60,654.6 L224.78,654.8 L224.96,654.6 L225.14,655.3 L225.32,654.2 L225.50,655.1 L225.68,655.0 L225.86,655.1 L226.04,654.9 L226.22,654.6 L226.40,654.6 L226.58,654.6 L226.76,654.8 L226.94,654.9 L227.12,655.1 L227.30,654.2 L227.48,653.8 L227.66,654.0 L227.84,654.6 L228.02,654.4 L228.20,654.3 L228.38,654.2 L228.56,654.5 L228.74,654.2 L228.92,654.5 L229.10,654.0 L229.28,655.2 L229.46,654.2 L229.64,654.0 L229.82,654.7 L230.00,654.8 L230.18,654.3 L230.36,654.0 L230.54,654.4 L230.72,654.0 L230.90,654.7 L231.08,653.6 L231.26,653.9 L231.44,653.2 L231.62,654.2 L231.80,654.0 L231.98,654.3 L232.16,654.5 L232.34,653.2 L232.52,653.3 L232.70,653.3 L232.88,653.2 L233.06,653.1 L233.24,653.5 L233.42,653.7 L233.60,654.4 L233.78,654.1 L233.96,653.4 L234.14,653.8 L234.32,653.8 L234.50,653.8 L234.68,653.2 L234.86,654.0 L235.04,653.2 L235.22,653.7 L235.40,653.5 L235.58,653.6 L235.76,653.9 L235.94,651.9 L236.12,653.6 L236.30,651.9 L236.48,652.6 L236.66,652.5 L236.84,651.0 L237.02,652.6 L237.20,652.8 L237.38,651.3 L237.56,651.7 L237.74,652.4 L237.92,650.3 L238.10,652.6 L238.28,650.7 L238.46,652.3 L238.64,650.1 L238.82,651.0 L239.00,649.3 L239.18,650.0 L239.36,649.1 L239.54,651.1 L239.72,651.3 L239.90,650.9 L240.08,650.9 L240.26,649.7 L240.44,648.8 L240.62,649.3 L240.80,648.9 L240.98,649.2 L241.16,650.4 L241.34,648.9 L241.52,650.2 L241.70,649.5 L241.88,649.3 L242.06,650.2 L242.24,649.7 L242.42,649.3 L242.60,649.5 L242.78,650.8 L242.96,650.8 L243.14,650.6 L243.32,650.8 L243.50,650.3 L243.68,650.1 L243.86,650.2 L244.04,650.3 L244.22,650.0 L244.40,650.9 L244.58,649.9 L244.76,650.5 L244.94,649.8 L245.12,649.8 L245.30,650.8 L245.48,649.9 L245.66,649.9 L245.84,650.7 L246.02,650.1 L246.20,650.7 L246.38,650.6 L246.56,650.9 L246.74,650.2 L246.92,650.3 L247.10,651.2 L247.28,650.9 L247.46,649.9 L247.64,651.2 L247.82,651.1 L248.00,650.6 L248.18,650.0 L248.36,651.1 L248.54,650.1 L248.72,651.1 L248.90,651.3 L249.08,650.5 L249.26,649.9 L249.44,650.4 L249.62,650.2 L249.80,651.3 L249.98,650.5 L250.16,651.5 L250.34,651.2 L250.52,650.3 L250.70,650.5 L250.88,651.2 L251.06,651.1 L251.24,650.9 L251.42,651.4 L251.60,651.5 L251.78,650.4 L251.96,651.2 L252.14,651.7 L252.32,651.5 L252.50,650.1 L252.68,651.7 L252.86,650.5 L253.04,651.7 L253.22,651.3 L253.40,651.1 L253.58,650.6 L253.76,650.5 L253.94,651.1 L254.12,651.7 L254.30,651.6 L254.48,651.1 L254.66,650.8 L254.84,650.8 L255.02,650.2 L255.20,651.1 L255.38,651.0 L255.56,651.0 L255.74,651.9 L255.92,651.0 L256.10,650.5 L256.28,651.1 L256.46,651.4 L256.64,651.0 L256.82,650.6 L257.00,651.3 L257.18,651.9 L257.36,650.9 L257.54,650.9 L257.72,651.9 L257.90,652.3 L258.08,651.4 L258.26,652.4 L258.44,651.3 L258.62,651.0 L258.80,652.3 L258.98,651.0 L259.16,651.3 L259.34,651.1 L259.52,650.6 L259.70,651.2 L259.88,651.7 L260.06,651.2 L260.24,651.0 L260.42,651.3 L260.60,651.9 L260.78,651.7 L260.96,652.1 L261.14,651.2 L261.32,651.4 L261.50,651.6 L261.68,652.5 L261.86,651.0 L262.04,651.8 L262.22,651.1 L262.40,652.5 L262.58,651.3 L262.76,652.2 L262.94,652.0 L263.12,651.1 L263.30,651.5 L263.48,653.0 L263.66,652.4 L263.84,652.2 L264.02,651.5 L264.20,651.5 L264.38,651.8 L264.56,650.7 L264.74,651.7 L264.92,652.1 L265.10,652.8 L265.28,651.7 L265.46,652.9 L265.64,652.6 L265.82,651.0 L266.00,652.5 L266.18,652.6 L266.36,652.2 L266.54,651.1 L266.72,652.1 L266.90,652.3 L267.08,652.2 L267.26,652.2 L267.44,651.3 L267.62,652.4 L267.80,651.6 L267.98,651.4 L268.16,652.7 L268.34,651.5 L268.52,652.6 L268.70,652.3 L268.88,652.1 L269.06,651.9 L269.24,651.3 L269.42,652.3 L269.60,652.6 L269.78,651.3 L269.96,652.9 L270.14,651.4 L270.32,651.2 L270.50,652.7 L270.68,652.0 L270.86,651.3 L271.04,651.7 L271.22,653.1 L271.40,652.7 L271.58,653.2 L271.76,651.4 L271.94,651.0 L272.12,651.8 L272.30,651.6 L272.48,651.5 L272.66,652.5 L272.84,651.7 L273.02,651.5 L273.20,652.7 L273.38,651.8 L273.56,652.1 L273.74,651.5 L273.92,651.8 L274.10,652.8 L274.28,651.7 L274.46,652.0 L274.64,651.7 L274.82,652.5 L275.00,652.6 L275.18,651.3 L275.36,651.8 L275.54,652.1 L275.72,652.0 L275.90,652.1 L276.08,651.5 L276.26,651.6 L276.44,652.7 L276.62,652.4 L276.80,652.1 L276.98,651.3 L277.16,652.3 L277.34,651.4 L277.52,652.8 L277.70,652.2 L277.88,651.6 L278.06,652.6 L278.24,652.2 L278.42,652.1 L278.60,651.4 L278.78,651.6 L278.96,652.2 L279.14,651.4 L279.32,652.5 L279.50,652.5 L279.68,652.1 L279.86,651.7 L280.04,652.7 L280.22,651.6 L280.40,652.3 L280.58,651.6 L280.76,652.4 L280.94,651.8 L281.12,651.2 L281.30,651.2 L281.48,652.7 L281.66,650.8 L281.84,651.4 L282.02,652.4 L282.20,652.6 L282.38,652.5 L282.56,652.4 L282.74,651.4 L282.92,651.1 L283.10,652.9 L283.28,651.4 L283.46,650.8 L283.64,651.4 L283.82,652.5 L284.00,650.8 L284.18,651.4 L284.36,652.1 L284.54,651.2 L284.72,652.3 L284.90,652.5 L285.08,652.1 L285.26,651.4 L285.44,652.2 L285.62,650.8 L285.80,652.5 L285.98,651.1 L286.16,651.7 L286.34,651.1 L286.52,651.7 L286.70,651.7 L286.88,650.9 L287.06,651.9 L287.24,652.1 L287.42,651.3 L287.60,651.7 L287.78,652.2 L287.96,651.3 L288.14,651.8 L288.32,652.1 L288.50,651.4 L288.68,652.2 L288.86,651.7 L289.04,651.4 L289.22,651.5 L289.40,652.1 L289.58,651.5 L289.76,652.0 L289.94,650.7 L290.12,651.3 L290.30,651.6 L290.48,651.3 L290.66,652.1 L290.84,652.2 L291.02,651.5 L291.20,650.8 L291.38,651.0 L291.56,650.7 L291.74,652.1 L291.92,650.8 L292.10,651.9 L292.28,652.4 L292.46,651.2 L292.64,651.4 L292.82,651.6 L293.00,652.2 L293.18,652.1 L293.36,652.0 L293.54,652.3 L293.72,651.4 L293.90,650.9 L294.08,651.5 L294.26,650.6 L294.44,650.7 L294.62,650.8 L294.80,650.6 L294.98,651.0 L295.16,652.1 L295.34,650.7 L295.52,651.2 L295.70,651.4 L295.88,651.5 L296.06,651.9 L296.24,650.6 L296.42,651.3 L296.60,650.9 L296.78,651.5 L296.96,651.7 L297.14,652.0 L297.32,651.7 L297.50,650.9 L297.68,650.3 L297.86,650.2 L298.04,651.0 L298.22,650.3 L298.40,650.1 L298.58,649.3 L298.76,649.8 L298.94,651.9 L299.12,649.7 L299.30,650.7 L299.48,648.2 L299.66,648.4 L299.84,648.6 L300.02,649.2 L300.20,650.1 L300.38,646.8 L300.56,646.7 L300.74,646.5 L300.92,646.1 L301.10,646.3 L301.28,648.5 L301.46,647.7 L301.64,649.3 L301.82,646.8 L302.00,644.7 L302.18,640.1 L302.36,639.7 L302.54,643.4 L302.72,646.6 L302.90,642.9 L303.08,637.1 L303.26,639.3 L303.44,646.5 L303.62,647.2 L303.80,634.9 L303.98,645.9 L304.16,646.7 L304.34,644.3 L304.52,638.7 L304.70,646.7 L304.88,639.1 L305.06,641.0 L305.24,633.6 L305.42,641.8 L305.60,641.5 L305.78,635.1 L305.96,639.2 L306.14,634.3 L306.32,647.2 L306.50,631.5 L306.68,632.3 L306.86,639.4 L307.04,643.2 L307.22,637.5 L307.40,642.5 L307.58,632.1 L307.76,630.7 L307.50,620.3 L308.10,620.3 L307.94,645.4 L308.12,639.2 L308.30,643.4 L308.48,639.8 L308.66,642.5 L308.84,632.8 L309.02,634.0 L309.20,631.5 L309.38,642.5 L309.56,635.4 L309.74,642.5 L309.92,643.3 L310.10,635.6 L310.28,633.5 L310.46,641.9 L310.64,642.2 L310.82,638.0 L311.00,636.3 L311.18,641.1 L311.36,634.9 L311.54,634.3 L311.72,643.7 L311.90,636.5 L312.08,635.2 L312.26,638.5 L312.44,636.4 L312.62,642.9 L312.80,643.2 L312.98,634.7 L313.16,634.4 L313.34,636.2 L313.52,641.1 L313.70,632.2 L313.88,641.7 L314.06,640.2 L314.24,634.2 L314.42,635.3 L314.60,638.1 L314.78,638.0 L314.96,634.5 L315.14,639.0 L315.32,639.7 L315.50,630.8 L315.68,638.3 L315.86,634.3 L316.04,633.8 L316.22,639.7 L316.40,636.7 L316.58,637.1 L316.76,635.5 L316.94,639.9 L317.12,633.3 L317.30,636.3 L317.48,639.9 L317.66,642.2 L317.84,634.6 L318.02,634.4 L318.20,631.2 L318.38,630.6 L318.56,628.3 L318.74,633.7 L318.92,632.5 L319.10,632.0 L319.28,637.5 L319.46,635.3 L319.64,630.4 L319.40,625.3 L320.00,625.3 L319.82,630.9 L320.00,633.3 L320.18,638.1 L320.36,633.3 L320.54,635.6 L320.72,632.0 L320.90,632.7 L321.08,635.9 L321.26,634.9 L321.44,637.2 L321.62,636.1 L321.80,638.6 L321.98,635.4 L322.16,636.5 L322.34,631.3 L322.52,639.8 L322.70,635.3 L322.88,640.7 L323.06,638.0 L323.24,639.6 L323.42,638.9 L323.60,635.3 L323.78,634.9 L323.96,641.1 L324.14,637.6 L324.32,633.8 L324.50,634.6 L324.68,636.4 L324.86,631.6 L325.04,638.2 L325.22,639.1 L325.40,636.0 L325.58,642.2 L325.76,633.6 L325.94,640.0 L326.12,639.2 L326.30,633.0 L326.48,644.8 L326.66,638.6 L326.84,636.1 L327.02,642.7 L327.20,634.0 L327.38,642.1 L327.56,639.6 L327.74,632.8 L327.92,639.0 L328.10,642.4 L328.28,633.7 L328.46,642.5 L328.64,642.6 L328.82,635.0 L329.00,631.1 L329.18,630.4 L329.36,640.5 L329.54,630.3 L329.72,636.8 L329.90,640.6 L330.08,632.2 L330.26,642.1 L330.44,639.4 L330.62,641.0 L330.80,631.9 L330.98,633.6 L331.16,639.6 L331.34,631.9 L331.52,635.6 L331.70,632.6 L331.88,638.1 L332.06,645.8 L332.24,640.7 L332.42,627.9 L332.60,632.4 L332.78,631.9 L332.96,636.1 L333.14,638.6 L333.32,629.4 L333.50,638.7 L333.68,634.4 L333.86,638.6 L334.04,635.3 L334.22,640.3 L334.40,639.7 L334.58,639.6 L334.76,633.1 L334.94,639.4 L335.12,638.8 L335.30,643.1 L335.48,633.4 L335.66,630.7 L335.84,632.9 L336.02,635.7 L336.20,638.6 L336.38,641.5 L336.56,635.7 L336.74,637.8 L336.92,639.0 L337.10,638.0 L337.28,636.3 L337.46,633.6 L337.64,634.7 L337.82,636.2 L338.00,634.7 L338.18,635.1 L338.36,634.0 L338.54,635.1 L338.72,638.5 L338.90,629.4 L339.08,634.7 L339.26,632.1 L339.44,631.0 L339.62,633.4 L339.80,637.0 L339.98,636.8 L340.16,636.2 L340.34,639.8 L340.52,632.0 L340.70,633.4 L340.88,632.0 L341.06,635.9 L341.24,637.6 L341.42,630.5 L341.60,634.8 L341.78,637.6 L341.96,628.7 L342.14,637.4 L342.32,635.7 L342.50,630.8 L342.68,630.7 L342.86,634.8 L343.04,625.2 L343.22,632.1 L343.40,632.3 L343.58,638.4 L343.76,631.2 L343.94,627.7 L344.12,631.1 L344.30,625.3 L344.48,631.1 L344.66,636.0 L344.84,633.7 L345.02,636.7 L345.20,638.4 L345.38,626.1 L345.56,633.3 L345.74,629.2 L345.92,628.7 L346.10,638.6 L346.28,627.8 L346.46,638.2 L346.64,634.8 L346.82,627.7 L347.00,635.9 L347.18,625.5 L347.36,625.2 L347.54,626.4 L347.72,628.1 L347.90,627.1 L348.08,629.8 L348.26,630.6 L348.44,626.4 L348.62,629.8 L348.80,629.0 L348.98,629.4 L349.16,631.0 L349.34,629.8 L349.52,624.5 L349.70,632.9 L349.88,625.5 L350.06,629.8 L350.24,628.8 L350.42,622.4 L350.60,623.3 L350.78,626.7 L350.96,626.5 L351.14,630.4 L351.32,629.3 L351.50,628.1 L351.68,631.0 L351.86,625.6 L352.04,623.1 L352.22,628.6 L352.40,624.4 L352.58,616.3 L352.76,625.6 L352.94,631.1 L353.12,621.7 L353.30,635.2 L353.48,625.7 L353.66,626.5 L353.84,619.7 L354.02,624.6 L354.20,625.8 L354.38,621.8 L354.56,628.9 L354.74,624.2 L354.92,632.8 L355.10,625.7 L355.28,631.2 L355.46,620.6 L355.64,622.5 L355.82,632.5 L356.00,630.6 L356.18,629.6 L356.36,617.4 L356.54,623.6 L356.72,625.0 L356.90,613.7 L357.08,632.2 L357.26,616.6 L357.44,630.6 L357.62,630.5 L357.80,616.9 L357.98,632.0 L358.16,631.6 L358.34,619.2 L358.52,616.8 L358.70,631.5 L358.88,616.8 L359.06,624.8 L359.24,617.7 L359.42,627.7 L359.60,616.9 L359.78,629.1 L359.96,625.8 L360.14,620.4 L360.32,629.4 L360.50,626.5 L360.68,624.4 L360.86,626.6 L361.04,613.1 L361.22,613.9 L361.40,626.1 L361.58,624.0 L361.76,622.2 L361.94,617.3 L362.12,620.4 L362.30,620.9 L362.48,615.3 L362.66,626.4 L362.84,618.6 L363.02,627.2 L363.20,623.6 L363.38,620.0 L363.56,626.1 L363.74,621.3 L363.92,618.0 L364.10,628.0 L364.28,620.2 L364.46,618.8 L364.64,620.9 L364.82,626.9 L365.00,620.3 L365.18,617.5 L365.36,624.7 L365.54,625.1 L365.72,622.2 L365.90,624.8 L366.08,619.2 L366.26,616.2 L366.44,618.8 L366.62,628.3 L366.80,620.0 L366.98,628.6 L367.16,623.6 L367.34,617.2 L367.52,622.8 L367.70,614.9 L367.88,620.4 L368.06,611.6 L368.24,616.4 L368.42,626.4 L368.60,619.0 L368.78,627.3 L368.96,619.5 L369.14,617.6 L369.32,617.5 L369.50,619.8 L369.68,615.9 L369.86,625.1 L370.04,631.2 L370.22,631.3 L370.40,615.2 L370.58,618.2 L370.76,630.8 L370.94,628.7 L371.12,624.3 L371.30,629.3 L371.48,621.2 L371.66,628.9 L371.84,621.3 L372.02,619.9 L372.20,627.3 L372.38,622.5 L372.56,627.5 L372.74,627.8 L372.92,623.6 L373.10,624.9 L373.28,630.0 L373.46,623.5 L373.64,625.9 L373.82,625.2 L374.00,628.4 L374.18,625.6 L374.36,633.1 L374.54,634.0 L374.72,622.8 L374.90,629.6 L375.08,633.9 L375.26,631.7 L375.44,627.9 L375.62,633.9 L375.80,627.0 L375.98,632.6 L376.16,626.6 L376.34,625.7 L376.52,631.4 L376.70,635.8 L376.88,633.8 L377.06,630.2 L377.24,635.8 L377.42,630.7 L377.60,630.4 L377.78,635.4 L377.96,630.2 L378.14,629.5 L378.32,629.1 L378.50,628.6 L378.68,630.2 L378.86,633.2 L379.04,629.5 L379.22,628.2 L379.40,631.8 L379.58,638.8 L379.76,636.3 L379.94,630.1 L380.12,627.9 L380.30,628.9 L380.48,625.6 L380.66,626.1 L380.84,634.2 L381.02,631.3 L381.20,625.5 L381.38,624.2 L381.56,630.4 L381.74,625.9 L381.92,630.8 L382.10,624.4 L382.28,619.9 L382.46,626.9 L382.64,629.2 L382.82,624.9 L383.00,624.7 L383.18,632.2 L383.36,617.8 L383.54,622.6 L383.72,629.9 L383.90,619.7 L384.08,631.7 L384.26,619.9 L384.44,622.1 L384.62,626.5 L384.80,622.2 L384.98,626.7 L385.16,628.1 L385.34,620.8 L385.52,630.2 L385.70,622.8 L385.88,625.1 L386.06,625.2 L386.24,617.7 L386.42,612.7 L386.60,614.6 L386.78,623.7 L386.96,616.6 L387.14,628.6 L387.32,616.8 L387.50,618.7 L387.68,624.8 L387.86,621.4 L388.04,627.0 L388.22,619.7 L388.40,622.8 L388.58,627.7 L388.76,624.7 L388.94,625.1 L389.12,625.5 L389.30,619.7 L389.48,623.6 L389.66,614.1 L389.84,619.8 L390.02,623.3 L390.20,617.5 L390.38,623.1 L390.56,618.9 L390.74,616.9 L390.92,616.9 L391.10,627.9 L391.28,626.8 L391.46,625.4 L391.64,623.2 L391.82,626.5 L392.00,621.4 L392.18,614.8 L392.36,629.9 L392.54,624.3 L392.72,618.7 L392.90,628.1 L393.08,625.4 L393.26,623.6 L393.44,620.2 L393.62,627.8 L393.80,619.9 L393.98,624.6 L394.16,628.6 L394.34,621.6 L394.52,630.1 L394.70,626.5 L394.88,625.7 L395.06,625.3 L395.24,619.2 L395.42,618.3 L395.60,624.7 L395.78,620.0 L395.96,622.3 L396.14,624.1 L396.32,619.6 L396.50,619.1 L396.68,626.9 L396.86,619.5 L397.04,620.9 L397.22,623.7 L397.40,630.5 L397.58,623.5 L397.76,622.0 L397.94,628.0 L398.12,622.0 L398.30,621.1 L398.48,627.5 L398.66,620.3 L398.84,627.0 L399.02,632.7 L399.20,621.6 L399.38,626.9 L399.56,633.5 L399.74,630.3 L399.92,628.9 L400.10,620.9 L400.28,632.7 L400.46,616.7 L400.64,628.0 L400.82,621.6 L401.00,616.1 L401.18,619.3 L401.36,624.5 L401.54,622.8 L401.72,617.1 L401.90,617.1 L402.08,632.4 L402.26,629.5 L402.44,625.2 L402.62,616.7 L402.80,627.6 L402.98,615.0 L403.16,617.9 L403.34,614.2 L403.52,620.3 L403.70,617.9 L403.88,614.5 L404.06,614.2 L404.24,608.9 L404.42,620.1 L404.60,611.9 L404.78,616.1 L404.96,604.9 L405.14,619.0 L405.00,598.8 L405.60,598.8 L405.32,609.1 L405.50,616.8 L405.68,607.6 L405.86,610.0 L406.04,610.6 L406.22,615.1 L406.40,615.0 L406.58,611.3 L406.76,620.4 L406.94,609.2 L407.12,626.5 L407.30,620.1 L407.48,621.1 L407.66,612.6 L407.84,623.1 L408.02,607.5 L408.20,606.8 L408.38,610.3 L408.56,615.5 L408.74,618.5 L408.92,626.9 L409.10,616.4 L409.28,619.5 L409.46,612.8 L409.64,626.4 L409.82,616.4 L410.00,613.1 L410.18,626.9 L410.36,621.8 L410.54,617.6 L410.72,615.2 L410.90,625.9 L411.08,626.9 L411.26,626.6 L411.44,624.1 L411.62,619.6 L411.80,618.7 L411.98,634.2 L412.16,621.1 L412.34,618.0 L412.52,621.6 L412.70,625.1 L412.88,617.2 L413.06,626.0 L413.24,622.8 L413.42,621.2 L413.60,630.5 L413.78,618.7 L413.96,623.5 L414.14,625.3 L414.32,615.9 L414.50,621.7 L414.68,624.3 L414.86,622.9 L415.04,621.0 L415.22,620.6 L415.40,622.9 L415.58,629.2 L415.76,627.6 L415.94,620.6 L416.12,618.0 L416.30,615.5 L416.48,626.7 L416.66,620.2 L416.84,615.2 L417.02,622.1 L417.20,616.1 L417.38,616.6 L417.56,616.1 L417.74,616.0 L417.92,618.0 L418.10,613.0 L418.28,617.9 L418.46,624.1 L418.64,612.6 L418.82,614.6 L419.00,615.2 L419.18,616.7 L419.36,624.3 L419.54,617.4 L419.72,620.2 L419.90,614.0 L420.08,623.1 L420.26,615.2 L420.44,613.2 L420.62,618.5 L420.80,621.5 L420.98,614.3 L421.16,613.9 L421.34,620.7 L421.52,610.0 L421.70,619.7 L421.88,614.0 L422.06,612.7 L422.24,612.7 L422.42,608.6 L422.60,615.9 L422.78,607.9 L422.96,619.2 L423.14,615.1 L423.32,624.2 L423.50,622.0 L423.68,616.6 L423.86,618.9 L424.04,619.7 L424.22,605.8 L424.40,618.7 L424.58,617.8 L424.76,621.3 L424.94,610.7 L425.12,611.6 L425.30,620.3 L425.48,611.0 L425.66,615.9 L425.84,613.6 L426.02,615.2 L426.20,622.3 L426.38,621.8 L426.56,613.3 L426.74,618.0 L426.92,622.9 L427.10,619.5 L427.28,619.7 L427.46,622.9 L427.64,618.9 L427.82,623.7 L428.00,628.1 L428.18,626.1 L428.36,625.6 L428.54,615.3 L428.72,619.8 L428.90,625.1 L429.08,613.0 L429.26,612.6 L429.44,612.4 L429.62,628.1 L429.80,622.3 L429.98,627.1 L430.16,618.7 L430.34,623.5 L430.52,625.0 L430.70,613.9 L430.88,625.8 L431.06,623.2 L431.24,626.9 L431.42,623.6 L431.60,616.5 L431.78,622.3 L431.96,624.4 L432.14,618.9 L432.32,618.5 L432.50,627.1 L432.68,628.8 L432.86,627.9 L433.04,618.4 L433.22,618.7 L433.40,626.0 L433.58,614.0 L433.76,615.6 L433.94,621.4 L434.12,628.3 L434.30,616.2 L434.48,620.2 L434.66,622.3 L434.84,613.5 L435.02,616.8 L435.20,627.3 L435.38,624.9 L435.56,619.8 L435.74,627.9 L435.92,624.5 L436.10,626.8 L436.28,627.4 L436.46,619.5 L436.64,624.8 L436.82,613.7 L437.00,622.3 L437.18,616.0 L437.36,618.5 L437.54,623.8 L437.72,624.2 L437.90,625.0 L438.08,618.7 L438.26,626.0 L438.44,623.2 L438.62,619.3 L438.80,617.1 L438.98,616.8 L439.16,616.3 L439.34,617.3 L439.52,615.9 L439.70,613.0 L439.88,614.6 L440.06,618.8 L440.24,623.2 L440.42,616.7 L440.60,618.3 L440.78,624.8 L440.96,618.3 L441.14,616.7 L441.32,622.0 L441.50,628.6 L441.68,624.2 L441.86,618.0 L442.04,623.7 L442.22,617.3 L442.40,616.3 L442.58,623.9 L442.76,622.1 L442.94,616.9 L443.12,619.5 L443.30,625.8 L443.48,624.0 L443.66,620.7 L443.84,624.5 L444.02,622.9 L444.20,618.0 L444.38,626.5 L444.56,626.5 L444.74,620.2 L444.92,624.4 L445.10,616.5 L445.28,616.9 L445.46,622.8 L445.64,622.3 L445.82,624.9 L446.00,622.0 L446.18,616.4 L446.36,626.4 L446.54,617.3 L446.72,615.4 L446.90,617.3 L447.08,619.5 L447.26,615.5 L447.44,622.1 L447.62,617.7 L447.80,618.1 L447.98,617.5 L448.16,622.6 L448.34,613.4 L448.52,621.7 L448.70,620.6 L448.88,613.7 L449.06,618.3 L449.24,618.1 L449.42,618.2 L449.60,620.0 L449.78,621.4 L449.96,612.9 L450.14,612.1 L450.32,622.1 L450.50,618.0 L450.68,618.1 L450.86,615.0 L451.04,623.1 L451.22,613.8 L451.40,619.9 L451.58,607.5 L451.76,624.0 L451.94,621.6 L452.12,616.8 L452.30,612.3 L452.48,617.9 L452.66,610.4 L452.84,610.0 L453.02,610.5 L453.20,609.9 L453.38,614.1 L453.56,620.5 L453.74,609.9 L453.92,620.5 L454.10,610.9 L454.28,609.2 L454.46,613.3 L454.64,612.4 L454.82,616.6 L455.00,615.0 L455.18,614.0 L455.36,612.2 L455.54,614.3 L455.72,612.9 L455.90,616.6 L456.08,607.9 L456.26,613.2 L456.44,618.0 L456.62,614.7 L456.80,616.8 L456.98,612.6 L457.16,619.5 L457.34,617.4 L457.52,619.4 L457.70,611.0 L457.88,612.0 L458.06,619.1 L458.24,606.0 L458.42,610.2 L458.60,616.0 L458.78,619.0 L458.96,614.1 L459.14,606.8 L459.32,608.9 L459.50,607.3 L459.68,618.6 L459.86,607.0 L460.04,617.6 L460.22,613.4 L460.40,618.2 L460.58,611.4 L460.76,618.0 L460.94,605.8 L461.12,606.7 L461.30,609.2 L461.48,605.2 L461.66,612.3 L461.84,616.9 L462.02,608.8 L462.20,611.3 L462.38,615.6 L462.56,614.3 L462.74,606.5 L462.92,612.1 L463.10,612.8 L463.28,604.2 L463.46,603.5 L463.64,610.3 L463.82,604.5 L464.00,604.2 L464.18,612.8 L464.36,607.1 L464.54,618.3 L464.72,614.9 L464.90,602.6 L465.08,609.3 L465.26,606.7 L465.44,608.9 L465.62,617.9 L465.80,610.9 L465.98,612.4 L466.16,603.5 L466.34,602.6 L466.52,612.8 L466.70,603.8 L466.88,612.1 L467.06,607.1 L467.24,602.4 L467.42,605.9 L467.60,607.1 L467.78,610.1 L467.96,599.3 L468.14,608.7 L468.32,603.3 L468.50,603.5 L468.68,613.7 L468.86,608.1 L469.04,604.3 L469.22,599.8 L469.40,599.0 L469.58,608.8 L469.76,603.0 L469.94,609.6 L470.12,611.0 L470.30,605.5 L470.48,605.3 L470.66,604.2 L470.84,605.4 L471.02,609.2 L471.20,602.7 L471.38,600.5 L471.56,606.2 L471.74,603.6 L471.92,600.6 L472.10,607.5 L472.28,611.6 L472.46,606.8 L472.64,611.3 L472.82,600.9 L473.00,602.7 L473.18,603.6 L473.36,608.5 L473.54,604.4 L473.72,605.1 L473.90,600.4 L474.08,607.0 L474.26,609.2 L474.44,600.5 L474.62,601.3 L474.80,605.1 L474.98,601.0 L475.16,605.8 L475.34,607.9 L475.52,601.9 L475.70,609.0 L475.88,604.5 L476.06,605.3 L476.24,597.7 L476.42,604.1 L476.60,607.0 L476.78,610.3 L476.96,608.3 L477.14,607.3 L477.32,605.0 L477.50,599.1 L477.68,604.2 L477.86,597.1 L478.00,622.0 L478.04,598.3 L478.22,606.8 L478.40,604.0 L478.58,599.7 L478.76,603.8 L478.94,602.0 L479.12,600.8 L479.30,609.2 L479.48,606.1 L479.66,598.4 L479.84,601.2 L480.02,602.2 L480.20,605.1 L480.38,592.6 L480.56,602.4 L480.74,602.8 L480.92,596.0 L481.10,603.6 L481.28,600.7 L481.10,586.2 L481.70,586.2 L481.46,606.6 L481.64,592.6 L481.82,593.9 L482.00,606.1 L482.18,606.2 L482.36,605.2 L482.54,607.1 L482.72,589.3 L482.90,600.9 L483.08,595.6 L483.26,596.9 L483.44,600.7 L483.62,604.6 L483.80,603.9 L483.98,594.1 L484.16,599.2 L484.34,597.3 L484.52,605.8 L484.70,594.6 L484.88,594.7 L485.06,608.1 L485.24,596.9 L485.42,592.7 L485.60,594.6 L485.78,603.0 L485.96,608.8 L486.14,607.4 L486.32,601.3 L486.50,590.1 L486.68,605.2 L486.86,595.6 L487.04,608.7 L487.22,592.4 L487.40,603.8 L487.58,593.2 L487.76,601.9 L487.94,608.1 L488.12,591.4 L488.30,605.9 L488.48,587.7 L488.66,607.2 L488.84,593.3 L489.02,597.9 L489.20,602.9 L489.38,602.0 L489.56,605.7 L489.74,607.5 L489.92,603.8 L490.10,604.1 L490.28,602.7 L490.46,593.8 L490.64,590.4 L490.82,597.5 L491.00,601.9 L491.18,590.1 L491.36,587.3 L491.54,596.3 L491.72,594.2 L491.90,601.0 L492.08,606.1 L492.26,585.8 L492.44,589.3 L492.62,605.2 L492.80,602.3 L492.98,598.4 L493.16,595.4 L493.34,588.2 L493.52,592.2 L493.70,593.9 L493.88,606.3 L494.06,604.3 L494.24,603.2 L494.42,600.4 L494.60,602.1 L494.78,592.5 L494.96,595.2 L495.14,603.4 L495.32,600.9 L495.50,597.9 L495.68,600.6 L495.86,589.0 L496.04,597.3 L496.22,591.9 L496.40,603.6 L496.58,590.5 L496.76,583.4 L496.94,604.3 L497.12,602.2 L497.30,599.5 L497.48,594.3 L497.66,592.3 L497.84,602.3 L498.02,591.6 L498.20,597.0 L498.38,598.0 L498.56,595.0 L498.74,603.2 L498.92,595.8 L499.10,585.9 L499.28,583.8 L499.46,608.2 L499.64,605.8 L499.82,586.0 L500.00,587.3 L500.18,603.7 L500.36,599.7 L500.54,602.6 L500.72,594.8 L500.90,601.6 L501.08,589.6 L501.26,584.9 L501.44,586.4 L501.62,604.0 L501.80,586.7 L501.98,595.6 L502.16,600.0 L502.34,587.3 L502.52,594.9 L502.70,580.6 L502.88,600.4 L503.06,602.6 L503.24,587.9 L503.42,590.6 L503.60,607.2 L503.78,605.7 L503.96,602.4 L504.14,599.5 L504.32,604.3 L504.50,595.9 L504.68,603.5 L504.86,597.8 L505.04,603.4 L505.22,593.9 L505.40,581.5 L505.58,591.6 L505.76,604.4 L505.94,584.7 L506.12,580.8 L506.30,598.0 L506.48,601.0 L506.66,602.8 L506.84,593.6 L507.02,596.0 L507.20,588.1 L507.38,578.6 L507.56,603.4 L507.74,592.0 L507.92,586.6 L508.10,600.7 L508.28,582.5 L508.46,588.5 L508.64,588.0 L508.82,581.4 L509.00,584.3 L509.18,603.1 L509.36,588.6 L509.54,584.6 L509.72,596.4 L509.90,597.3 L510.08,593.6 L510.26,585.0 L510.44,584.7 L510.62,571.0 L510.80,576.1 L510.98,580.7 L511.16,577.3 L511.34,593.0 L511.52,565.8 L511.70,582.8 L511.88,581.1 L512.06,572.6 L512.24,595.7 L512.42,571.9 L512.60,567.6 L512.78,585.6 L512.96,586.7 L513.14,589.5 L513.32,579.5 L513.50,564.2 L513.68,565.2 L513.50,535.8 L514.10,535.8 L513.86,564.7 L514.04,565.7 L514.22,574.6 L514.40,570.9 L514.58,564.2 L514.76,566.9 L514.94,580.7 L515.12,585.8 L515.30,578.0 L515.48,588.4 L515.66,576.9 L515.84,588.0 L516.02,571.3 L516.20,577.5 L516.38,580.0 L516.56,593.9 L516.74,571.0 L516.92,599.7 L517.10,594.4 L517.28,596.9 L517.46,597.1 L517.64,574.2 L517.82,603.2 L518.00,582.1 L518.18,573.3 L518.36,578.2 L518.54,586.4 L518.72,573.6 L518.90,581.9 L519.08,602.1 L519.26,595.2 L519.44,585.0 L519.62,596.6 L519.80,582.7 L519.98,586.9 L520.16,587.0 L520.34,598.2 L520.52,597.7 L520.70,588.3 L520.88,590.5 L521.06,600.3 L521.24,591.1 L521.42,600.2 L521.60,580.6 L521.78,595.4 L521.96,600.7 L522.14,583.2 L522.32,600.4 L522.50,581.4 L522.68,595.6 L522.86,584.5 L523.04,568.9 L523.22,595.4 L523.40,584.3 L523.58,599.0 L523.76,578.1 L523.94,574.5 L524.12,569.3 L524.30,596.1 L524.48,576.2 L524.66,570.5 L524.84,586.2 L525.02,586.3 L525.20,585.5 L525.38,586.8 L525.56,585.3 L525.74,573.7 L525.92,587.2 L526.10,584.7 L525.90,506.7 L526.50,506.7 L526.28,573.6 L526.46,570.8 L526.64,578.4 L526.82,567.8 L527.00,584.5 L527.18,585.9 L527.36,575.5 L527.54,576.3 L527.72,590.5 L527.90,591.1 L528.08,577.0 L528.26,577.6 L528.44,574.2 L528.62,581.3 L528.80,596.4 L528.98,574.7 L529.16,587.5 L529.34,576.2 L529.52,575.2 L529.70,590.6 L529.88,590.7 L530.06,575.6 L530.24,594.2 L530.42,569.0 L530.60,574.7 L530.78,574.8 L530.96,584.0 L531.14,576.3 L531.32,583.8 L531.50,594.6 L531.68,569.9 L531.86,569.1 L532.04,582.8 L532.22,576.9 L532.40,584.9 L532.58,568.8 L532.76,586.7 L532.94,572.9 L533.12,564.2 L533.30,562.0 L533.48,573.1 L533.66,564.3 L533.84,570.3 L534.02,561.8 L534.20,578.8 L534.38,575.6 L534.56,551.9 L534.74,561.4 L534.92,567.3 L534.70,538.3 L535.30,538.3 L535.10,558.5 L535.28,570.0 L535.46,559.7 L535.64,568.7 L535.82,561.3 L536.00,575.3 L536.18,573.2 L536.36,563.4 L536.54,566.8 L536.72,577.8 L536.90,564.2 L537.08,567.9 L537.26,570.3 L537.44,564.9 L537.62,568.2 L537.80,579.7 L537.98,580.6 L538.16,573.4 L538.34,567.7 L538.52,562.0 L538.70,573.6 L538.88,579.2 L539.06,572.8 L539.24,565.1 L539.42,549.8 L539.60,557.1 L539.78,565.7 L539.96,570.2 L540.14,557.1 L540.32,562.8 L540.50,566.7 L540.68,555.8 L540.86,560.3 L541.04,561.2 L541.22,546.9 L541.40,549.2 L541.58,539.4 L541.76,547.8 L541.94,548.3 L542.12,546.4 L542.30,551.3 L542.48,546.8 L542.66,546.8 L542.84,540.2 L543.02,536.4 L543.20,553.5 L543.38,539.7 L543.56,552.3 L543.74,544.9 L543.92,548.3 L544.10,539.7 L544.28,540.4 L544.46,556.0 L544.64,545.2 L544.82,554.8 L545.00,544.5 L545.18,562.5 L545.36,560.4 L545.54,559.6 L545.72,568.1 L545.80,585.0 L545.90,557.7 L546.08,545.4 L546.26,552.7 L546.44,547.2 L546.62,564.9 L546.80,540.8 L546.98,556.3 L547.16,561.1 L547.34,551.4 L547.52,561.3 L547.70,544.2 L547.88,557.7 L548.06,551.2 L548.24,549.8 L548.42,546.7 L548.60,532.5 L548.78,560.6 L548.96,531.5 L549.14,553.3 L549.32,549.3 L549.50,528.8 L549.68,528.5 L549.86,540.8 L550.04,528.4 L550.22,533.1 L550.40,544.2 L550.58,525.9 L550.76,523.9 L550.94,541.6 L551.12,529.5 L551.30,540.7 L551.48,541.5 L551.66,539.1 L551.84,538.3 L552.02,537.8 L552.20,533.2 L552.38,547.1 L552.56,523.3 L552.74,539.9 L552.92,520.8 L553.10,533.2 L553.28,530.0 L553.46,538.6 L553.64,544.4 L553.82,533.2 L554.00,540.9 L554.18,529.8 L554.36,530.5 L554.54,524.0 L554.72,538.2 L554.90,516.2 L555.08,537.1 L555.26,522.1 L555.44,533.3 L555.62,523.9 L555.80,540.5 L555.98,540.7 L556.16,522.1 L556.34,536.4 L556.52,524.5 L556.40,500.0 L557.00,500.0 L556.70,529.2 L556.88,548.4 L557.06,519.1 L557.24,529.3 L557.42,546.0 L557.60,546.1 L557.78,547.1 L557.96,535.0 L558.14,545.1 L558.30,570.0 L558.32,540.6 L558.50,548.0 L558.68,545.0 L558.86,542.8 L559.04,550.4 L559.22,536.2 L559.40,538.2 L559.58,544.9 L559.76,539.4 L559.94,542.7 L560.12,534.5 L560.30,545.5 L560.48,541.1 L560.66,547.9 L560.84,547.4 L561.02,536.3 L561.20,532.1 L561.38,553.0 L561.56,544.4 L561.74,525.4 L561.92,541.6 L562.10,543.6 L562.28,530.7 L562.46,533.0 L562.64,546.2 L562.82,533.4 L563.00,525.9 L563.18,556.4 L563.36,525.4 L563.54,530.3 L563.72,533.7 L563.90,555.0 L564.08,556.4 L564.26,535.3 L564.44,542.7 L564.62,530.0 L564.80,540.6 L564.98,524.2 L565.16,511.0 L565.34,527.8 L565.52,519.6 L565.70,544.7 L565.88,525.7 L566.06,540.1 L566.24,513.7 L566.42,535.0 L566.60,514.0 L566.78,511.3 L566.96,509.9 L566.70,505.0 L567.30,505.0 L567.14,522.3 L567.32,546.6 L567.50,510.2 L567.68,538.0 L567.86,508.5 L568.04,536.0 L568.22,548.5 L568.40,514.3 L568.58,540.7 L568.76,531.6 L568.94,529.8 L569.12,536.2 L569.30,506.7 L569.48,508.4 L569.66,546.6 L569.84,514.3 L570.02,560.3 L570.20,547.1 L570.38,519.4 L570.56,548.4 L570.74,515.8 L570.92,547.0 L571.10,515.8 L571.28,511.0 L571.46,542.8 L571.64,543.7 L571.82,505.3 L572.00,513.0 L572.18,507.5 L572.36,503.8 L572.54,554.5 L572.72,521.4 L572.90,523.3 L573.08,519.8 L573.26,545.8 L573.44,534.6 L573.62,520.9 L573.80,542.2 L573.98,527.5 L574.16,527.2 L574.34,548.3 L574.52,540.5 L574.70,549.0 L574.88,528.6 L575.06,518.5 L575.24,506.7 L575.42,541.2 L575.60,522.4 L575.78,542.5 L575.50,501.7 L576.10,501.7 L575.96,543.7 L576.14,557.3 L576.32,530.5 L576.50,507.5 L576.68,523.2 L576.86,532.2 L577.04,549.1 L577.22,518.4 L577.40,520.5 L577.58,532.8 L577.76,540.4 L577.94,526.3 L578.12,529.0 L578.30,539.6 L578.48,534.3 L578.66,515.7 L578.84,534.2 L579.02,514.3 L579.20,555.3 L579.38,512.9 L579.56,553.9 L579.74,556.1 L579.92,543.1 L580.00,561.7 L580.10,517.6 L580.28,551.8 L580.46,547.7 L580.64,529.0 L580.82,517.1 L581.00,523.0 L581.18,525.7 L581.36,549.6 L581.54,529.9 L581.72,524.0 L581.90,513.2 L582.08,538.0 L582.26,552.0 L582.44,557.6 L582.62,511.5 L582.80,541.7 L582.98,552.0 L583.16,525.0 L583.34,539.8 L583.52,534.7 L583.70,535.2 L583.88,545.1 L584.06,556.1 L584.24,555.2 L584.42,523.8 L584.60,519.9 L584.78,534.1 L584.96,532.2 L585.14,521.0 L585.32,521.1 L585.50,529.0 L585.68,554.5 L585.86,516.5 L586.04,540.1 L586.22,550.6 L586.40,529.4 L586.58,514.8 L586.76,547.5 L586.94,511.4 L587.12,549.4 L587.30,531.4 L587.48,543.6 L587.66,558.1 L587.84,517.7 L588.02,538.0 L588.20,547.8 L588.38,532.4 L588.56,540.6 L588.74,548.0 L588.92,537.6 L589.10,543.0 L589.28,522.5 L589.46,550.9 L589.64,515.2 L589.82,540.6 L590.00,543.4 L590.18,515.3 L590.36,534.7 L590.54,511.7 L590.72,522.3 L590.90,508.1 L591.08,532.1 L591.26,536.7 L591.44,503.5 L591.62,503.8 L591.80,522.5 L591.98,538.4 L592.16,524.4 L592.34,539.3 L592.52,526.1 L592.70,537.7 L592.88,520.5 L593.06,530.5 L593.24,500.4 L593.42,528.2 L593.60,494.0 L593.78,538.5 L593.96,513.4 L594.14,506.8 L594.32,539.9 L594.50,490.0 L594.68,513.9 L594.86,524.3 L595.04,521.0 L595.22,529.3 L595.40,515.6 L595.58,480.1 L595.76,487.5 L595.94,502.0 L596.12,525.0 L596.30,516.1 L596.48,532.2 L596.66,498.9 L596.84,529.3 L597.02,501.7 L597.20,529.6 L597.38,500.8 L597.56,504.2 L597.74,516.1 L597.92,500.7 L598.10,489.9 L598.28,502.8 L598.46,498.8 L598.64,515.6 L598.82,534.2 L599.00,474.8 L599.18,478.5 L599.36,520.9 L599.54,512.4 L599.72,493.6 L599.90,538.5 L600.08,533.4 L600.26,511.3 L600.44,503.1 L600.62,488.5 L600.80,479.1 L600.98,473.6 L601.16,455.0 L601.34,478.3 L601.52,523.6 L601.70,527.6 L601.88,481.0 L602.06,475.2 L602.24,498.5 L602.42,518.4 L602.60,465.7 L602.78,516.3 L602.96,522.4 L603.14,487.8 L603.32,527.8 L603.50,518.7 L603.68,472.5 L603.86,470.5 L604.04,486.6 L604.22,455.3 L604.40,522.8 L604.58,535.9 L604.76,472.0 L604.94,506.0 L605.12,523.3 L605.30,502.2 L605.48,456.9 L605.66,468.7 L605.84,489.1 L606.02,524.9 L606.20,492.2 L606.38,497.4 L606.56,521.2 L606.74,511.7 L606.92,476.6 L607.10,468.1 L607.28,476.8 L607.46,475.6 L607.64,475.1 L607.82,506.0 L608.00,510.2 L608.18,481.8 L608.36,467.0 L608.54,503.1 L608.72,489.5 L608.90,470.1 L609.08,467.2 L609.26,497.5 L609.44,467.0 L609.62,523.6 L609.80,517.5 L609.98,470.8 L610.16,517.8 L610.34,494.9 L610.52,466.3 L610.70,498.7 L610.88,521.4 L611.06,486.8 L611.24,489.6 L611.42,468.6 L611.60,492.4 L611.78,496.7 L611.96,502.0 L612.14,478.2 L612.32,486.7 L612.50,503.6 L612.50,551.7 L612.68,497.1 L612.86,501.7 L613.04,484.8 L613.22,514.3 L613.40,491.1 L613.58,481.9 L613.76,526.4 L613.94,491.3 L614.12,463.6 L614.30,482.1 L614.48,472.4 L614.66,516.9 L614.84,495.1 L615.02,489.0 L615.20,517.0 L615.38,453.5 L615.56,509.4 L615.74,489.3 L615.92,500.0 L616.10,507.2 L616.28,512.3 L616.46,499.7 L616.64,511.9 L616.82,516.5 L617.00,486.8 L617.18,493.8 L617.36,521.4 L617.54,506.4 L617.72,507.1 L617.90,499.9 L618.08,475.6 L618.26,484.3 L618.44,503.8 L618.62,513.6 L618.80,500.0 L618.98,519.1 L619.16,487.8 L619.34,515.9 L619.52,472.9 L619.70,510.6 L619.88,512.4 L620.06,527.7 L620.24,525.0 L620.42,495.5 L620.60,472.5 L620.78,466.3 L620.96,498.8 L621.14,507.7 L621.32,459.3 L621.50,475.7 L621.68,506.9 L621.86,498.7 L622.04,471.1 L622.22,459.6 L622.40,517.8 L622.58,482.4 L622.76,508.4 L622.94,468.7 L623.12,519.5 L623.30,508.3 L623.48,455.1 L623.66,448.9 L623.84,503.4 L624.02,522.7 L624.20,518.9 L624.38,513.8 L624.56,511.4 L624.74,457.6 L624.92,466.1 L625.10,477.5 L625.28,482.5 L625.46,493.5 L625.64,496.5 L625.82,470.3 L626.00,477.6 L626.18,504.0 L626.36,467.0 L626.54,476.2 L626.72,467.1 L626.90,504.6 L627.08,460.1 L627.26,469.3 L627.44,489.4 L627.62,477.7 L627.80,494.9 L627.98,473.0 L628.16,461.3 L628.34,516.4 L628.52,501.6 L628.70,520.9 L628.88,510.1 L629.06,460.4 L629.24,486.8 L629.42,499.8 L629.60,528.1 L629.78,468.6 L629.96,489.3 L630.14,515.8 L630.32,483.9 L630.50,515.3 L630.68,516.2 L630.86,506.6 L631.04,480.0 L631.22,490.3 L631.40,507.4 L631.58,514.3 L631.76,458.5 L631.94,492.9 L632.12,507.8 L632.30,474.0 L632.48,520.4 L632.66,511.5 L632.84,442.3 L633.02,442.7 L633.20,481.0 L633.38,455.9 L633.56,502.5 L633.74,485.3 L633.92,513.2 L634.10,508.6 L634.28,476.9 L634.46,480.3 L634.64,457.5 L634.82,504.4 L635.00,503.4 L635.18,499.1 L635.36,496.8 L635.54,495.9 L635.72,439.8 L635.90,468.7 L636.08,490.3 L636.26,471.2 L636.44,490.4 L636.62,464.2 L636.80,493.8 L636.98,475.1 L637.16,457.7 L637.34,467.8 L637.52,502.9 L637.70,504.2 L637.88,462.7 L638.06,469.0 L638.24,473.7 L638.42,461.4 L638.60,521.0 L638.78,499.7 L638.96,469.8 L639.14,497.9 L639.32,499.1 L639.50,488.6 L639.68,511.1 L639.86,477.4 L640.04,471.1 L640.22,478.0 L640.40,472.6 L640.58,510.2 L640.76,507.5 L640.94,483.8 L641.12,488.5 L641.30,525.4 L641.48,482.8 L641.66,484.7 L641.84,478.4 L642.02,479.3 L642.20,493.0 L642.38,498.9 L642.56,533.5 L642.74,518.5 L642.92,503.2 L643.10,526.7 L643.28,535.0 L643.46,478.1 L643.64,492.1 L643.82,503.9 L644.00,516.0 L644.18,494.7 L644.36,521.1 L644.54,516.0 L644.72,502.1 L644.90,512.1 L645.08,490.1 L645.26,545.2 L645.44,509.8 L645.62,536.5 L645.80,499.8 L645.98,542.3 L646.16,524.4 L646.34,525.7 L646.52,538.2 L646.70,518.8 L646.88,507.0 L647.06,537.5 L647.24,517.2 L647.42,513.4 L647.60,527.9 L647.78,516.4 L647.96,540.2 L648.14,503.0 L648.32,504.7 L648.50,516.6 L648.68,531.9 L648.86,533.3 L649.04,519.2 L649.22,502.9 L649.40,506.7 L649.58,543.5 L649.76,539.1 L649.94,543.4 L650.12,502.6 L650.30,542.2 L650.48,508.9 L650.66,481.2 L650.84,520.5 L651.02,514.8 L651.20,540.5 L651.38,514.8 L651.56,485.9 L651.70,580.0 L651.74,518.2 L651.92,499.4 L652.10,547.8 L652.28,504.6 L652.46,504.8 L652.64,534.7 L652.82,531.8 L653.00,535.1 L653.18,533.0 L653.36,528.0 L653.54,486.6 L653.72,467.5 L653.90,533.7 L654.08,547.4 L654.26,513.5 L654.00,456.7 L654.60,456.7 L654.44,483.4 L654.62,531.9 L654.80,531.5 L654.98,543.4 L655.16,517.7 L655.34,494.2 L655.52,501.2 L655.70,531.9 L655.88,499.5 L656.06,485.7 L656.24,472.2 L656.42,480.5 L656.60,521.0 L656.78,500.1 L656.96,531.8 L657.14,508.9 L657.32,546.3 L657.50,465.4 L657.68,536.4 L657.86,491.6 L658.04,519.9 L658.22,489.9 L658.40,523.6 L658.58,502.5 L658.76,503.1 L658.94,495.7 L659.12,548.8 L659.30,476.9 L659.48,511.3 L659.66,527.2 L659.84,505.0 L660.02,510.0 L660.20,511.6 L660.38,534.4 L660.56,534.7 L660.74,526.8 L660.92,528.3 L661.10,519.9 L661.28,533.1 L661.46,491.2 L661.64,484.4 L661.82,498.8 L662.00,487.2 L662.18,528.2 L662.36,488.7 L662.54,482.5 L662.72,495.0 L662.90,496.5 L663.08,500.0 L663.26,475.0 L663.44,500.3 L663.62,497.0 L663.80,506.5 L663.98,484.1 L664.16,520.8 L664.34,516.1 L664.52,484.2 L664.70,476.9 L664.88,479.5 L665.06,538.8 L665.24,458.6 L665.42,502.8 L665.60,471.4 L665.78,513.9 L665.96,524.0 L666.14,499.1 L666.32,478.6 L666.50,526.0 L666.68,475.6 L666.86,504.2 L667.04,518.9 L667.22,486.5 L667.40,522.4 L667.58,496.7 L667.76,471.7 L667.94,483.5 L668.12,531.8 L668.30,478.5 L668.48,472.9 L668.66,489.5 L668.84,489.3 L669.02,499.0 L669.20,481.2 L669.38,479.7 L669.56,462.8 L669.74,485.0 L669.92,479.8 L670.10,456.8 L670.28,504.8 L670.46,459.1 L670.64,483.8 L670.82,465.8 L671.00,462.5 L671.18,488.8 L671.36,492.9 L671.54,449.1 L671.72,451.6 L671.90,448.1 L672.08,494.2 L672.26,475.4 L672.44,495.0 L672.62,500.5 L672.80,457.9 L672.98,498.7 L673.16,493.9 L673.34,488.9 L673.52,448.8 L673.70,432.1 L673.88,456.9 L674.06,447.4 L674.24,428.6 L674.42,418.4 L674.60,458.7 L674.78,402.5 L674.96,412.7 L675.14,417.2 L675.32,414.4 L675.50,439.0 L675.68,461.7 L675.86,428.6 L675.70,373.3 L676.30,373.3 L676.04,403.1 L676.22,412.1 L676.40,422.0 L676.58,403.7 L676.76,422.6 L676.94,431.7 L677.12,434.6 L677.30,497.2 L677.48,432.4 L677.66,440.4 L677.84,474.0 L678.02,508.2 L678.20,496.2 L678.38,506.6 L678.56,482.2 L678.74,489.4 L678.92,427.5 L679.10,453.0 L679.28,484.6 L679.46,468.7 L679.64,508.3 L679.82,482.3 L680.00,460.8 L680.18,522.3 L680.00,412.0 L680.60,412.0 L680.36,501.7 L680.54,478.2 L680.72,528.5 L680.90,466.2 L681.08,469.4 L681.26,522.7 L681.44,523.5 L681.62,548.8 L681.80,490.8 L681.98,540.5 L682.16,505.4 L682.34,544.6 L682.52,538.1 L682.70,529.4 L682.88,493.8 L683.06,501.0 L683.24,523.8 L683.42,500.4 L683.60,563.0 L683.78,559.2 L683.96,504.2 L684.14,542.8 L684.32,512.5 L684.50,500.1 L684.68,557.1 L684.86,520.3 L685.04,552.5 L685.22,529.9 L685.40,559.6 L685.58,526.8 L685.76,560.1 L685.94,547.2 L686.12,520.6 L686.30,557.0 L686.48,528.5 L686.66,517.7 L686.84,532.6 L687.02,518.9 L687.20,543.8 L687.38,559.1 L687.56,562.2 L687.74,537.6 L687.92,520.5 L688.10,531.5 L688.28,558.3 L688.46,525.9 L688.64,520.4 L688.82,534.9 L689.00,529.3 L689.18,530.8 L689.36,536.5 L689.54,554.6 L689.72,551.4 L689.90,541.7 L690.08,528.1 L690.26,525.1 L690.44,536.5 L690.62,525.4 L690.80,540.1 L690.98,547.2 L691.16,554.5 L691.34,538.2 L691.52,578.7 L691.70,550.9 L691.88,571.3 L692.06,535.9 L692.24,557.3 L692.42,555.7 L692.60,536.1 L692.78,535.7 L692.96,561.6 L693.14,544.1 L693.32,561.2 L693.50,573.7 L693.68,557.4 L693.86,564.4 L694.04,566.6 L694.22,568.2 L694.40,549.1 L694.58,567.3 L694.76,569.1 L694.94,558.3 L695.12,528.7 L695.30,539.7 L695.48,553.2 L695.66,541.2 L695.84,559.9 L696.02,526.8 L696.20,529.9 L696.38,546.5 L696.56,525.7 L696.74,558.4 L696.92,523.3 L697.10,529.7 L697.28,539.6 L697.46,523.8 L697.64,538.2 L697.82,540.9 L698.00,531.6 L698.18,537.6 L698.36,557.3 L698.54,517.8 L698.72,562.9 L698.90,535.4 L699.08,515.4 L699.26,559.3 L699.44,514.7 L699.62,515.6 L699.80,531.0 L699.98,523.2 L700.16,522.4 L700.34,524.0 L700.52,516.4 L700.70,533.1 L700.88,526.8 L701.06,556.3 L701.24,568.6 L701.42,562.1 L701.60,558.2 L701.78,551.1 L701.96,531.0 L702.14,554.0 L702.32,510.3 L702.50,522.9 L702.68,559.3 L702.86,555.5 L703.04,552.7 L703.22,525.5 L703.40,521.3 L703.58,549.1 L703.76,524.5 L703.94,550.7 L704.12,533.2 L704.30,546.4 L704.48,528.8 L704.66,554.2 L704.84,549.3 L705.02,555.8 L705.20,521.1 L705.38,559.8 L705.56,547.7 L705.74,539.5 L705.92,550.7 L706.10,564.0 L706.28,544.5 L706.46,545.0 L706.64,530.2 L706.82,561.1 L707.00,569.1 L707.18,561.9 L707.36,542.0 L707.54,548.3 L707.72,569.4 L707.90,570.2 L708.08,538.8 L708.26,572.7 L708.44,563.9 L708.62,544.5 L708.80,563.4 L708.98,530.1 L709.16,564.7 L709.34,551.7 L709.52,529.4 L709.70,568.0 L709.88,556.3 L710.06,527.2 L710.24,576.5 L710.42,554.3 L710.60,542.1 L710.78,549.3 L710.96,523.9 L711.14,547.9 L711.32,525.4 L711.50,551.0 L711.68,536.2 L711.86,564.5 L712.04,561.5 L712.22,529.7 L712.40,533.8 L712.58,514.2 L712.76,526.2 L712.94,543.4 L713.12,520.5 L713.30,534.2 L713.48,547.8 L713.66,557.9 L713.84,560.3 L714.02,510.8 L714.20,554.0 L714.38,549.7 L714.56,539.6 L714.74,514.5 L714.92,519.1 L715.10,517.8 L715.28,515.8 L715.46,554.9 L715.64,519.3 L715.82,559.8 L716.00,544.1 L716.18,559.6 L716.36,512.6 L716.54,540.8 L716.72,545.6 L716.90,509.8 L717.08,536.8 L717.26,561.2 L717.44,510.5 L717.62,509.4 L717.80,517.8 L717.98,525.9 L718.16,564.7 L718.34,509.4 L718.52,534.0 L718.70,527.5 L718.88,545.6 L719.06,535.8 L719.24,521.7 L719.42,532.1 L719.60,518.9 L719.78,555.7 L719.96,522.5 L720.14,516.9 L720.32,512.8 L720.50,509.3 L720.68,513.1 L720.86,511.7 L721.04,522.8 L721.22,552.7 L721.40,552.5 L721.58,544.2 L721.76,525.9 L721.94,539.0 L722.12,528.5 L722.30,527.8 L722.48,548.9 L722.66,541.6 L722.84,534.2 L723.02,518.4 L723.20,535.6 L723.38,537.3 L723.56,538.7 L723.74,512.6 L723.92,522.2 L724.10,532.5 L724.28,534.8 L724.46,525.6 L724.64,551.1 L724.82,539.4 L725.00,541.3 L725.18,531.8 L725.36,531.5 L725.54,547.2 L725.72,530.2 L725.90,509.3 L726.08,511.9 L726.26,544.9 L726.44,536.6 L726.62,501.6 L726.80,526.9 L726.98,517.0 L727.16,543.3 L727.34,540.0 L727.52,520.0 L727.70,510.8 L727.88,524.9 L728.06,526.1 L728.24,498.2 L728.42,502.7 L728.60,500.3 L728.78,550.5 L728.96,505.5 L729.14,544.2 L729.32,524.5 L729.50,533.7 L729.68,490.9 L729.86,537.7 L730.04,502.5 L730.22,504.2 L730.40,509.7 L730.58,541.5 L730.76,526.5 L730.94,538.4 L731.12,505.4 L731.30,492.1 L731.48,491.2 L731.66,533.0 L731.84,515.6 L732.02,497.3 L732.20,494.9 L732.38,504.1 L732.56,498.3 L732.74,532.7 L732.92,534.3 L733.10,539.0 L733.28,527.6 L733.46,512.8 L733.64,514.3 L733.82,529.9 L734.00,496.6 L734.18,503.0 L734.36,540.3 L734.54,492.1 L734.72,501.5 L734.90,495.5 L735.08,504.3 L735.26,493.3 L735.44,502.6 L735.62,488.6 L735.80,528.5 L735.98,525.6 L736.16,508.6 L736.34,492.3 L736.52,502.5 L736.70,509.3 L736.88,498.7 L737.06,511.6 L737.24,490.3 L737.42,488.4 L737.60,502.7 L737.78,525.7 L737.96,503.3 L738.14,526.6 L738.32,517.2 L738.50,524.0 L738.68,500.5 L738.86,505.2 L739.04,533.0 L739.22,488.3 L739.40,529.2 L739.58,527.1 L739.76,481.4 L739.94,482.0 L740.12,516.6 L740.30,480.9 L740.48,509.8 L740.66,489.8 L740.84,528.1 L741.02,494.3 L741.20,506.4 L741.38,509.2 L741.56,526.6 L741.74,480.6 L741.92,486.9 L742.10,520.1 L742.28,484.1 L742.46,480.2 L742.64,517.2 L742.82,504.3 L743.00,480.6 L743.18,512.2 L743.36,512.2 L743.54,493.4 L743.72,478.3 L743.90,480.4 L744.08,477.7 L744.26,489.3 L744.44,502.3 L744.62,486.0 L744.80,474.7 L744.98,476.5 L745.16,480.6 L745.34,496.1 L745.52,520.8 L745.70,499.5 L745.88,514.8 L746.06,519.6 L746.24,499.7 L746.42,496.2 L746.60,486.9 L746.78,495.5 L746.96,476.5 L747.14,512.9 L747.32,508.8 L747.50,485.2 L747.68,499.1 L747.86,469.6 L748.04,470.1 L748.22,453.4 L748.40,468.6 L748.58,459.6 L748.76,475.0 L748.94,511.0 L749.12,467.4 L749.30,506.8 L749.48,484.8 L749.66,506.6 L749.84,511.9 L750.02,495.2 L750.20,468.7 L750.38,473.8 L750.56,451.4 L750.74,516.6 L750.92,475.0 L751.10,485.4 L751.28,510.8 L751.46,468.6 L751.64,502.4 L751.82,489.7 L752.00,491.7 L752.18,470.3 L752.36,493.1 L752.54,498.5 L752.72,502.5 L752.90,488.7 L753.08,457.1 L753.26,493.4 L753.44,459.4 L753.62,494.8 L753.80,524.4 L753.98,467.0 L754.16,458.0 L754.34,501.5 L754.52,452.6 L754.70,506.3 L754.88,506.4 L755.06,478.0 L755.24,454.4 L755.42,496.8 L755.60,456.6 L755.78,461.1 L755.96,511.3 L756.14,455.4 L756.32,504.8 L756.50,506.7 L756.68,464.2 L756.86,488.6 L757.04,483.0 L757.22,499.9 L757.40,436.2 L757.58,449.1 L757.76,466.7 L757.94,501.8 L758.12,449.4 L758.30,475.9 L758.48,478.5 L758.66,496.1 L758.80,532.7 L758.84,450.2 L759.02,445.5 L759.20,496.2 L759.38,461.2 L759.56,489.2 L759.74,487.4 L759.92,487.9 L760.10,441.1 L760.28,464.8 L760.46,455.8 L760.64,473.9 L760.82,455.8 L761.00,441.0 L761.18,468.6 L761.36,479.1 L761.54,442.1 L761.72,473.4 L761.90,453.7 L762.08,430.5 L762.26,480.5 L762.44,436.1 L762.62,427.8 L762.80,452.2 L762.98,467.5 L763.16,448.1 L763.34,440.3 L763.52,452.7 L763.70,429.6 L763.88,419.1 L764.06,446.6 L764.24,428.1 L764.42,456.1 L764.60,416.1 L764.78,468.3 L764.96,476.1 L765.14,423.2 L765.32,437.4 L765.50,425.3 L765.68,455.8 L765.86,442.5 L766.04,464.7 L766.22,425.2 L766.40,441.2 L766.58,447.6 L766.76,437.5 L766.94,442.3 L767.12,456.3 L767.30,462.0 L767.48,465.0 L767.66,467.8 L767.84,465.8 L768.02,469.6 L768.20,455.9 L768.38,454.4 L768.20,395.3 L768.80,395.3 L768.56,468.6 L768.74,430.9 L768.92,457.9 L769.10,460.4 L769.28,467.7 L769.46,461.1 L769.64,475.8 L769.82,442.7 L770.00,438.4 L770.18,449.3 L770.36,466.4 L770.54,473.3 L770.72,428.8 L770.90,430.8 L771.08,426.4 L771.26,457.8 L771.44,453.6 L771.62,451.1 L771.80,474.8 L771.98,427.2 L772.16,434.2 L772.34,426.7 L772.52,450.5 L772.70,426.8 L772.88,437.6 L773.06,418.5 L773.24,471.1 L773.42,453.8 L773.60,473.2 L773.78,482.2 L773.96,415.4 L774.14,464.5 L774.32,462.6 L774.50,440.4 L774.68,440.6 L774.86,435.3 L775.04,438.0 L775.22,426.5 L775.40,475.9 L775.58,473.9 L775.76,474.0 L775.94,472.3 L776.12,457.8 L776.30,453.4 L776.48,437.5 L776.66,447.8 L776.84,455.3 L777.02,435.5 L777.20,443.8 L777.38,443.9 L777.56,458.6 L777.74,432.9 L777.92,437.2 L778.10,477.0 L778.28,454.0 L778.46,451.6 L778.64,480.0 L778.82,472.5 L779.00,488.7 L779.18,454.5 L779.36,421.5 L779.54,469.4 L779.72,460.0 L779.90,483.3 L780.08,445.9 L780.26,449.4 L780.44,487.5 L780.62,487.0 L780.80,472.7 L780.98,484.4 L781.16,482.2 L781.34,471.2 L781.52,485.0 L781.70,441.5 L781.88,468.8 L782.06,474.4 L782.24,462.9 L782.42,438.7 L782.60,449.4 L782.78,473.3 L782.96,443.6 L783.14,436.2 L783.32,466.0 L783.50,455.4 L783.68,494.8 L783.86,448.8 L784.04,473.0 L784.22,465.9 L784.40,481.5 L784.58,461.3 L784.76,480.8 L784.94,455.6 L785.12,456.7 L785.30,486.3 L785.48,480.2 L785.66,477.2 L785.84,463.3 L786.02,461.1 L786.20,484.6 L786.38,468.9 L786.56,452.6 L786.74,471.5 L786.92,493.1 L787.10,467.9 L787.28,469.6 L787.46,488.2 L787.64,480.2 L787.82,445.4 L788.00,495.8 L788.18,496.0 L788.36,484.9 L788.54,472.4 L788.72,461.6 L788.90,487.7 L789.08,489.2 L789.26,464.0 L789.44,459.0 L789.62,455.0 L789.80,454.9 L789.98,446.6 L790.16,475.0 L790.34,465.5 L790.52,500.5 L790.70,446.8 L790.88,448.2 L791.06,462.8 L791.24,465.7 L791.42,470.7 L791.60,452.4 L791.78,437.0 L791.96,442.7 L792.14,440.5 L792.32,485.7 L792.50,480.7 L792.68,474.5 L792.86,471.8 L793.04,475.8 L793.22,481.6 L793.40,487.2 L793.58,479.9 L793.76,486.1 L793.94,485.3 L794.12,489.2 L794.30,459.3 L794.48,450.5 L794.66,487.6 L794.84,455.6 L795.02,469.5 L795.20,491.4 L795.38,456.1 L795.56,452.9 L795.74,493.3 L795.92,487.3 L796.10,481.2 L796.28,482.6 L796.46,480.7 L796.64,471.1 L796.82,484.1 L797.00,448.9 L797.18,487.7 L797.36,454.6 L797.54,465.2 L797.72,450.3 L797.90,458.9 L798.08,496.1 L798.26,497.9 L798.44,477.5 L798.62,456.1 L798.80,495.6 L798.98,494.2 L799.16,493.9 L799.34,497.7 L799.52,496.1 L799.70,465.1 L799.88,474.3 L800.06,472.0 L800.24,458.7 L800.42,493.0 L800.60,459.8 L800.78,459.6 L800.96,460.3 L801.14,497.7 L801.32,492.5 L801.50,497.1 L801.68,476.8 L801.86,463.8 L802.04,452.2 L802.22,479.8 L802.40,467.3 L802.58,492.0 L802.76,469.1 L802.94,481.6 L803.12,466.3 L803.30,502.8 L803.48,498.5 L803.66,503.9 L803.84,494.6 L804.02,483.2 L804.20,466.1 L804.38,460.6 L804.56,503.7 L804.74,488.6 L804.92,502.5 L805.10,470.0 L805.28,460.4 L805.46,454.9 L805.64,497.9 L805.82,497.0 L806.00,484.7 L806.18,494.8 L806.36,472.3 L806.54,494.4 L806.72,456.9 L806.90,497.7 L807.08,492.4 L807.26,506.8 L807.44,514.3 L807.62,462.0 L807.80,497.7 L807.98,464.5 L808.16,471.1 L808.34,482.4 L808.52,477.2 L808.70,465.0 L808.88,503.4 L809.06,456.5 L809.24,468.2 L809.42,496.9 L809.60,482.3 L809.78,469.2 L809.96,465.5 L810.14,500.1 L810.32,474.3 L810.50,484.2 L810.68,472.8 L810.86,495.0 L811.04,471.7 L811.22,493.3 L811.40,460.2 L811.58,512.1 L811.76,504.1 L811.94,494.0 L812.12,474.7 L812.30,486.3 L812.48,470.8 L812.66,483.2 L812.84,499.6 L813.02,471.0 L813.20,487.6 L813.38,499.6 L813.56,490.1 L813.74,482.5 L813.92,477.4 L814.10,489.5 L814.28,504.0 L814.46,479.3 L814.64,493.9 L814.82,454.9 L815.00,518.4 L815.18,470.5 L815.36,490.6 L815.54,464.0 L815.72,504.2 L815.90,487.2 L816.08,477.1 L816.26,494.4 L816.44,455.7 L816.62,512.4 L816.80,445.6 L816.98,479.2 L817.16,502.6 L817.34,463.8 L817.52,472.2 L817.70,475.5 L817.88,477.8 L818.06,481.4 L818.24,465.1 L818.42,481.1 L818.60,512.2 L818.78,474.0 L818.96,453.5 L819.14,503.8 L819.32,459.6 L819.50,451.6 L819.68,458.5 L819.86,452.5 L820.04,472.3 L820.22,491.7 L820.40,498.6 L820.58,489.4 L820.76,468.5 L820.94,498.3 L821.12,496.2 L821.30,458.9 L821.48,500.7 L821.66,468.1 L821.84,493.3 L822.02,482.7 L822.20,476.8 L822.38,488.8 L822.56,442.1 L822.74,456.7 L822.92,511.5 L823.10,487.7 L823.28,513.0 L823.46,449.6 L823.64,516.4 L823.82,444.2 L824.00,486.1 L824.18,502.6 L824.36,455.5 L824.54,458.7 L824.72,487.5 L824.90,444.0 L825.08,475.8 L825.26,477.8 L825.44,477.6 L825.62,465.0 L825.80,496.0 L825.98,467.9 L826.16,492.2 L826.34,473.4 L826.52,463.5 L826.70,488.5 L826.88,471.0 L827.06,501.6 L827.24,510.7 L827.42,505.2 L827.60,493.3 L827.78,480.9 L827.96,480.0 L828.10,532.7 L828.14,513.2 L828.32,477.0 L828.50,463.3 L828.68,459.5 L828.86,490.0 L829.04,490.4 L829.22,473.7 L829.40,482.7 L829.58,507.5 L829.76,502.8 L829.94,477.9 L830.12,512.3 L830.30,468.7 L830.48,493.4 L830.66,490.7 L830.84,468.3 L831.02,460.6 L831.20,503.8 L831.38,498.4 L831.56,491.3 L831.74,461.7 L831.92,507.3 L832.10,469.2 L832.28,488.2 L832.46,504.2 L832.64,472.5 L832.82,476.9 L833.00,492.7 L833.18,472.9 L833.36,490.7 L833.54,461.9 L833.72,501.2 L833.90,471.3 L834.08,504.2 L834.26,475.5 L834.44,464.2 L834.62,484.3 L834.80,466.7 L834.98,497.9 L835.16,468.1 L835.34,500.5 L835.52,459.7 L835.70,469.7 L835.88,478.4 L836.06,509.6 L836.24,492.7 L836.42,466.1 L836.60,472.2 L836.78,467.7 L836.96,462.6 L837.14,492.9 L837.32,504.4 L837.50,465.1 L837.68,460.6 L837.86,505.5 L838.04,502.1 L838.22,487.0 L838.40,506.7 L838.58,494.2 L838.76,483.8 L838.94,483.5 L839.12,498.5 L839.30,491.0 L839.48,462.0 L839.66,470.1 L839.84,485.1 L840.02,479.8 L840.20,496.9 L840.38,481.6 L840.56,469.5 L840.74,484.0 L840.92,491.8 L841.10,488.3 L841.28,472.4 L841.46,466.6 L841.64,454.8 L841.82,472.0 L842.00,478.5 L842.18,486.5 L842.36,476.3 L842.54,474.1 L842.72,452.1 L842.90,451.7 L843.08,470.1 L843.26,477.5 L843.44,487.7 L843.62,495.3 L843.80,475.2 L843.98,483.2 L844.16,481.5 L844.34,477.3 L844.52,470.1 L844.70,491.7 L844.88,443.4 L845.06,445.8 L845.24,459.9 L845.42,493.0 L845.60,500.0 L845.78,460.7 L845.96,448.4 L846.14,491.8 L846.32,476.6 L846.50,485.1 L846.68,481.9 L846.86,448.2 L847.04,469.6 L847.22,457.2 L847.40,481.1 L847.58,479.2 L847.76,463.9 L847.94,447.4 L848.12,484.1 L848.30,451.2 L848.48,491.7 L848.66,483.3 L848.84,461.4 L849.02,490.5 L849.20,455.5 L849.38,455.4 L849.56,450.0 L849.74,499.1 L849.92,455.6 L850.10,469.7 L850.28,481.4 L850.46,493.4 L850.64,449.3 L850.82,473.3 L851.00,477.5 L851.18,485.7 L851.36,462.5 L851.54,481.3 L851.72,494.0 L851.90,491.3 L852.08,438.2 L852.26,471.9 L852.44,458.6 L852.62,484.2 L852.80,454.4 L852.98,442.8 L853.16,450.8 L853.34,479.5 L853.52,458.5 L853.70,497.1 L853.88,477.3 L854.06,487.5 L854.24,460.7 L854.42,463.6 L854.60,438.3 L854.78,440.4 L854.96,467.5 L855.14,459.3 L855.32,486.1 L855.50,477.9 L855.68,487.1 L855.86,488.2 L856.04,455.2 L856.22,500.1 L856.40,493.8 L856.58,467.5 L856.76,485.6 L856.94,454.0 L857.12,474.4 L857.30,479.6 L857.48,496.2 L857.66,493.7 L857.84,495.6 L858.02,454.9 L858.20,474.9 L858.38,501.4 L858.56,463.6 L858.74,437.2 L858.92,470.5 L859.10,443.1 L859.28,500.6 L859.46,500.0 L859.64,443.8 L859.82,484.3 L860.00,507.9 L860.18,472.4 L860.36,453.9 L860.54,453.6 L860.72,478.2 L860.90,450.1 L861.08,459.9 L861.26,468.3 L861.44,480.1 L861.62,446.7 L861.80,509.9 L861.98,493.1 L862.16,494.1 L862.34,458.1 L862.52,454.7 L862.70,484.4 L862.88,468.9 L863.06,477.8 L863.24,488.4 L863.42,501.6 L863.60,503.3 L863.78,457.4 L863.96,466.8 L864.14,492.7 L864.32,495.8 L864.50,471.8 L864.68,467.9 L864.86,465.0 L865.04,476.4 L865.22,461.3 L865.40,462.6 L865.58,469.7 L865.76,446.4 L865.94,443.9 L866.12,483.5 L866.30,470.0 L866.48,449.9 L866.66,466.4 L866.84,501.9 L867.02,492.4 L867.20,468.2 L867.38,501.5 L867.56,485.6 L867.74,490.2 L867.92,479.1 L868.10,498.0 L868.28,469.0 L868.46,510.1 L868.64,473.4 L868.82,434.9 L869.00,452.4 L869.18,440.4 L869.36,479.5 L869.54,469.2 L869.72,490.3 L869.90,468.0 L870.00,525.0 L870.08,478.2 L870.26,462.5 L870.44,486.4 L870.62,500.7 L870.80,497.3 L870.98,485.1 L871.16,491.4 L871.34,490.7 L871.52,478.1 L871.70,485.6 L871.88,470.0 L872.06,465.3 L872.24,433.9 L872.42,491.3 L872.60,452.4 L872.78,459.3 L872.96,492.0 L873.14,470.8 L873.32,515.2 L873.50,451.8 L873.68,467.3 L873.86,495.6 L874.04,486.0 L874.22,461.5 L874.40,453.6 L874.58,450.2 L874.76,496.5 L874.94,489.7 L875.12,473.9 L875.30,479.2 L875.48,471.1 L875.66,481.7 L875.84,500.5 L876.02,489.1 L876.20,480.2 L876.38,497.9 L876.56,439.6 L876.74,507.6 L876.92,490.1 L877.10,475.2 L877.28,464.2 L877.46,449.7 L877.64,458.9 L877.82,469.7 L878.00,449.7 L878.18,497.1 L878.36,438.3 L878.54,499.4 L878.72,471.7 L878.90,485.1 L879.08,484.3 L879.26,474.9 L879.44,494.6 L879.62,494.4 L879.80,451.3 L879.98,460.1 L880.16,456.7 L880.34,452.7 L880.52,478.2 L880.70,455.4 L880.88,478.2 L881.06,457.7 L881.24,479.9 L880.95,425.0 L881.55,425.0 L881.42,482.4 L881.60,473.9 L881.78,489.6 L881.96,487.6 L882.14,470.6 L882.32,447.6 L882.50,454.2 L882.68,472.6 L882.86,496.9 L883.04,449.7 L883.22,443.7 L883.40,454.6 L883.58,451.6 L883.76,491.0 L883.94,447.3 L884.12,452.8 L884.30,476.3 L884.48,501.6 L884.66,461.8 L884.84,482.7 L885.02,476.6 L885.20,473.5 L885.38,478.0 L885.56,477.7 L885.74,473.8 L885.92,451.4 L886.10,458.9 L886.28,491.8 L886.46,493.3 L886.64,450.9 L886.82,489.3 L887.00,496.8 L887.18,493.7 L887.36,461.2 L887.54,449.2 L887.72,452.5 L887.90,493.7 L888.08,473.9 L888.26,494.5 L888.44,462.2 L888.62,478.0 L888.80,457.5 L888.98,493.3 L889.16,469.1 L889.34,460.8 L889.52,501.3 L889.70,455.4 L889.88,451.5 L890.06,502.1 L890.24,463.6 L890.42,455.0 L890.60,514.8 L890.78,479.8 L890.96,503.4 L891.14,492.9 L891.32,465.1 L891.50,493.7 L891.68,468.4 L891.86,500.3 L892.04,504.5 L892.22,494.8 L892.40,489.9 L892.58,502.2 L892.76,464.7 L892.94,485.8 L893.12,471.6 L893.30,500.9 L893.48,466.2 L893.66,469.5 L893.84,459.6 L894.02,499.7 L894.20,478.3 L894.38,482.1 L894.56,484.1 L894.74,483.4 L894.92,448.4 L895.10,503.0 L895.28,452.3 L895.46,473.0 L895.64,469.5 L895.82,455.7 L896.00,520.6 L896.18,458.7 L896.36,500.7 L896.54,494.5 L896.72,444.2 L896.90,463.2 L897.08,520.2 L897.26,507.3 L897.44,477.4 L897.62,452.4 L897.80,471.2 L897.98,453.4 L898.16,483.2 L898.34,494.2 L898.52,462.4 L898.70,452.9 L898.88,508.4 L899.06,496.3 L899.24,453.3 L899.25,542.5 L899.42,496.4 L899.60,481.6 L899.78,498.3 L899.96,446.1 L900.14,467.5 L900.32,468.5 L900.50,450.7 L900.68,484.9 L900.86,491.4 L901.04,491.2 L901.22,471.1 L901.40,487.8 L901.58,509.1 L901.76,518.0 L901.94,515.8 L902.12,514.7 L902.30,503.6 L902.48,473.4 L902.66,501.4 L902.84,507.2 L903.02,467.3 L903.20,483.3 L903.38,489.1 L903.56,507.3 L903.74,483.6 L903.92,497.4 L904.10,506.7 L904.28,485.1 L904.46,486.2 L904.64,528.6 L904.82,489.8 L905.00,493.0 L905.18,501.4 L905.36,533.6 L905.54,492.9 L905.72,518.2 L905.90,509.0 L906.08,500.3 L906.26,525.6 L906.44,530.3 L906.62,510.5 L906.80,517.7 L906.98,533.7 L907.16,542.4 L907.34,541.9 L907.52,519.3 L907.70,543.1 L907.88,529.8 L908.06,550.4 L908.24,525.2 L908.42,518.4 L908.60,517.8 L908.78,523.3 L908.96,519.5 L909.14,515.9 L909.32,544.9 L909.50,529.3 L909.68,537.0 L909.86,545.5 L910.04,531.2 L910.22,527.3 L910.40,560.5 L910.58,525.5 L910.76,527.3 L910.94,544.2 L911.12,548.6 L911.30,535.5 L911.48,518.2 L911.66,552.4 L911.84,539.1 L912.02,523.1 L912.20,524.4 L912.38,530.5 L912.50,585.0 L912.56,558.7 L912.74,527.1 L912.92,514.7 L913.10,552.2 L913.28,524.8 L913.46,551.7 L913.64,549.7 L913.82,526.0 L914.00,540.8 L914.18,531.7 L914.36,527.1 L914.54,555.9 L914.72,545.8 L914.90,528.9 L915.08,558.4 L915.26,545.6 L915.44,545.5 L915.62,548.2 L915.80,517.1 L915.98,512.9 L916.16,515.5 L916.34,522.0 L916.52,549.0 L916.70,540.6 L916.88,564.8 L917.06,551.7 L917.24,552.5 L917.42,556.8 L917.60,558.0 L917.78,506.9 L917.96,557.5 L918.14,519.5 L918.32,518.9 L918.50,547.8 L918.68,550.7 L918.86,495.4 L919.04,535.9 L919.22,522.4 L919.40,553.0 L919.58,535.0 L919.76,536.5 L919.94,534.9 L920.12,505.3 L920.30,526.5 L920.48,507.3 L920.66,531.1 L920.84,558.4 L921.02,545.7 L921.20,535.1 L921.38,507.0 L921.56,542.3 L921.74,516.9 L921.92,522.9 L922.10,528.9 L922.28,529.3 L922.46,527.9 L922.64,541.5 L922.82,537.0 L923.00,548.7 L923.18,497.3 L923.36,535.9 L923.54,521.3 L923.72,501.6 L923.90,497.1 L924.08,495.1 L924.26,517.4 L924.44,513.3 L924.62,526.4 L924.80,534.4 L924.98,531.4 L925.16,529.4 L925.34,542.9 L925.52,511.6 L925.70,501.1 L925.88,509.5 L926.06,476.4 L926.24,499.1 L926.42,546.7 L926.60,495.2 L926.78,533.2 L926.96,530.1 L927.14,541.8 L927.32,486.5 L927.50,471.6 L927.68,522.0 L927.86,536.7 L928.04,484.8 L928.22,482.8 L928.40,489.3 L928.58,500.5 L928.76,491.8 L928.94,480.6 L929.12,517.0 L929.30,522.0 L929.48,534.7 L929.66,464.5 L929.84,487.4 L930.02,503.4 L930.20,473.7 L930.38,522.8 L930.56,540.2 L930.74,513.5 L930.92,529.3 L931.10,502.8 L931.28,512.7 L931.46,484.6 L931.64,508.6 L931.82,505.2 L932.00,496.8 L932.18,468.1 L932.36,456.9 L932.54,523.5 L932.72,490.0 L932.90,505.7 L933.08,516.4 L933.26,526.7 L933.44,473.8 L933.62,473.6 L933.80,507.6 L933.98,469.0 L934.16,479.1 L934.34,482.5 L934.52,527.4 L934.70,519.8 L934.88,505.6 L935.06,517.8 L935.24,510.3 L935.42,531.6 L935.60,515.0 L935.78,500.5 L935.96,453.8 L936.14,518.0 L936.32,493.1 L936.50,524.4 L936.68,478.3 L936.86,517.2 L937.04,519.5 L937.22,486.5 L937.40,490.7 L937.58,508.2 L937.76,523.1 L937.94,469.0 L938.12,527.4 L938.30,485.3 L938.48,505.8 L938.66,504.4 L938.84,496.3 L939.02,474.8 L939.20,497.4 L939.38,522.3 L939.56,515.0 L939.74,536.6 L939.92,487.2 L940.10,499.6 L940.28,499.6 L940.46,475.2 L940.64,509.8 L940.82,493.6 L941.00,493.9 L941.18,496.7 L941.36,512.0 L941.54,503.6 L941.72,501.9 L941.90,474.1 L942.08,520.4 L942.26,514.3 L942.44,488.9 L942.62,520.9 L942.80,477.8 L942.98,480.1 L943.16,505.7 L943.34,501.3 L943.52,519.5 L943.70,492.1 L943.88,530.8 L944.06,505.6 L944.24,500.4 L944.42,523.3 L944.60,493.1 L944.78,532.1 L944.96,511.4 L945.00,547.5 L945.14,480.9 L945.32,522.9 L945.50,485.1 L945.68,492.0 L945.86,521.7 L946.04,487.0 L946.22,529.7 L946.40,532.9 L946.58,485.5 L946.76,533.0 L946.94,497.4 L947.12,529.4 L947.30,510.7 L947.48,542.4 L947.66,514.9 L947.84,518.3 L948.02,532.6 L948.20,526.7 L948.38,490.8 L948.56,506.2 L948.74,501.1 L948.92,495.2 L949.10,529.6 L949.28,491.9 L949.46,505.2 L949.64,528.3 L949.82,502.6 L950.00,524.6 L950.18,482.6 L950.36,530.1 L950.54,498.3 L950.72,512.3 L950.90,532.5 L951.08,527.4 L951.26,510.4 L951.44,499.4 L951.62,514.8 L951.80,525.4 L951.98,495.4 L952.16,506.9 L952.34,501.0 L952.52,519.4 L952.70,535.0 L952.88,522.7 L953.06,523.9 L953.24,508.8 L953.42,498.1 L953.60,519.2 L953.78,503.6 L953.96,524.0 L954.14,504.8 L954.32,521.4 L954.50,531.7 L954.68,518.2 L954.86,511.6 L955.04,522.2 L955.22,529.3 L955.40,509.6 L955.58,498.4 L955.76,522.1 L955.94,523.9 L956.12,529.5 L956.30,496.5 L956.48,498.5 L956.66,506.9 L956.84,509.4 L957.02,528.4 L957.20,496.2 L957.38,495.7 L957.56,507.5 L957.74,505.9 L957.92,499.8 L958.10,499.6 L958.28,501.6 L958.46,526.8 L958.64,502.9 L958.82,516.2 L959.00,500.7 L959.18,507.9 L959.36,534.8 L959.54,500.1 L959.72,545.5 L959.90,525.1 L960.08,496.7 L960.26,514.9 L960.44,484.9 L960.62,516.8 L960.80,528.9 L960.98,500.3 L961.16,533.5 L961.34,506.0 L961.52,513.1 L961.70,514.5 L961.88,521.7 L962.06,495.7 L962.24,519.7 L962.42,518.7 L962.60,526.5 L962.78,517.7 L962.96,516.7 L963.14,479.3 L963.32,499.1 L963.50,515.4 L963.68,501.7 L963.86,507.9 L964.04,527.1 L964.22,511.0 L964.40,514.1 L964.58,492.8 L964.76,506.9 L964.94,536.1 L965.12,492.4 L965.30,493.4 L965.48,492.0 L965.66,481.6 L965.84,526.2 L966.02,519.1 L966.20,487.3 L966.38,519.3 L966.56,513.3 L966.74,515.9 L966.92,512.1 L967.10,513.7 L967.28,525.8 L967.46,511.4 L967.64,489.3 L967.82,481.7 L968.00,524.7 L968.18,517.3 L968.36,509.2 L968.54,503.2 L968.72,488.0 L968.90,488.9 L969.08,525.1 L969.26,482.5 L969.44,501.1 L969.62,477.1 L969.80,523.3 L969.98,515.7 L970.16,495.7 L970.34,523.2 L970.52,492.3 L970.70,485.7 L970.88,478.1 L971.06,504.9 L971.24,516.9 L971.42,489.3 L971.60,508.9 L971.78,502.4 L971.96,536.0 L972.14,482.3 L972.32,480.8 L972.50,509.2 L972.68,521.6 L972.86,527.7 L973.04,527.7 L973.22,498.3 L973.40,515.1 L973.58,514.4 L973.76,488.9 L973.94,506.0 L974.12,482.4 L974.30,531.1 L974.48,485.1 L974.66,496.0 L974.84,497.8 L975.02,507.3 L975.20,493.8 L975.38,502.0 L975.56,526.8 L975.74,488.5 L975.92,483.5 L976.10,508.0 L976.28,489.7 L976.46,531.1 L976.64,516.0 L976.82,505.4 L977.00,510.7 L977.18,543.7 L977.36,491.8 L977.54,512.0 L977.72,514.7 L977.90,513.2 L978.08,488.2 L978.26,491.9 L978.44,512.4 L978.62,532.4 L978.80,493.2 L978.98,521.3 L979.16,526.1 L979.34,490.0 L979.52,498.9 L979.70,493.9 L979.88,544.7 L980.06,498.5 L980.24,539.3 L980.42,501.4 L980.60,524.3 L980.78,514.4 L980.96,539.9 L981.14,534.4 L981.32,486.5 L981.50,520.9 L981.68,526.1 L981.86,498.8 L982.04,492.5 L982.22,520.2 L982.40,489.5 L982.58,500.2 L982.76,517.0 L982.94,536.9 L983.12,496.6 L983.30,550.6 L983.48,508.7 L983.66,518.7 L983.84,489.4 L984.02,531.2 L984.20,526.6 L984.38,508.7 L984.56,535.7 L984.74,490.5 L984.92,525.4 L985.10,480.4 L985.28,531.7 L985.46,506.1 L985.64,528.1 L985.82,523.1 L986.00,508.1 L986.18,491.2 L986.36,527.5 L986.54,538.8 L986.72,493.6 L986.90,523.2 L987.08,500.1 L987.26,525.0 L987.44,527.6 L987.62,516.7 L987.80,506.6 L987.98,513.3 L988.16,485.4 L988.34,497.7 L988.52,505.9 L988.70,497.8 L988.88,494.5 L989.06,527.0 L989.24,522.1 L989.42,512.0 L989.60,534.3 L989.78,532.5 L989.96,481.6 L990.14,521.6 L990.32,510.9 L990.50,533.9 L990.68,536.4 L990.86,534.7 L991.04,507.6 L991.22,514.9 L991.40,499.3 L991.58,501.6 L991.76,496.1 L991.94,542.0 L992.12,498.5 L992.30,515.5 L992.48,529.0 L992.66,495.8 L992.84,517.0 L993.02,516.2 L993.20,532.1 L993.38,509.3 L993.56,495.3 L993.74,544.5 L993.92,527.2 L994.10,517.4 L994.28,508.7 L994.46,512.6 L994.64,496.2 L994.82,532.0 L995.00,498.8 L995.18,516.7 L995.36,493.8 L995.54,497.4 L995.72,511.9 L995.90,503.2 L996.08,494.7 L996.26,524.2 L996.44,493.1 L996.62,523.8 L996.80,530.5 L996.98,513.1 L997.16,507.5 L997.34,510.3 L997.52,514.4 L997.70,495.1 L997.88,522.4 L998.06,491.4 L998.24,491.9 L998.42,531.9 L998.60,492.1 L998.78,515.3 L998.96,526.2 L999.14,481.1 L999.32,488.7 L999.50,520.4 L999.68,519.7 L999.86,518.7 L1000.04,518.5 L1000.22,490.4 L1000.40,487.9 L1000.58,489.6 L1000.76,524.5 L1000.94,476.9 L1001.12,509.4 L1001.30,487.9 L1001.48,494.0 L1001.66,497.6 L1001.84,524.5 L1002.02,514.7 L1002.20,510.7 L1002.38,512.2 L1002.56,531.7 L1002.74,513.7 L1002.92,487.7 L1003.10,513.4 L1003.28,487.4 L1003.46,517.4 L1003.64,524.7 L1003.82,514.7 L1004.00,493.6 L1004.18,495.8 L1004.36,484.2 L1004.54,476.8 L1004.72,492.4 L1004.90,522.9 L1005.08,493.7 L1005.26,509.9 L1005.44,535.5 L1005.62,507.2 L1005.80,491.3 L1005.98,504.9 L1006.16,502.6 L1006.34,493.3 L1006.52,510.7 L1006.70,519.2 L1006.88,518.5 L1007.06,495.7 L1007.24,532.7 L1007.42,498.7 L1007.60,522.8 L1007.78,511.1 L1007.96,521.7 L1008.14,492.3 L1008.32,523.1 L1008.50,515.1 L1008.68,523.3 L1008.86,515.4 L1009.04,501.0 L1009.22,493.6 L1009.40,489.3 L1009.58,499.3 L1009.76,524.6 L1009.94,530.5 L1010.12,506.2 L1010.30,516.1 L1010.48,513.9 L1010.66,519.7 L1010.84,528.4 L1011.02,526.3 L1011.20,495.1 L1011.38,499.8 L1011.56,500.5 L1011.74,496.1 L1011.92,506.3 L1012.10,526.3 L1012.28,523.4 L1012.46,535.6 L1012.64,523.4 L1012.82,500.8 L1013.00,502.7 L1013.18,517.5 L1013.36,502.8 L1013.54,527.3 L1013.72,519.0 L1013.75,547.5 L1013.90,498.4 L1014.08,532.0 L1014.26,513.7 L1014.44,490.8 L1014.62,481.8 L1014.80,519.7 L1014.98,514.1 L1015.16,496.2 L1015.34,518.1 L1015.52,486.6 L1015.70,505.5 L1015.88,514.0 L1016.06,483.9 L1016.24,499.5 L1016.42,475.1 L1016.60,492.8 L1016.78,489.0 L1016.96,487.0 L1017.14,494.0 L1017.32,476.7 L1017.50,494.9 L1017.68,506.2 L1017.86,493.8 L1018.04,488.0 L1018.22,470.9 L1018.40,471.1 L1018.58,457.2 L1018.76,479.0 L1018.94,497.7 L1019.12,494.6 L1019.30,485.8 L1019.48,504.2 L1019.66,472.0 L1019.84,454.8 L1020.02,457.2 L1020.20,451.4 L1020.38,471.5 L1020.56,488.3 L1020.74,474.8 L1020.92,450.1 L1021.10,489.3 L1021.28,489.0 L1021.46,464.1 L1021.64,447.7 L1021.82,447.8 L1022.00,464.5 L1022.18,485.9 L1022.36,479.9 L1022.54,448.4 L1022.72,498.3 L1022.90,467.4 L1023.08,463.0 L1023.26,479.5 L1023.44,467.4 L1023.62,467.9 L1023.80,485.4 L1023.98,490.2 L1024.16,490.9 L1024.34,486.6 L1024.52,447.0 L1024.70,468.3 L1024.88,465.0 L1025.06,473.3 L1025.24,502.9 L1025.42,466.7 L1025.60,481.4 L1025.78,471.7 L1025.96,452.3 L1026.14,481.7 L1026.32,469.5 L1026.50,419.7 L1026.68,473.3 L1026.86,507.4 L1027.04,491.7 L1027.22,455.1 L1027.40,479.8 L1027.58,448.1 L1027.76,437.6 L1027.94,439.4 L1028.12,493.6 L1028.30,487.0 L1028.48,468.8 L1028.66,440.3 L1028.84,479.7 L1029.02,470.3 L1029.20,485.6 L1029.38,457.0 L1029.56,429.1 L1029.74,443.2 L1029.92,433.9 L1030.10,467.4 L1030.28,437.6 L1030.46,466.5 L1030.64,441.0 L1030.82,441.3 L1031.00,508.2 L1031.18,477.9 L1031.36,416.9 L1031.54,447.9 L1031.72,516.2 L1031.90,415.3 L1032.08,425.8 L1032.20,520.0 L1032.26,466.2 L1032.44,483.9 L1032.62,460.4 L1032.80,421.8 L1032.98,416.7 L1033.16,487.5 L1033.34,419.6 L1033.52,464.4 L1033.70,444.0 L1033.88,431.1 L1034.06,422.0 L1034.24,427.1 L1034.42,405.0 L1034.60,408.9" fill="none" stroke="#4e38e2" stroke-width="1.5" stroke-linejoin="round"/>
<path d="M1034.50,436.9 L1034.80,402.3 L1035.10,386.1 L1035.40,362.6 L1035.70,397.5 L1036.00,411.1 L1035.90,263.3 L1036.40,263.3 L1036.30,358.1 L1036.60,397.3 L1036.90,374.0 L1037.20,408.3 L1037.50,354.9 L1037.40,270.0 L1037.90,270.0 L1037.80,390.7 L1038.10,398.7 L1038.40,421.1 L1038.70,386.7 L1038.65,292.0 L1039.15,292.0 L1039.00,394.9 L1039.30,357.8 L1039.60,384.1 L1039.90,372.9 L1039.75,320.0 L1040.25,320.0 L1040.20,379.4 L1040.50,367.9 L1040.80,374.1 L1040.80,340.0 L1041.30,340.0 L1041.10,432.7 L1041.40,388.0 L1041.70,381.5 L1042.00,431.3 L1041.95,353.0 L1042.45,353.0 L1042.30,374.8 L1042.60,392.7 L1042.90,411.6 L1043.20,444.6 L1043.50,458.8 L1043.80,380.9 L1044.10,419.9 L1044.40,457.0 L1044.70,458.1 L1045.00,412.6 L1045.30,409.2 L1045.60,440.9 L1045.90,415.8 L1046.20,432.4 L1046.50,408.6 L1046.80,407.8 L1047.10,368.1 L1047.40,346.8 L1047.70,454.6 L1048.00,372.4 L1048.30,450.1 L1048.60,394.8 L1048.90,407.0 L1049.20,326.1 L1049.00,314.4 L1049.50,314.4 L1049.50,429.1 L1049.80,438.6 L1050.10,347.9 L1050.40,360.4 L1050.70,405.8 L1051.00,342.5 L1050.90,490.0 L1051.30,490.0 L1051.30,364.0 L1051.60,442.9 L1051.90,337.4 L1052.20,341.7 L1052.50,483.7 L1052.80,376.7 L1052.65,284.4 L1053.15,284.4 L1053.10,468.8 L1053.40,323.2 L1053.70,424.1 L1054.00,467.1 L1054.00,306.7 L1054.50,306.7 L1054.30,322.5 L1054.60,418.0 L1054.90,435.9 L1055.20,445.6 L1055.50,418.1 L1055.80,416.2 L1056.10,436.5 L1056.40,329.9 L1056.70,455.3 L1056.55,303.3 L1057.05,303.3 L1057.00,435.9 L1057.30,448.6 L1057.60,455.1 L1057.90,346.5 L1058.20,445.9 L1058.50,355.0 L1058.80,435.8 L1058.75,296.7 L1059.25,296.7 L1059.10,429.4 L1059.40,371.5 L1059.70,405.5 L1060.00,323.2 L1059.85,300.0 L1060.35,300.0 L1060.30,364.7 L1060.60,400.2 L1060.90,331.6 L1060.90,251.1 L1061.40,251.1 L1061.20,370.8 L1061.50,366.2 L1061.80,386.2 L1062.10,454.4 L1062.00,291.1 L1062.50,291.1 L1062.40,356.3 L1062.70,393.9 L1063.00,467.3 L1063.30,473.6 L1063.15,294.4 L1063.65,294.4 L1063.60,473.4 L1063.90,442.2 L1064.20,453.2 L1064.50,490.2 L1064.80,495.6 L1065.10,494.5 L1064.90,517.0 L1065.30,517.0 L1065.40,504.8 L1065.70,485.2 L1066.00,502.5 L1066.30,482.7 L1066.60,447.8 L1066.90,503.0 L1067.20,479.6 L1067.50,431.3 L1067.80,435.2 L1068.10,430.1 L1068.40,403.9 L1068.70,409.5 L1069.00,295.6 L1069.30,391.4 L1069.60,403.0 L1069.90,313.3 L1070.20,316.5 L1070.15,254.4 L1070.65,254.4 L1070.50,333.4 L1070.80,313.8 L1071.10,409.7 L1071.40,391.5 L1071.70,362.1 L1071.65,252.2 L1072.15,252.2 L1072.00,396.4 L1072.30,346.8 L1072.60,336.3 L1072.90,436.5 L1073.20,357.5 L1073.00,246.7 L1073.50,246.7 L1073.50,410.0 L1073.80,312.3 L1074.10,320.9 L1074.40,372.3 L1074.70,310.7 L1075.00,406.4 L1075.30,412.5 L1075.60,421.5 L1075.60,248.9 L1076.10,248.9 L1075.90,405.6 L1076.20,275.9 L1076.50,345.2 L1076.80,364.6 L1077.10,297.9 L1077.40,340.0 L1077.70,304.2 L1078.00,416.6 L1078.30,374.8 L1078.60,342.2 L1078.90,354.9 L1079.20,343.1 L1079.50,310.4 L1079.40,240.0 L1079.90,240.0 L1079.80,273.5 L1080.10,316.9 L1080.40,402.0 L1080.70,292.4 L1081.00,335.3 L1081.30,278.8 L1081.25,235.6 L1081.75,235.6 L1081.60,301.0 L1081.90,292.1 L1082.20,306.2 L1082.50,446.6 L1082.80,347.8 L1083.10,305.3 L1083.00,280.0 L1083.50,280.0 L1083.40,425.5 L1083.70,303.4 L1084.00,421.1 L1084.30,428.1 L1084.60,328.0 L1084.90,311.5 L1085.20,400.7 L1085.50,327.5 L1085.80,425.6 L1086.10,445.3 L1086.40,366.8 L1086.15,291.1 L1086.65,291.1 L1086.70,355.4 L1087.00,359.9 L1087.30,374.5 L1087.60,467.2 L1087.60,497.0 L1088.00,497.0 L1087.90,421.2 L1088.20,449.8 L1088.50,484.8 L1088.80,458.9 L1089.10,395.1 L1089.40,459.8 L1089.70,393.5 L1090.00,416.3 L1090.30,397.5 L1090.60,384.6 L1090.90,390.2 L1091.20,448.2 L1091.50,399.0 L1091.80,418.4 L1092.10,436.9 L1092.40,393.3 L1092.70,388.7 L1093.00,428.7 L1093.30,398.6 L1093.60,422.5 L1093.90,404.1 L1094.20,414.2 L1094.50,467.8 L1094.80,440.6 L1095.10,397.3 L1095.40,441.8 L1095.70,467.0 L1096.00,456.9 L1096.30,401.1 L1096.60,380.5 L1096.90,445.4 L1097.20,450.1 L1097.50,454.3 L1097.80,433.9 L1098.10,389.8 L1098.40,373.6 L1098.70,439.0 L1099.00,366.4 L1099.30,390.7 L1099.60,405.8 L1099.90,372.0 L1100.20,375.6 L1100.50,302.5 L1100.80,426.7 L1101.10,279.5 L1101.40,397.5 L1101.30,126.0 L1101.80,126.0 L1101.70,284.8 L1102.00,410.9 L1102.30,348.3 L1102.60,403.7 L1102.90,271.6 L1103.20,276.4 L1103.50,295.2 L1103.80,400.4 L1104.10,255.2 L1104.40,416.5 L1104.70,430.8 L1105.00,411.2 L1105.30,425.1 L1105.60,394.5 L1105.90,299.3 L1106.20,354.0 L1106.50,309.6 L1106.80,373.5 L1107.10,260.2 L1107.40,371.9 L1107.40,165.0 L1107.90,165.0 L1107.70,397.0 L1108.00,286.9 L1108.30,373.8 L1108.60,424.7 L1108.90,432.4 L1109.20,356.3 L1109.50,222.3 L1109.30,213.2 L1109.80,213.2 L1109.80,287.3 L1109.80,505.0 L1110.20,505.0 L1110.10,328.8 L1110.40,302.7 L1110.70,374.0 L1111.00,237.5 L1111.30,294.8 L1111.60,276.8 L1111.90,412.2 L1112.20,270.7 L1112.50,322.8 L1112.80,343.1 L1113.10,389.2 L1113.40,283.5 L1113.70,389.1 L1114.00,301.6 L1114.30,259.9 L1114.60,274.5 L1114.90,279.6 L1115.20,241.9 L1115.50,255.6 L1115.80,394.4 L1116.10,365.2 L1116.40,272.7 L1116.70,326.4 L1117.00,267.4 L1117.30,314.0 L1117.60,391.7 L1117.90,369.3 L1117.75,161.0 L1118.25,161.0 L1118.20,397.2 L1118.50,410.2 L1118.80,256.9 L1119.10,313.5 L1119.40,350.7 L1119.30,180.0 L1119.80,180.0 L1119.70,264.3 L1120.00,323.3 L1120.30,269.5 L1120.60,261.8 L1120.90,331.0 L1121.20,294.1 L1121.50,326.0 L1121.80,361.0 L1122.10,231.7 L1122.40,396.5 L1122.20,216.7 L1122.70,216.7 L1122.70,337.0 L1123.00,398.5 L1123.30,230.9 L1123.60,318.2 L1123.50,196.0 L1124.00,196.0 L1123.90,352.1 L1124.20,252.1 L1124.50,262.4 L1124.80,297.4 L1125.10,384.7 L1125.40,331.7 L1125.70,245.2 L1126.00,249.8 L1126.30,389.8 L1126.25,132.5 L1126.75,132.5 L1126.60,289.4 L1126.90,425.6 L1127.20,337.3 L1127.50,331.4 L1127.50,220.8 L1128.00,220.8 L1127.80,351.0 L1128.10,258.8 L1128.40,254.1 L1128.70,387.6 L1129.00,302.0 L1129.30,423.0 L1129.60,341.9 L1129.90,381.3 L1130.20,277.5 L1130.50,403.0 L1130.80,422.3 L1131.10,340.8 L1131.40,395.4 L1131.70,328.0 L1132.00,353.1 L1132.30,396.7 L1132.10,220.0 L1132.60,220.0 L1132.60,348.7 L1132.90,281.2 L1133.20,275.1 L1133.50,240.0 L1133.80,316.4 L1134.10,266.3 L1134.40,271.0 L1134.15,176.0 L1134.65,176.0 L1134.70,342.7 L1135.00,357.0 L1135.30,319.1 L1135.60,382.6 L1135.90,400.0 L1136.20,348.0 L1136.50,323.6 L1136.80,341.4 L1137.10,384.0 L1137.40,291.9 L1137.70,374.1 L1138.00,387.3 L1138.30,273.5 L1138.60,318.3 L1138.90,368.5 L1139.20,357.5 L1139.50,432.4 L1139.50,189.0 L1140.00,189.0 L1139.80,269.4 L1140.10,424.8 L1140.40,258.9 L1140.70,416.8 L1141.00,441.2 L1141.30,363.0 L1141.60,351.7 L1141.50,254.0 L1142.00,254.0 L1141.90,404.0 L1142.20,402.3 L1142.50,458.8 L1142.80,455.5 L1143.10,346.5 L1143.40,452.3 L1143.70,458.6 L1144.00,440.4 L1144.30,399.9 L1144.05,354.9 L1144.55,354.9 L1144.60,418.7 L1144.90,389.6 L1145.20,453.8 L1145.50,415.8 L1145.80,464.8 L1146.10,387.2 L1146.40,458.6 L1146.70,461.9 L1146.50,489.0 L1146.90,489.0 L1147.00,465.4 L1147.30,467.2 L1147.60,378.6 L1147.90,406.3 L1148.20,468.5 L1148.50,441.2 L1148.80,422.2 L1149.10,434.9 L1149.40,428.3 L1149.70,386.3 L1149.45,348.8 L1149.95,348.8 L1150.00,412.9 L1150.30,401.4 L1150.60,362.7 L1150.90,437.1 L1151.20,367.9 L1151.50,372.7 L1151.80,449.0 L1152.10,377.8 L1152.40,390.3 L1152.70,397.1 L1153.00,360.8 L1152.80,485.0 L1153.20,485.0 L1153.30,384.7 L1153.60,477.8 L1153.90,468.4 L1154.20,394.6 L1154.50,410.0 L1154.80,384.9 L1155.10,362.5 L1155.40,403.9 L1155.70,400.7 L1156.00,453.7 L1156.30,472.0 L1156.60,424.2 L1156.90,479.4 L1157.20,467.6 L1157.50,468.6 L1157.80,390.9 L1157.60,325.8 L1158.10,325.8 L1158.10,377.6 L1158.40,393.8 L1158.70,389.5 L1159.00,388.0 L1159.00,504.0 L1159.40,504.0 L1159.30,481.4 L1159.60,466.0 L1159.90,451.9 L1160.20,462.7 L1160.50,445.3 L1160.80,390.7 L1161.10,413.7 L1161.40,393.6 L1161.70,385.7 L1161.70,348.8 L1162.20,348.8 L1162.00,448.4 L1162.30,365.2 L1162.60,387.5 L1162.90,390.6 L1163.20,432.4 L1163.50,461.2 L1163.80,454.9 L1164.10,417.1 L1164.40,376.0 L1164.70,461.6 L1165.00,443.2 L1165.30,447.2 L1165.60,378.5 L1165.90,428.3 L1166.20,474.4 L1166.50,452.1 L1166.80,452.2 L1166.80,490.0 L1167.20,490.0 L1167.10,383.9 L1167.40,379.3 L1167.25,335.0 L1167.75,335.0 L1167.70,446.3 L1168.00,402.0 L1168.30,398.7 L1168.60,448.4 L1168.90,369.9 L1169.20,360.9 L1169.50,375.2 L1169.80,377.5 L1170.10,367.7 L1170.40,389.7 L1170.70,388.1 L1171.00,383.6 L1171.30,406.6 L1171.60,459.1 L1171.90,392.1 L1172.20,384.0 L1172.50,470.9 L1172.80,426.3 L1172.60,293.8 L1173.10,293.8 L1173.10,492.2 L1173.40,389.8 L1173.70,403.5 L1174.00,485.3 L1174.30,463.8 L1174.30,344.2 L1174.80,344.2 L1174.60,438.9 L1174.90,392.8 L1175.20,481.7 L1175.50,397.3 L1175.80,381.2 L1175.60,509.0 L1176.00,509.0 L1176.10,483.8 L1176.40,469.7 L1176.70,440.3 L1177.00,423.4 L1177.30,393.0 L1177.60,409.6 L1177.90,407.4 L1178.20,433.3 L1178.50,419.9 L1178.80,395.7 L1179.10,472.2 L1179.40,463.0 L1179.70,381.4 L1180.00,504.5 L1179.80,503.0 L1180.20,503.0 L1180.30,432.1 L1180.60,462.6 L1180.90,426.5 L1181.20,420.1 L1181.50,374.6 L1181.80,386.9 L1182.10,461.4 L1182.40,365.8 L1182.70,443.2 L1183.00,379.5 L1183.30,372.4 L1183.60,375.1 L1183.90,429.4 L1184.20,441.5 L1184.50,389.3 L1184.80,427.3 L1185.10,389.5 L1185.40,392.4 L1185.35,325.8 L1185.85,325.8 L1185.70,410.6 L1186.00,463.5 L1186.30,460.7 L1186.60,465.0 L1186.90,387.5 L1187.20,405.3 L1187.20,330.4 L1187.70,330.4 L1187.50,464.5 L1187.30,493.0 L1187.70,493.0 L1187.80,411.2 L1188.10,451.5 L1188.40,381.9 L1188.70,378.5 L1189.00,432.5 L1189.30,381.8 L1189.60,401.4 L1189.90,404.6 L1190.20,425.1 L1190.50,392.8 L1190.80,380.9" fill="none" stroke="#4e38e2" stroke-width="1.5" stroke-linejoin="round"/>
<line x1="71" y1="100" x2="71" y2="656" stroke="#5f4ee8" stroke-width="2"/>
<line x1="1197.85" y1="100" x2="1197.85" y2="655.8" stroke="#111" stroke-width="1.6"/>
<rect x="27" y="374" width="44" height="30" fill="#4e38e2"/>
<text x="31.9" y="395.8" font-size="16" fill="#fff" textLength="35" lengthAdjust="spacingAndGlyphs">459K</text>
<rect x="1198" y="109.5" width="81" height="29" fill="#131313"/>
<text x="1202.3" y="130.9" font-size="16" fill="#fff" textLength="72" lengthAdjust="spacingAndGlyphs">$115.567K</text>
<text x="1088.4" y="702" font-size="11" fill="#85858f" textLength="159.7" lengthAdjust="spacingAndGlyphs">© CryptoQuant. All rights reserved</text>
</svg>
</body></html>
